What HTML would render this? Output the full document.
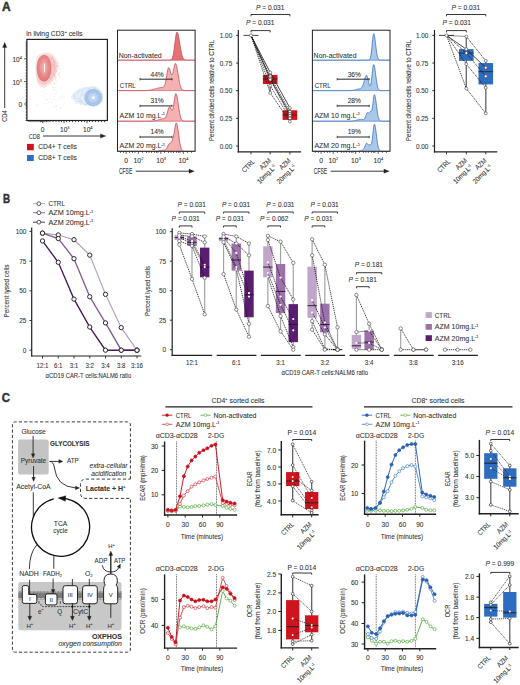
<!DOCTYPE html>
<html><head><meta charset="utf-8"><style>
html,body{margin:0;padding:0;background:#fff;width:520px;height:685px;overflow:hidden}
svg{display:block}
text{font-family:"Liberation Sans", sans-serif;fill:#333;stroke:#333;stroke-width:0.08px}
</style></head><body>
<svg width="520" height="685" viewBox="0 0 520 685">
<defs>
<radialGradient id="rgr" cx="0.5" cy="0.45" r="0.55"><stop offset="0" stop-color="#f4b4b4"/><stop offset="0.55" stop-color="#ea9494"/><stop offset="1" stop-color="#e07878"/></radialGradient>
<radialGradient id="rgb" cx="0.5" cy="0.5" r="0.5"><stop offset="0" stop-color="#d2e3f6"/><stop offset="0.6" stop-color="#b2cdee"/><stop offset="1" stop-color="#9fc0e9"/></radialGradient>
</defs>
<rect width="520" height="685" fill="#fff"/>
<text x="1.9" y="11.2" font-size="12" font-weight="bold" fill="#111" stroke="#111" style="stroke-width:0.45px">A</text>
<text x="26.3" y="36" font-size="6.8" textLength="56" lengthAdjust="spacingAndGlyphs">in living CD3<tspan dy="-2.6" font-size="4.2">+</tspan><tspan dy="2.6"> cells</tspan></text>
<rect x="26.9" y="39.4" width="80.5" height="81.1" fill="none" stroke="#222" stroke-width="1.2" rx="0" />
<line x1="26.9" y1="42" x2="25.6" y2="42" stroke="#222" stroke-width="0.8" />
<line x1="26.9" y1="44" x2="25.6" y2="44" stroke="#222" stroke-width="0.8" />
<line x1="26.9" y1="46" x2="25.6" y2="46" stroke="#222" stroke-width="0.8" />
<line x1="26.9" y1="48" x2="25.6" y2="48" stroke="#222" stroke-width="0.8" />
<line x1="26.9" y1="50" x2="25.6" y2="50" stroke="#222" stroke-width="0.8" />
<line x1="26.9" y1="52" x2="25.6" y2="52" stroke="#222" stroke-width="0.8" />
<line x1="26.9" y1="54" x2="25.6" y2="54" stroke="#222" stroke-width="0.8" />
<line x1="26.9" y1="56" x2="25.6" y2="56" stroke="#222" stroke-width="0.8" />
<line x1="26.9" y1="58.8" x2="24.2" y2="58.8" stroke="#222" stroke-width="0.8" />
<line x1="26.9" y1="61.5" x2="25.6" y2="61.5" stroke="#222" stroke-width="0.8" />
<line x1="26.9" y1="64" x2="25.6" y2="64" stroke="#222" stroke-width="0.8" />
<line x1="26.9" y1="67" x2="25.6" y2="67" stroke="#222" stroke-width="0.8" />
<line x1="26.9" y1="70" x2="25.6" y2="70" stroke="#222" stroke-width="0.8" />
<line x1="26.9" y1="73" x2="25.6" y2="73" stroke="#222" stroke-width="0.8" />
<line x1="26.9" y1="76" x2="25.6" y2="76" stroke="#222" stroke-width="0.8" />
<line x1="26.9" y1="79" x2="25.6" y2="79" stroke="#222" stroke-width="0.8" />
<line x1="26.9" y1="81.6" x2="24.2" y2="81.6" stroke="#222" stroke-width="0.8" />
<line x1="26.9" y1="84" x2="25.6" y2="84" stroke="#222" stroke-width="0.8" />
<line x1="26.9" y1="87" x2="25.6" y2="87" stroke="#222" stroke-width="0.8" />
<line x1="26.9" y1="90" x2="25.6" y2="90" stroke="#222" stroke-width="0.8" />
<line x1="26.9" y1="93" x2="25.6" y2="93" stroke="#222" stroke-width="0.8" />
<line x1="26.9" y1="96" x2="25.6" y2="96" stroke="#222" stroke-width="0.8" />
<line x1="26.9" y1="99" x2="25.6" y2="99" stroke="#222" stroke-width="0.8" />
<line x1="26.9" y1="101" x2="25.6" y2="101" stroke="#222" stroke-width="0.8" />
<line x1="26.9" y1="102.5" x2="25.6" y2="102.5" stroke="#222" stroke-width="0.8" />
<line x1="26.9" y1="104" x2="24.2" y2="104" stroke="#222" stroke-width="0.8" />
<line x1="26.9" y1="105.5" x2="25.6" y2="105.5" stroke="#222" stroke-width="0.8" />
<line x1="26.9" y1="107" x2="25.6" y2="107" stroke="#222" stroke-width="0.8" />
<line x1="26.9" y1="109" x2="25.6" y2="109" stroke="#222" stroke-width="0.8" />
<line x1="26.9" y1="112" x2="25.6" y2="112" stroke="#222" stroke-width="0.8" />
<line x1="26.9" y1="115" x2="25.6" y2="115" stroke="#222" stroke-width="0.8" />
<line x1="26.9" y1="118" x2="25.6" y2="118" stroke="#222" stroke-width="0.8" />
<line x1="26.9" y1="120.5" x2="25.6" y2="120.5" stroke="#222" stroke-width="0.8" />
<line x1="29" y1="120.5" x2="29" y2="122.1" stroke="#222" stroke-width="0.8" />
<line x1="31" y1="120.5" x2="31" y2="122.1" stroke="#222" stroke-width="0.8" />
<line x1="33" y1="120.5" x2="33" y2="122.1" stroke="#222" stroke-width="0.8" />
<line x1="35" y1="120.5" x2="35" y2="122.1" stroke="#222" stroke-width="0.8" />
<line x1="37" y1="120.5" x2="37" y2="122.1" stroke="#222" stroke-width="0.8" />
<line x1="39" y1="120.5" x2="39" y2="122.1" stroke="#222" stroke-width="0.8" />
<line x1="40.5" y1="120.5" x2="40.5" y2="122.1" stroke="#222" stroke-width="0.8" />
<line x1="41.7" y1="120.5" x2="41.7" y2="122.1" stroke="#222" stroke-width="0.8" />
<line x1="42.7" y1="120.5" x2="42.7" y2="123.1" stroke="#222" stroke-width="0.8" />
<line x1="43.8" y1="120.5" x2="43.8" y2="122.1" stroke="#222" stroke-width="0.8" />
<line x1="45" y1="120.5" x2="45" y2="122.1" stroke="#222" stroke-width="0.8" />
<line x1="46.5" y1="120.5" x2="46.5" y2="122.1" stroke="#222" stroke-width="0.8" />
<line x1="48" y1="120.5" x2="48" y2="122.1" stroke="#222" stroke-width="0.8" />
<line x1="50" y1="120.5" x2="50" y2="122.1" stroke="#222" stroke-width="0.8" />
<line x1="53" y1="120.5" x2="53" y2="122.1" stroke="#222" stroke-width="0.8" />
<line x1="56" y1="120.5" x2="56" y2="122.1" stroke="#222" stroke-width="0.8" />
<line x1="59" y1="120.5" x2="59" y2="122.1" stroke="#222" stroke-width="0.8" />
<line x1="61.5" y1="120.5" x2="61.5" y2="122.1" stroke="#222" stroke-width="0.8" />
<line x1="64" y1="120.5" x2="64" y2="123.1" stroke="#222" stroke-width="0.8" />
<line x1="66.5" y1="120.5" x2="66.5" y2="122.1" stroke="#222" stroke-width="0.8" />
<line x1="69.5" y1="120.5" x2="69.5" y2="122.1" stroke="#222" stroke-width="0.8" />
<line x1="72.5" y1="120.5" x2="72.5" y2="122.1" stroke="#222" stroke-width="0.8" />
<line x1="75.5" y1="120.5" x2="75.5" y2="122.1" stroke="#222" stroke-width="0.8" />
<line x1="78.5" y1="120.5" x2="78.5" y2="122.1" stroke="#222" stroke-width="0.8" />
<line x1="81.5" y1="120.5" x2="81.5" y2="122.1" stroke="#222" stroke-width="0.8" />
<line x1="84.5" y1="120.5" x2="84.5" y2="122.1" stroke="#222" stroke-width="0.8" />
<line x1="87" y1="120.5" x2="87" y2="123.1" stroke="#222" stroke-width="0.8" />
<line x1="89.5" y1="120.5" x2="89.5" y2="122.1" stroke="#222" stroke-width="0.8" />
<line x1="92.5" y1="120.5" x2="92.5" y2="122.1" stroke="#222" stroke-width="0.8" />
<line x1="95.5" y1="120.5" x2="95.5" y2="122.1" stroke="#222" stroke-width="0.8" />
<line x1="98.5" y1="120.5" x2="98.5" y2="122.1" stroke="#222" stroke-width="0.8" />
<line x1="101.5" y1="120.5" x2="101.5" y2="122.1" stroke="#222" stroke-width="0.8" />
<line x1="104.5" y1="120.5" x2="104.5" y2="122.1" stroke="#222" stroke-width="0.8" />
<text x="22" y="62.1" font-size="6.6" text-anchor="end">10<tspan dy="-2.8" font-size="4">4</tspan></text>
<text x="22" y="84.7" font-size="6.6" text-anchor="end">10<tspan dy="-2.8" font-size="4">3</tspan></text>
<text x="22.2" y="106.8" font-size="6.6" text-anchor="end">0</text>
<text x="42.7" y="131.6" font-size="6.6" text-anchor="middle">0</text>
<text x="64.8" y="131.8" font-size="6.6" text-anchor="middle">10<tspan dy="-2.8" font-size="4">3</tspan></text>
<text x="87.8" y="131.8" font-size="6.6" text-anchor="middle">10<tspan dy="-2.8" font-size="4">4</tspan></text>
<text x="7.3" y="121.8" font-size="7.9" transform="rotate(-90 7.3 121.8)" textLength="11.5" lengthAdjust="spacingAndGlyphs">CD4</text>
<line x1="4.7" y1="108" x2="4.7" y2="46" stroke="#222" stroke-width="0.9" />
<path d="M2.6 47.5 L4.7 42.3 L6.8 47.5 Z" stroke="#222" stroke-width="0.3" fill="#222" />
<text x="28.8" y="138.6" font-size="8" textLength="11.1" lengthAdjust="spacingAndGlyphs">CD8</text>
<line x1="43" y1="136" x2="101" y2="136" stroke="#222" stroke-width="0.9" />
<path d="M100.5 133.9 L105.8 136.0 L100.5 138.1 Z" stroke="#222" stroke-width="0.3" fill="#222" />
<rect x="42.66" y="97.97" width="0.7" height="0.7" fill="#e2e2e2" stroke="none" stroke-width="0" rx="0" />
<rect x="46.36" y="99.29" width="0.7" height="0.7" fill="#e2e2e2" stroke="none" stroke-width="0" rx="0" />
<rect x="53.52" y="87.44" width="0.7" height="0.7" fill="#e2e2e2" stroke="none" stroke-width="0" rx="0" />
<rect x="36.37" y="104.42" width="0.7" height="0.7" fill="#e2e2e2" stroke="none" stroke-width="0" rx="0" />
<rect x="43.26" y="91.16" width="0.7" height="0.7" fill="#e2e2e2" stroke="none" stroke-width="0" rx="0" />
<rect x="63.88" y="96.35" width="0.7" height="0.7" fill="#e2e2e2" stroke="none" stroke-width="0" rx="0" />
<rect x="59.42" y="96.48" width="0.7" height="0.7" fill="#e2e2e2" stroke="none" stroke-width="0" rx="0" />
<rect x="53.89" y="89.31" width="0.7" height="0.7" fill="#e2e2e2" stroke="none" stroke-width="0" rx="0" />
<rect x="53.78" y="105.1" width="0.7" height="0.7" fill="#e2e2e2" stroke="none" stroke-width="0" rx="0" />
<rect x="50.65" y="102.31" width="0.7" height="0.7" fill="#e2e2e2" stroke="none" stroke-width="0" rx="0" />
<rect x="54.8" y="87.41" width="0.7" height="0.7" fill="#e2e2e2" stroke="none" stroke-width="0" rx="0" />
<rect x="57.23" y="99" width="0.7" height="0.7" fill="#e2e2e2" stroke="none" stroke-width="0" rx="0" />
<rect x="44.44" y="86.68" width="0.7" height="0.7" fill="#e2e2e2" stroke="none" stroke-width="0" rx="0" />
<rect x="60.23" y="96.4" width="0.7" height="0.7" fill="#e2e2e2" stroke="none" stroke-width="0" rx="0" />
<rect x="56.13" y="105.33" width="0.7" height="0.7" fill="#e2e2e2" stroke="none" stroke-width="0" rx="0" />
<rect x="56" y="106.26" width="0.7" height="0.7" fill="#e2e2e2" stroke="none" stroke-width="0" rx="0" />
<rect x="47.06" y="103.62" width="0.7" height="0.7" fill="#e2e2e2" stroke="none" stroke-width="0" rx="0" />
<rect x="48.45" y="106.58" width="0.7" height="0.7" fill="#e2e2e2" stroke="none" stroke-width="0" rx="0" />
<rect x="60.61" y="88.14" width="0.7" height="0.7" fill="#e2e2e2" stroke="none" stroke-width="0" rx="0" />
<rect x="39.81" y="90.77" width="0.7" height="0.7" fill="#e2e2e2" stroke="none" stroke-width="0" rx="0" />
<rect x="63.03" y="95.6" width="0.7" height="0.7" fill="#e2e2e2" stroke="none" stroke-width="0" rx="0" />
<rect x="53.55" y="92.62" width="0.7" height="0.7" fill="#e2e2e2" stroke="none" stroke-width="0" rx="0" />
<rect x="50.2" y="94.49" width="0.7" height="0.7" fill="#e2e2e2" stroke="none" stroke-width="0" rx="0" />
<rect x="45.83" y="98.87" width="0.7" height="0.7" fill="#e2e2e2" stroke="none" stroke-width="0" rx="0" />
<rect x="52.36" y="105.89" width="0.7" height="0.7" fill="#e2e2e2" stroke="none" stroke-width="0" rx="0" />
<rect x="55.1" y="106.44" width="0.7" height="0.7" fill="#e2e2e2" stroke="none" stroke-width="0" rx="0" />
<rect x="59.98" y="107.8" width="0.7" height="0.7" fill="#e2e2e2" stroke="none" stroke-width="0" rx="0" />
<rect x="54.8" y="89.59" width="0.7" height="0.7" fill="#e2e2e2" stroke="none" stroke-width="0" rx="0" />
<rect x="60.1" y="107.22" width="0.7" height="0.7" fill="#e2e2e2" stroke="none" stroke-width="0" rx="0" />
<rect x="61.33" y="98.52" width="0.7" height="0.7" fill="#e2e2e2" stroke="none" stroke-width="0" rx="0" />
<rect x="55.99" y="90.64" width="0.7" height="0.7" fill="#e2e2e2" stroke="none" stroke-width="0" rx="0" />
<rect x="59.29" y="98.62" width="0.7" height="0.7" fill="#e2e2e2" stroke="none" stroke-width="0" rx="0" />
<rect x="43.98" y="87.4" width="0.7" height="0.7" fill="#e2e2e2" stroke="none" stroke-width="0" rx="0" />
<rect x="59.91" y="107.78" width="0.7" height="0.7" fill="#e2e2e2" stroke="none" stroke-width="0" rx="0" />
<rect x="38.48" y="103.61" width="0.7" height="0.7" fill="#e2e2e2" stroke="none" stroke-width="0" rx="0" />
<rect x="47.49" y="89.32" width="0.7" height="0.7" fill="#e2e2e2" stroke="none" stroke-width="0" rx="0" />
<rect x="44.23" y="102.91" width="0.7" height="0.7" fill="#e2e2e2" stroke="none" stroke-width="0" rx="0" />
<rect x="60.44" y="86.97" width="0.7" height="0.7" fill="#e2e2e2" stroke="none" stroke-width="0" rx="0" />
<rect x="53.21" y="86.99" width="0.7" height="0.7" fill="#e2e2e2" stroke="none" stroke-width="0" rx="0" />
<rect x="56.12" y="93.28" width="0.7" height="0.7" fill="#e2e2e2" stroke="none" stroke-width="0" rx="0" />
<rect x="60.67" y="107.57" width="0.7" height="0.7" fill="#e2e2e2" stroke="none" stroke-width="0" rx="0" />
<rect x="50.15" y="107.97" width="0.7" height="0.7" fill="#e2e2e2" stroke="none" stroke-width="0" rx="0" />
<rect x="44.67" y="87.69" width="0.7" height="0.7" fill="#e2e2e2" stroke="none" stroke-width="0" rx="0" />
<rect x="52.79" y="86.69" width="0.7" height="0.7" fill="#e2e2e2" stroke="none" stroke-width="0" rx="0" />
<rect x="41.53" y="94.97" width="0.7" height="0.7" fill="#e2e2e2" stroke="none" stroke-width="0" rx="0" />
<rect x="53.09" y="89.44" width="0.7" height="0.7" fill="#e2e2e2" stroke="none" stroke-width="0" rx="0" />
<rect x="37.19" y="105.09" width="0.7" height="0.7" fill="#e2e2e2" stroke="none" stroke-width="0" rx="0" />
<rect x="44.79" y="107.09" width="0.7" height="0.7" fill="#e2e2e2" stroke="none" stroke-width="0" rx="0" />
<rect x="61.11" y="94.31" width="0.7" height="0.7" fill="#e2e2e2" stroke="none" stroke-width="0" rx="0" />
<rect x="48.89" y="97.44" width="0.7" height="0.7" fill="#e2e2e2" stroke="none" stroke-width="0" rx="0" />
<rect x="54.03" y="99.1" width="0.7" height="0.7" fill="#e2e2e2" stroke="none" stroke-width="0" rx="0" />
<rect x="51.66" y="99.64" width="0.7" height="0.7" fill="#e2e2e2" stroke="none" stroke-width="0" rx="0" />
<rect x="62.34" y="97.15" width="0.7" height="0.7" fill="#e2e2e2" stroke="none" stroke-width="0" rx="0" />
<rect x="48.07" y="101.85" width="0.7" height="0.7" fill="#e2e2e2" stroke="none" stroke-width="0" rx="0" />
<rect x="42.65" y="92.62" width="0.7" height="0.7" fill="#e2e2e2" stroke="none" stroke-width="0" rx="0" />
<rect x="63.38" y="97.46" width="0.7" height="0.7" fill="#e2e2e2" stroke="none" stroke-width="0" rx="0" />
<rect x="51.36" y="86.25" width="0.7" height="0.7" fill="#e2e2e2" stroke="none" stroke-width="0" rx="0" />
<rect x="47.63" y="98.76" width="0.7" height="0.7" fill="#e2e2e2" stroke="none" stroke-width="0" rx="0" />
<rect x="36.56" y="99.55" width="0.7" height="0.7" fill="#e2e2e2" stroke="none" stroke-width="0" rx="0" />
<rect x="53.7" y="87.32" width="0.7" height="0.7" fill="#e2e2e2" stroke="none" stroke-width="0" rx="0" />
<rect x="53.57" y="96.26" width="0.7" height="0.7" fill="#e2e2e2" stroke="none" stroke-width="0" rx="0" />
<rect x="55.02" y="93.76" width="0.7" height="0.7" fill="#e2e2e2" stroke="none" stroke-width="0" rx="0" />
<rect x="55.79" y="102.24" width="0.7" height="0.7" fill="#e2e2e2" stroke="none" stroke-width="0" rx="0" />
<rect x="36.62" y="87.33" width="0.7" height="0.7" fill="#e2e2e2" stroke="none" stroke-width="0" rx="0" />
<rect x="54.93" y="107.19" width="0.7" height="0.7" fill="#e2e2e2" stroke="none" stroke-width="0" rx="0" />
<rect x="43.03" y="96.04" width="0.7" height="0.7" fill="#e2e2e2" stroke="none" stroke-width="0" rx="0" />
<rect x="52.59" y="93.04" width="0.7" height="0.7" fill="#e2e2e2" stroke="none" stroke-width="0" rx="0" />
<rect x="46.19" y="92.88" width="0.7" height="0.7" fill="#e2e2e2" stroke="none" stroke-width="0" rx="0" />
<rect x="46.34" y="99.1" width="0.7" height="0.7" fill="#e2e2e2" stroke="none" stroke-width="0" rx="0" />
<rect x="44.41" y="94.3" width="0.7" height="0.7" fill="#e2e2e2" stroke="none" stroke-width="0" rx="0" />
<path d="M46.5 53 C57 52.5 60 66 55 76 C51.5 84 45 88.5 40.5 86.5 C35 82 35 62 37.5 56.5 C40.5 53.5 43.5 53 46.5 53 Z" stroke="#e7a0a0" stroke-width="0.45" fill="#fcecec" stroke-dasharray="0.6 0.5"/>
<path d="M46.45 54.7 C55.9 54.25 58.6 66.4 54.1 75.4 C50.95 82.6 45.1 86.65 41.05 84.85 C36.1 80.8 36.1 62.8 38.35 57.85 C41.05 55.15 43.75 54.7 46.45 54.7 Z" stroke="#e39090" stroke-width="0.4" fill="#f9dcdc" stroke-dasharray="0.6 0.5"/>
<path d="M46.4 56.4 C54.8 56 57.2 66.8 53.2 74.8 C50.4 81.2 45.2 84.8 41.6 83.2 C37.2 79.6 37.2 63.6 39.2 59.2 C41.6 56.8 44 56.4 46.4 56.4 Z" stroke="#df8686" stroke-width="0.4" fill="#f6cccc" stroke-dasharray="0.7 0.4"/>
<ellipse cx="44.1" cy="68.2" rx="7.0" ry="13.0" fill="url(#rgr)" stroke="#d86464" stroke-width="0.6"/>
<ellipse cx="44.2" cy="67.8" rx="5.0" ry="10.0" fill="none" stroke="#de7474" stroke-width="0.4"/>
<ellipse cx="44.3" cy="67.5" rx="3.2" ry="7.0" fill="none" stroke="#e48a8a" stroke-width="0.35"/>
<line x1="44.6" y1="63.5" x2="44.4" y2="72.5" stroke="#fff" stroke-width="0.9" />
<rect x="55.69" y="77.06" width="0.6" height="0.6" fill="#e79a9a" stroke="none" stroke-width="0" rx="0" />
<rect x="53.1" y="61.68" width="0.6" height="0.6" fill="#e79a9a" stroke="none" stroke-width="0" rx="0" />
<rect x="58.04" y="62.16" width="0.6" height="0.6" fill="#e79a9a" stroke="none" stroke-width="0" rx="0" />
<rect x="51.87" y="68.06" width="0.6" height="0.6" fill="#e79a9a" stroke="none" stroke-width="0" rx="0" />
<rect x="53.22" y="65.01" width="0.6" height="0.6" fill="#e79a9a" stroke="none" stroke-width="0" rx="0" />
<rect x="58.34" y="68.15" width="0.6" height="0.6" fill="#e79a9a" stroke="none" stroke-width="0" rx="0" />
<rect x="53.37" y="74.51" width="0.6" height="0.6" fill="#e79a9a" stroke="none" stroke-width="0" rx="0" />
<rect x="58.85" y="68.53" width="0.6" height="0.6" fill="#e79a9a" stroke="none" stroke-width="0" rx="0" />
<rect x="52.25" y="58.63" width="0.6" height="0.6" fill="#e79a9a" stroke="none" stroke-width="0" rx="0" />
<rect x="55.3" y="60.72" width="0.6" height="0.6" fill="#e79a9a" stroke="none" stroke-width="0" rx="0" />
<rect x="51.84" y="63.36" width="0.6" height="0.6" fill="#e79a9a" stroke="none" stroke-width="0" rx="0" />
<rect x="58.07" y="74.26" width="0.6" height="0.6" fill="#e79a9a" stroke="none" stroke-width="0" rx="0" />
<rect x="58.06" y="65.36" width="0.6" height="0.6" fill="#e79a9a" stroke="none" stroke-width="0" rx="0" />
<rect x="51.3" y="63.76" width="0.6" height="0.6" fill="#e79a9a" stroke="none" stroke-width="0" rx="0" />
<rect x="57.94" y="63.14" width="0.6" height="0.6" fill="#e79a9a" stroke="none" stroke-width="0" rx="0" />
<rect x="53.46" y="67.51" width="0.6" height="0.6" fill="#e79a9a" stroke="none" stroke-width="0" rx="0" />
<rect x="54.2" y="67.29" width="0.6" height="0.6" fill="#e79a9a" stroke="none" stroke-width="0" rx="0" />
<rect x="50.05" y="83.3" width="0.6" height="0.6" fill="#e79a9a" stroke="none" stroke-width="0" rx="0" />
<rect x="54.34" y="83.5" width="0.6" height="0.6" fill="#e79a9a" stroke="none" stroke-width="0" rx="0" />
<rect x="56.63" y="70.57" width="0.6" height="0.6" fill="#e79a9a" stroke="none" stroke-width="0" rx="0" />
<rect x="52.89" y="65.23" width="0.6" height="0.6" fill="#e79a9a" stroke="none" stroke-width="0" rx="0" />
<rect x="52.27" y="57.04" width="0.6" height="0.6" fill="#e79a9a" stroke="none" stroke-width="0" rx="0" />
<rect x="55.89" y="63.61" width="0.6" height="0.6" fill="#e79a9a" stroke="none" stroke-width="0" rx="0" />
<rect x="59.04" y="75.81" width="0.6" height="0.6" fill="#e79a9a" stroke="none" stroke-width="0" rx="0" />
<rect x="59" y="72.31" width="0.6" height="0.6" fill="#e79a9a" stroke="none" stroke-width="0" rx="0" />
<rect x="50.13" y="77.36" width="0.6" height="0.6" fill="#e79a9a" stroke="none" stroke-width="0" rx="0" />
<rect x="51.72" y="64" width="0.6" height="0.6" fill="#e79a9a" stroke="none" stroke-width="0" rx="0" />
<rect x="56.63" y="70.75" width="0.6" height="0.6" fill="#e79a9a" stroke="none" stroke-width="0" rx="0" />
<rect x="54.14" y="83.17" width="0.6" height="0.6" fill="#e79a9a" stroke="none" stroke-width="0" rx="0" />
<rect x="56.12" y="65.24" width="0.6" height="0.6" fill="#e79a9a" stroke="none" stroke-width="0" rx="0" />
<rect x="52.52" y="80.85" width="0.6" height="0.6" fill="#e79a9a" stroke="none" stroke-width="0" rx="0" />
<rect x="54.77" y="78.47" width="0.6" height="0.6" fill="#e79a9a" stroke="none" stroke-width="0" rx="0" />
<rect x="53.52" y="60.92" width="0.6" height="0.6" fill="#e79a9a" stroke="none" stroke-width="0" rx="0" />
<rect x="55.35" y="79.5" width="0.6" height="0.6" fill="#e79a9a" stroke="none" stroke-width="0" rx="0" />
<rect x="51.71" y="78.75" width="0.6" height="0.6" fill="#e79a9a" stroke="none" stroke-width="0" rx="0" />
<rect x="56.29" y="80.88" width="0.6" height="0.6" fill="#e79a9a" stroke="none" stroke-width="0" rx="0" />
<rect x="50.5" y="63.14" width="0.6" height="0.6" fill="#e79a9a" stroke="none" stroke-width="0" rx="0" />
<rect x="52.69" y="70.82" width="0.6" height="0.6" fill="#e79a9a" stroke="none" stroke-width="0" rx="0" />
<rect x="54.23" y="69.19" width="0.6" height="0.6" fill="#e79a9a" stroke="none" stroke-width="0" rx="0" />
<rect x="50.55" y="58.81" width="0.6" height="0.6" fill="#e79a9a" stroke="none" stroke-width="0" rx="0" />
<rect x="51.25" y="57.05" width="0.6" height="0.6" fill="#e79a9a" stroke="none" stroke-width="0" rx="0" />
<rect x="50.86" y="70.06" width="0.6" height="0.6" fill="#e79a9a" stroke="none" stroke-width="0" rx="0" />
<rect x="53.16" y="64.44" width="0.6" height="0.6" fill="#e79a9a" stroke="none" stroke-width="0" rx="0" />
<rect x="53.51" y="74.41" width="0.6" height="0.6" fill="#e79a9a" stroke="none" stroke-width="0" rx="0" />
<rect x="55.87" y="65.83" width="0.6" height="0.6" fill="#e79a9a" stroke="none" stroke-width="0" rx="0" />
<rect x="51.91" y="64.86" width="0.6" height="0.6" fill="#e79a9a" stroke="none" stroke-width="0" rx="0" />
<rect x="51.24" y="71.67" width="0.6" height="0.6" fill="#e79a9a" stroke="none" stroke-width="0" rx="0" />
<rect x="57.16" y="66.41" width="0.6" height="0.6" fill="#e79a9a" stroke="none" stroke-width="0" rx="0" />
<rect x="50.8" y="60.36" width="0.6" height="0.6" fill="#e79a9a" stroke="none" stroke-width="0" rx="0" />
<rect x="53.73" y="73.13" width="0.6" height="0.6" fill="#e79a9a" stroke="none" stroke-width="0" rx="0" />
<rect x="57.83" y="66.41" width="0.6" height="0.6" fill="#e79a9a" stroke="none" stroke-width="0" rx="0" />
<rect x="58.01" y="73.69" width="0.6" height="0.6" fill="#e79a9a" stroke="none" stroke-width="0" rx="0" />
<rect x="54.32" y="66.17" width="0.6" height="0.6" fill="#e79a9a" stroke="none" stroke-width="0" rx="0" />
<rect x="54.96" y="76.09" width="0.6" height="0.6" fill="#e79a9a" stroke="none" stroke-width="0" rx="0" />
<rect x="54.21" y="75.82" width="0.6" height="0.6" fill="#e79a9a" stroke="none" stroke-width="0" rx="0" />
<rect x="54.61" y="62.35" width="0.6" height="0.6" fill="#e79a9a" stroke="none" stroke-width="0" rx="0" />
<path d="M102.5 97.5 C102.5 104.5 96.5 106.5 88.5 105.5 C80.5 104.5 72 101.5 71.5 96.5 C73 91 84.5 86.5 92.5 86.5 C99.5 86.5 102.5 92 102.5 97.5 Z" stroke="#a9c5ea" stroke-width="0.45" fill="#eef4fb" stroke-dasharray="0.6 0.5"/>
<path d="M101.55 97.45 C101.55 103.75 96.15 105.55 88.95 104.65 C81.75 103.75 74.1 101.05 73.65 96.55 C75 91.6 85.35 87.55 92.55 87.55 C98.85 87.55 101.55 92.5 101.55 97.45 Z" stroke="#a2c0e8" stroke-width="0.4" fill="#e4eefa" stroke-dasharray="0.6 0.5"/>
<ellipse cx="93.2" cy="97.6" rx="8.6" ry="8.3" fill="url(#rgb)" stroke="#8fb3e2" stroke-width="0.5"/>
<ellipse cx="93.2" cy="97.6" rx="6.0" ry="5.8" fill="none" stroke="#8eb2e0" stroke-width="0.35"/>
<circle cx="93.2" cy="97.6" r="1.2" fill="#fff" stroke="none" stroke-width="0" />
<rect x="74.22" y="94.92" width="0.6" height="0.6" fill="#9dbde6" stroke="none" stroke-width="0" rx="0" />
<rect x="85.2" y="104.47" width="0.6" height="0.6" fill="#9dbde6" stroke="none" stroke-width="0" rx="0" />
<rect x="80.13" y="95.75" width="0.6" height="0.6" fill="#9dbde6" stroke="none" stroke-width="0" rx="0" />
<rect x="75.82" y="103.08" width="0.6" height="0.6" fill="#9dbde6" stroke="none" stroke-width="0" rx="0" />
<rect x="75.2" y="98.34" width="0.6" height="0.6" fill="#9dbde6" stroke="none" stroke-width="0" rx="0" />
<rect x="94.17" y="88.24" width="0.6" height="0.6" fill="#9dbde6" stroke="none" stroke-width="0" rx="0" />
<rect x="73.9" y="92.81" width="0.6" height="0.6" fill="#9dbde6" stroke="none" stroke-width="0" rx="0" />
<rect x="79.51" y="89.78" width="0.6" height="0.6" fill="#9dbde6" stroke="none" stroke-width="0" rx="0" />
<rect x="79.75" y="98.94" width="0.6" height="0.6" fill="#9dbde6" stroke="none" stroke-width="0" rx="0" />
<rect x="83.39" y="94.33" width="0.6" height="0.6" fill="#9dbde6" stroke="none" stroke-width="0" rx="0" />
<rect x="82.86" y="94.78" width="0.6" height="0.6" fill="#9dbde6" stroke="none" stroke-width="0" rx="0" />
<rect x="74.58" y="96.51" width="0.6" height="0.6" fill="#9dbde6" stroke="none" stroke-width="0" rx="0" />
<rect x="102.16" y="94.67" width="0.6" height="0.6" fill="#9dbde6" stroke="none" stroke-width="0" rx="0" />
<rect x="74.97" y="101.71" width="0.6" height="0.6" fill="#9dbde6" stroke="none" stroke-width="0" rx="0" />
<rect x="77.77" y="91.61" width="0.6" height="0.6" fill="#9dbde6" stroke="none" stroke-width="0" rx="0" />
<rect x="78.17" y="98.3" width="0.6" height="0.6" fill="#9dbde6" stroke="none" stroke-width="0" rx="0" />
<rect x="81.76" y="90.88" width="0.6" height="0.6" fill="#9dbde6" stroke="none" stroke-width="0" rx="0" />
<rect x="81.17" y="100.81" width="0.6" height="0.6" fill="#9dbde6" stroke="none" stroke-width="0" rx="0" />
<rect x="84.81" y="103.93" width="0.6" height="0.6" fill="#9dbde6" stroke="none" stroke-width="0" rx="0" />
<rect x="77.34" y="93.57" width="0.6" height="0.6" fill="#9dbde6" stroke="none" stroke-width="0" rx="0" />
<rect x="81.98" y="102.26" width="0.6" height="0.6" fill="#9dbde6" stroke="none" stroke-width="0" rx="0" />
<rect x="86.51" y="103.53" width="0.6" height="0.6" fill="#9dbde6" stroke="none" stroke-width="0" rx="0" />
<rect x="94.74" y="106.17" width="0.6" height="0.6" fill="#9dbde6" stroke="none" stroke-width="0" rx="0" />
<rect x="86.49" y="90.82" width="0.6" height="0.6" fill="#9dbde6" stroke="none" stroke-width="0" rx="0" />
<rect x="79.28" y="101.07" width="0.6" height="0.6" fill="#9dbde6" stroke="none" stroke-width="0" rx="0" />
<rect x="92.94" y="106.13" width="0.6" height="0.6" fill="#9dbde6" stroke="none" stroke-width="0" rx="0" />
<rect x="77.88" y="91.43" width="0.6" height="0.6" fill="#9dbde6" stroke="none" stroke-width="0" rx="0" />
<rect x="77.8" y="100.8" width="0.6" height="0.6" fill="#9dbde6" stroke="none" stroke-width="0" rx="0" />
<rect x="79.91" y="104.17" width="0.6" height="0.6" fill="#9dbde6" stroke="none" stroke-width="0" rx="0" />
<rect x="81.72" y="94.89" width="0.6" height="0.6" fill="#9dbde6" stroke="none" stroke-width="0" rx="0" />
<rect x="94.6" y="87.8" width="0.6" height="0.6" fill="#9dbde6" stroke="none" stroke-width="0" rx="0" />
<rect x="81.04" y="93.49" width="0.6" height="0.6" fill="#9dbde6" stroke="none" stroke-width="0" rx="0" />
<rect x="78.51" y="98.29" width="0.6" height="0.6" fill="#9dbde6" stroke="none" stroke-width="0" rx="0" />
<rect x="101.62" y="94.21" width="0.6" height="0.6" fill="#9dbde6" stroke="none" stroke-width="0" rx="0" />
<rect x="88.88" y="88.5" width="0.6" height="0.6" fill="#9dbde6" stroke="none" stroke-width="0" rx="0" />
<rect x="80.52" y="99.97" width="0.6" height="0.6" fill="#9dbde6" stroke="none" stroke-width="0" rx="0" />
<rect x="101.18" y="93.86" width="0.6" height="0.6" fill="#9dbde6" stroke="none" stroke-width="0" rx="0" />
<rect x="81.16" y="100.19" width="0.6" height="0.6" fill="#9dbde6" stroke="none" stroke-width="0" rx="0" />
<rect x="80.23" y="101.84" width="0.6" height="0.6" fill="#9dbde6" stroke="none" stroke-width="0" rx="0" />
<rect x="101.8" y="100.13" width="0.6" height="0.6" fill="#9dbde6" stroke="none" stroke-width="0" rx="0" />
<rect x="88.62" y="88.38" width="0.6" height="0.6" fill="#9dbde6" stroke="none" stroke-width="0" rx="0" />
<rect x="89.56" y="89.82" width="0.6" height="0.6" fill="#9dbde6" stroke="none" stroke-width="0" rx="0" />
<rect x="27" y="143.9" width="6.8" height="6.4" fill="#d0141e" stroke="none" stroke-width="0" rx="0" />
<text x="38.2" y="149.4" font-size="6.9" textLength="38.6" lengthAdjust="spacingAndGlyphs">CD4+ T cells</text>
<rect x="27" y="155" width="6.8" height="6" fill="#2e6cbf" stroke="none" stroke-width="0" rx="0" />
<text x="38.2" y="159.9" font-size="6.9" textLength="38.6" lengthAdjust="spacingAndGlyphs">CD8+ T cells</text>
<path d="M118 60.2 L118.25 60.2 L118.5 60.2 L118.75 60.2 L119 60.2 L119.25 60.2 L119.5 60.2 L119.75 60.2 L120 60.2 L120.25 60.2 L120.5 60.2 L120.75 60.2 L121 60.2 L121.25 60.2 L121.5 60.2 L121.75 60.2 L122 60.2 L122.25 60.2 L122.5 60.2 L122.75 60.2 L123 60.2 L123.25 60.2 L123.5 60.2 L123.75 60.2 L124 60.2 L124.25 60.2 L124.5 60.2 L124.75 60.2 L125 60.2 L125.25 60.2 L125.5 60.2 L125.75 60.2 L126 60.2 L126.25 60.2 L126.5 60.2 L126.75 60.2 L127 60.2 L127.25 60.2 L127.5 60.2 L127.75 60.2 L128 60.2 L128.25 60.2 L128.5 60.2 L128.75 60.2 L129 60.2 L129.25 60.2 L129.5 60.2 L129.75 60.2 L130 60.2 L130.25 60.2 L130.5 60.2 L130.75 60.2 L131 60.2 L131.25 60.2 L131.5 60.2 L131.75 60.2 L132 60.2 L132.25 60.2 L132.5 60.2 L132.75 60.2 L133 60.2 L133.25 60.2 L133.5 60.2 L133.75 60.2 L134 60.2 L134.25 60.2 L134.5 60.2 L134.75 60.2 L135 60.2 L135.25 60.2 L135.5 60.2 L135.75 60.2 L136 60.2 L136.25 60.2 L136.5 60.2 L136.75 60.2 L137 60.2 L137.25 60.2 L137.5 60.2 L137.75 60.2 L138 60.2 L138.25 60.2 L138.5 60.2 L138.75 60.2 L139 60.2 L139.25 60.2 L139.5 60.2 L139.75 60.2 L140 60.2 L140.25 60.2 L140.5 60.2 L140.75 60.2 L141 60.2 L141.25 60.2 L141.5 60.2 L141.75 60.2 L142 60.2 L142.25 60.2 L142.5 60.2 L142.75 60.2 L143 60.2 L143.25 60.2 L143.5 60.2 L143.75 60.2 L144 60.2 L144.25 60.2 L144.5 60.2 L144.75 60.2 L145 60.2 L145.25 60.2 L145.5 60.2 L145.75 60.2 L146 60.2 L146.25 60.2 L146.5 60.2 L146.75 60.2 L147 60.2 L147.25 60.2 L147.5 60.2 L147.75 60.2 L148 60.2 L148.25 60.2 L148.5 60.2 L148.75 60.2 L149 60.2 L149.25 60.2 L149.5 60.2 L149.75 60.2 L150 60.2 L150.25 60.2 L150.5 60.2 L150.75 60.2 L151 60.2 L151.25 60.2 L151.5 60.2 L151.75 60.2 L152 60.2 L152.25 60.2 L152.5 60.2 L152.75 60.2 L153 60.2 L153.25 60.2 L153.5 60.2 L153.75 60.2 L154 60.2 L154.25 60.2 L154.5 60.2 L154.75 60.2 L155 60.2 L155.25 60.2 L155.5 60.2 L155.75 60.2 L156 60.2 L156.25 60.2 L156.5 60.2 L156.75 60.2 L157 60.2 L157.25 60.2 L157.5 60.2 L157.75 60.2 L158 60.2 L158.25 60.2 L158.5 60.2 L158.75 60.2 L159 60.2 L159.25 60.2 L159.5 60.2 L159.75 60.2 L160 60.2 L160.25 60.2 L160.5 60.2 L160.75 60.2 L161 60.2 L161.25 60.2 L161.5 60.2 L161.75 60.2 L162 60.2 L162.25 60.2 L162.5 60.2 L162.75 60.2 L163 60.2 L163.25 60.2 L163.5 60.2 L163.75 60.2 L164 60.2 L164.25 60.2 L164.5 60.2 L164.75 60.2 L165 60.2 L165.25 60.2 L165.5 60.2 L165.75 60.2 L166 60.2 L166.25 60.2 L166.5 60.2 L166.75 60.2 L167 60.2 L167.25 60.2 L167.5 60.2 L167.75 60.2 L168 60.2 L168.25 60.2 L168.5 60.19 L168.75 60.19 L169 60.18 L169.25 60.17 L169.5 60.15 L169.75 60.13 L170 60.09 L170.25 60.04 L170.5 59.97 L170.75 59.87 L171 59.73 L171.25 59.54 L171.5 59.29 L171.75 58.97 L172 58.56 L172.25 58.03 L172.5 57.38 L172.75 56.59 L173 55.64 L173.25 54.52 L173.5 53.22 L173.75 51.75 L174 50.11 L174.25 48.32 L174.5 46.41 L174.75 44.43 L175 42.41 L175.25 40.41 L175.5 38.5 L175.75 36.75 L176 35.2 L176.25 33.93 L176.5 32.98 L176.75 32.4 L177 32.2 L177.25 32.32 L177.5 32.68 L177.75 33.26 L178 34.06 L178.25 35.05 L178.5 36.2 L178.75 37.5 L179 38.92 L179.25 40.41 L179.5 41.96 L179.75 43.53 L180 45.1 L180.25 46.63 L180.5 48.11 L180.75 49.53 L181 50.86 L181.25 52.09 L181.5 53.22 L181.75 54.24 L182 55.16 L182.25 55.97 L182.5 56.68 L182.75 57.3 L183 57.83 L183.25 58.28 L183.5 58.66 L183.75 58.97 L184 59.23 L184.25 59.44 L184.5 59.61 L184.75 59.74 L185 59.85 L185.25 59.94 L185.5 60 L185.75 60.05 L186 60.09 L186.25 60.12 L186.5 60.14 L186.75 60.16 L187 60.17 L187.25 60.18 L187.5 60.19 L187.75 60.19 L188 60.19 L188.25 60.2 L188.5 60.2 L188.75 60.2 L189 60.2 L189.25 60.2 L189.5 60.2 L189.75 60.2 L190 60.2 L190.25 60.2 L190.5 60.2 L190.75 60.2 L191 60.2 L191.25 60.2 L191.5 60.2 L191.75 60.2 L192 60.2 L192.25 60.2 L192.5 60.2 L192.75 60.2 L193 60.2 L193.25 60.2 L193.5 60.2 L193.75 60.2 L194 60.2 L194.25 60.2 L194.5 60.2 L194.6 60.2 L118 60.2 Z" stroke="none" stroke-width="0" fill="#e57373" />
<path d="M118 60.2 L118.25 60.2 L118.5 60.2 L118.75 60.2 L119 60.2 L119.25 60.2 L119.5 60.2 L119.75 60.2 L120 60.2 L120.25 60.2 L120.5 60.2 L120.75 60.2 L121 60.2 L121.25 60.2 L121.5 60.2 L121.75 60.2 L122 60.2 L122.25 60.2 L122.5 60.2 L122.75 60.2 L123 60.2 L123.25 60.2 L123.5 60.2 L123.75 60.2 L124 60.2 L124.25 60.2 L124.5 60.2 L124.75 60.2 L125 60.2 L125.25 60.2 L125.5 60.2 L125.75 60.2 L126 60.2 L126.25 60.2 L126.5 60.2 L126.75 60.2 L127 60.2 L127.25 60.2 L127.5 60.2 L127.75 60.2 L128 60.2 L128.25 60.2 L128.5 60.2 L128.75 60.2 L129 60.2 L129.25 60.2 L129.5 60.2 L129.75 60.2 L130 60.2 L130.25 60.2 L130.5 60.2 L130.75 60.2 L131 60.2 L131.25 60.2 L131.5 60.2 L131.75 60.2 L132 60.2 L132.25 60.2 L132.5 60.2 L132.75 60.2 L133 60.2 L133.25 60.2 L133.5 60.2 L133.75 60.2 L134 60.2 L134.25 60.2 L134.5 60.2 L134.75 60.2 L135 60.2 L135.25 60.2 L135.5 60.2 L135.75 60.2 L136 60.2 L136.25 60.2 L136.5 60.2 L136.75 60.2 L137 60.2 L137.25 60.2 L137.5 60.2 L137.75 60.2 L138 60.2 L138.25 60.2 L138.5 60.2 L138.75 60.2 L139 60.2 L139.25 60.2 L139.5 60.2 L139.75 60.2 L140 60.2 L140.25 60.2 L140.5 60.2 L140.75 60.2 L141 60.2 L141.25 60.2 L141.5 60.2 L141.75 60.2 L142 60.2 L142.25 60.2 L142.5 60.2 L142.75 60.2 L143 60.2 L143.25 60.2 L143.5 60.2 L143.75 60.2 L144 60.2 L144.25 60.2 L144.5 60.2 L144.75 60.2 L145 60.2 L145.25 60.2 L145.5 60.2 L145.75 60.2 L146 60.2 L146.25 60.2 L146.5 60.2 L146.75 60.2 L147 60.2 L147.25 60.2 L147.5 60.2 L147.75 60.2 L148 60.2 L148.25 60.2 L148.5 60.2 L148.75 60.2 L149 60.2 L149.25 60.2 L149.5 60.2 L149.75 60.2 L150 60.2 L150.25 60.2 L150.5 60.2 L150.75 60.2 L151 60.2 L151.25 60.2 L151.5 60.2 L151.75 60.2 L152 60.2 L152.25 60.2 L152.5 60.2 L152.75 60.2 L153 60.2 L153.25 60.2 L153.5 60.2 L153.75 60.2 L154 60.2 L154.25 60.2 L154.5 60.2 L154.75 60.2 L155 60.2 L155.25 60.2 L155.5 60.2 L155.75 60.2 L156 60.2 L156.25 60.2 L156.5 60.2 L156.75 60.2 L157 60.2 L157.25 60.2 L157.5 60.2 L157.75 60.2 L158 60.2 L158.25 60.2 L158.5 60.2 L158.75 60.2 L159 60.2 L159.25 60.2 L159.5 60.2 L159.75 60.2 L160 60.2 L160.25 60.2 L160.5 60.2 L160.75 60.2 L161 60.2 L161.25 60.2 L161.5 60.2 L161.75 60.2 L162 60.2 L162.25 60.2 L162.5 60.2 L162.75 60.2 L163 60.2 L163.25 60.2 L163.5 60.2 L163.75 60.2 L164 60.2 L164.25 60.2 L164.5 60.2 L164.75 60.2 L165 60.2 L165.25 60.2 L165.5 60.2 L165.75 60.2 L166 60.2 L166.25 60.2 L166.5 60.2 L166.75 60.2 L167 60.2 L167.25 60.2 L167.5 60.2 L167.75 60.2 L168 60.2 L168.25 60.2 L168.5 60.19 L168.75 60.19 L169 60.18 L169.25 60.17 L169.5 60.15 L169.75 60.13 L170 60.09 L170.25 60.04 L170.5 59.97 L170.75 59.87 L171 59.73 L171.25 59.54 L171.5 59.29 L171.75 58.97 L172 58.56 L172.25 58.03 L172.5 57.38 L172.75 56.59 L173 55.64 L173.25 54.52 L173.5 53.22 L173.75 51.75 L174 50.11 L174.25 48.32 L174.5 46.41 L174.75 44.43 L175 42.41 L175.25 40.41 L175.5 38.5 L175.75 36.75 L176 35.2 L176.25 33.93 L176.5 32.98 L176.75 32.4 L177 32.2 L177.25 32.32 L177.5 32.68 L177.75 33.26 L178 34.06 L178.25 35.05 L178.5 36.2 L178.75 37.5 L179 38.92 L179.25 40.41 L179.5 41.96 L179.75 43.53 L180 45.1 L180.25 46.63 L180.5 48.11 L180.75 49.53 L181 50.86 L181.25 52.09 L181.5 53.22 L181.75 54.24 L182 55.16 L182.25 55.97 L182.5 56.68 L182.75 57.3 L183 57.83 L183.25 58.28 L183.5 58.66 L183.75 58.97 L184 59.23 L184.25 59.44 L184.5 59.61 L184.75 59.74 L185 59.85 L185.25 59.94 L185.5 60 L185.75 60.05 L186 60.09 L186.25 60.12 L186.5 60.14 L186.75 60.16 L187 60.17 L187.25 60.18 L187.5 60.19 L187.75 60.19 L188 60.19 L188.25 60.2 L188.5 60.2 L188.75 60.2 L189 60.2 L189.25 60.2 L189.5 60.2 L189.75 60.2 L190 60.2 L190.25 60.2 L190.5 60.2 L190.75 60.2 L191 60.2 L191.25 60.2 L191.5 60.2 L191.75 60.2 L192 60.2 L192.25 60.2 L192.5 60.2 L192.75 60.2 L193 60.2 L193.25 60.2 L193.5 60.2 L193.75 60.2 L194 60.2 L194.25 60.2 L194.5 60.2" stroke="#c84a58" stroke-width="0.85" fill="none" />
<line x1="117.5" y1="60.2" x2="195.1" y2="60.2" stroke="#c84a58" stroke-width="0.6" />
<path d="M118 90.6 L118.25 90.6 L118.5 90.6 L118.75 90.6 L119 90.6 L119.25 90.6 L119.5 90.6 L119.75 90.6 L120 90.6 L120.25 90.6 L120.5 90.6 L120.75 90.6 L121 90.6 L121.25 90.6 L121.5 90.6 L121.75 90.6 L122 90.6 L122.25 90.6 L122.5 90.6 L122.75 90.6 L123 90.6 L123.25 90.6 L123.5 90.6 L123.75 90.6 L124 90.6 L124.25 90.6 L124.5 90.6 L124.75 90.6 L125 90.6 L125.25 90.6 L125.5 90.6 L125.75 90.6 L126 90.6 L126.25 90.6 L126.5 90.6 L126.75 90.6 L127 90.6 L127.25 90.6 L127.5 90.6 L127.75 90.6 L128 90.6 L128.25 90.6 L128.5 90.6 L128.75 90.6 L129 90.6 L129.25 90.6 L129.5 90.6 L129.75 90.6 L130 90.6 L130.25 90.6 L130.5 90.6 L130.75 90.6 L131 90.6 L131.25 90.6 L131.5 90.6 L131.75 90.6 L132 90.6 L132.25 90.6 L132.5 90.6 L132.75 90.6 L133 90.6 L133.25 90.6 L133.5 90.6 L133.75 90.6 L134 90.6 L134.25 90.6 L134.5 90.6 L134.75 90.6 L135 90.6 L135.25 90.6 L135.5 90.6 L135.75 90.6 L136 90.6 L136.25 90.6 L136.5 90.6 L136.75 90.6 L137 90.6 L137.25 90.6 L137.5 90.6 L137.75 90.6 L138 90.6 L138.25 90.6 L138.5 90.6 L138.75 90.6 L139 90.6 L139.25 90.6 L139.5 90.6 L139.75 90.6 L140 90.6 L140.25 90.59 L140.5 90.59 L140.75 90.59 L141 90.59 L141.25 90.59 L141.5 90.59 L141.75 90.59 L142 90.58 L142.25 90.58 L142.5 90.58 L142.75 90.58 L143 90.57 L143.25 90.57 L143.5 90.57 L143.75 90.56 L144 90.56 L144.25 90.55 L144.5 90.55 L144.75 90.54 L145 90.53 L145.25 90.52 L145.5 90.51 L145.75 90.5 L146 90.49 L146.25 90.48 L146.5 90.47 L146.75 90.45 L147 90.44 L147.25 90.42 L147.5 90.4 L147.75 90.38 L148 90.36 L148.25 90.34 L148.5 90.31 L148.75 90.29 L149 90.26 L149.25 90.23 L149.5 90.19 L149.75 90.16 L150 90.12 L150.25 90.08 L150.5 90.04 L150.75 90 L151 89.95 L151.25 89.9 L151.5 89.85 L151.75 89.8 L152 89.74 L152.25 89.69 L152.5 89.63 L152.75 89.56 L153 89.5 L153.25 89.43 L153.5 89.37 L153.75 89.3 L154 89.23 L154.25 89.15 L154.5 89.08 L154.75 89.01 L155 88.93 L155.25 88.86 L155.5 88.78 L155.75 88.7 L156 88.63 L156.25 88.55 L156.5 88.48 L156.75 88.41 L157 88.34 L157.25 88.27 L157.5 88.2 L157.75 88.13 L158 88.07 L158.25 88.01 L158.5 87.95 L158.75 87.9 L159 87.85 L159.25 87.8 L159.5 87.76 L159.75 87.72 L160 87.69 L160.25 87.66 L160.5 87.64 L160.75 87.62 L161 87.6 L161.25 87.58 L161.5 87.57 L161.75 87.55 L162 87.53 L162.25 87.51 L162.5 87.47 L162.75 87.41 L163 87.33 L163.25 87.21 L163.5 87.05 L163.75 86.82 L164 86.52 L164.25 86.13 L164.5 85.64 L164.75 85.02 L165 84.28 L165.25 83.39 L165.5 82.36 L165.75 81.19 L166 79.89 L166.25 78.49 L166.5 77.01 L166.75 75.49 L167 73.98 L167.25 72.53 L167.5 71.19 L167.75 70.02 L168 69.06 L168.25 68.35 L168.5 67.9 L168.75 67.74 L169 67.85 L169.25 68.22 L169.5 68.8 L169.75 69.54 L170 70.39 L170.25 71.3 L170.5 72.19 L170.75 73.02 L171 73.74 L171.25 74.31 L171.5 74.69 L171.75 74.88 L172 74.85 L172.25 74.59 L172.5 74.12 L172.75 73.44 L173 72.57 L173.25 71.52 L173.5 70.35 L173.75 69.1 L174 67.83 L174.25 66.61 L174.5 65.5 L174.75 64.58 L175 63.91 L175.25 63.55 L175.5 63.53 L175.75 63.79 L176 64.26 L176.25 64.93 L176.5 65.79 L176.75 66.83 L177 68.03 L177.25 69.36 L177.5 70.79 L177.75 72.3 L178 73.84 L178.25 75.39 L178.5 76.93 L178.75 78.42 L179 79.85 L179.25 81.2 L179.5 82.45 L179.75 83.6 L180 84.65 L180.25 85.58 L180.5 86.41 L180.75 87.13 L181 87.76 L181.25 88.29 L181.5 88.74 L181.75 89.12 L182 89.43 L182.25 89.68 L182.5 89.89 L182.75 90.05 L183 90.18 L183.25 90.28 L183.5 90.36 L183.75 90.42 L184 90.47 L184.25 90.51 L184.5 90.53 L184.75 90.55 L185 90.57 L185.25 90.58 L185.5 90.58 L185.75 90.59 L186 90.59 L186.25 90.59 L186.5 90.6 L186.75 90.6 L187 90.6 L187.25 90.6 L187.5 90.6 L187.75 90.6 L188 90.6 L188.25 90.6 L188.5 90.6 L188.75 90.6 L189 90.6 L189.25 90.6 L189.5 90.6 L189.75 90.6 L190 90.6 L190.25 90.6 L190.5 90.6 L190.75 90.6 L191 90.6 L191.25 90.6 L191.5 90.6 L191.75 90.6 L192 90.6 L192.25 90.6 L192.5 90.6 L192.75 90.6 L193 90.6 L193.25 90.6 L193.5 90.6 L193.75 90.6 L194 90.6 L194.25 90.6 L194.5 90.6 L194.6 90.6 L118 90.6 Z" stroke="none" stroke-width="0" fill="#f4b1b1" />
<path d="M118 90.6 L118.25 90.6 L118.5 90.6 L118.75 90.6 L119 90.6 L119.25 90.6 L119.5 90.6 L119.75 90.6 L120 90.6 L120.25 90.6 L120.5 90.6 L120.75 90.6 L121 90.6 L121.25 90.6 L121.5 90.6 L121.75 90.6 L122 90.6 L122.25 90.6 L122.5 90.6 L122.75 90.6 L123 90.6 L123.25 90.6 L123.5 90.6 L123.75 90.6 L124 90.6 L124.25 90.6 L124.5 90.6 L124.75 90.6 L125 90.6 L125.25 90.6 L125.5 90.6 L125.75 90.6 L126 90.6 L126.25 90.6 L126.5 90.6 L126.75 90.6 L127 90.6 L127.25 90.6 L127.5 90.6 L127.75 90.6 L128 90.6 L128.25 90.6 L128.5 90.6 L128.75 90.6 L129 90.6 L129.25 90.6 L129.5 90.6 L129.75 90.6 L130 90.6 L130.25 90.6 L130.5 90.6 L130.75 90.6 L131 90.6 L131.25 90.6 L131.5 90.6 L131.75 90.6 L132 90.6 L132.25 90.6 L132.5 90.6 L132.75 90.6 L133 90.6 L133.25 90.6 L133.5 90.6 L133.75 90.6 L134 90.6 L134.25 90.6 L134.5 90.6 L134.75 90.6 L135 90.6 L135.25 90.6 L135.5 90.6 L135.75 90.6 L136 90.6 L136.25 90.6 L136.5 90.6 L136.75 90.6 L137 90.6 L137.25 90.6 L137.5 90.6 L137.75 90.6 L138 90.6 L138.25 90.6 L138.5 90.6 L138.75 90.6 L139 90.6 L139.25 90.6 L139.5 90.6 L139.75 90.6 L140 90.6 L140.25 90.59 L140.5 90.59 L140.75 90.59 L141 90.59 L141.25 90.59 L141.5 90.59 L141.75 90.59 L142 90.58 L142.25 90.58 L142.5 90.58 L142.75 90.58 L143 90.57 L143.25 90.57 L143.5 90.57 L143.75 90.56 L144 90.56 L144.25 90.55 L144.5 90.55 L144.75 90.54 L145 90.53 L145.25 90.52 L145.5 90.51 L145.75 90.5 L146 90.49 L146.25 90.48 L146.5 90.47 L146.75 90.45 L147 90.44 L147.25 90.42 L147.5 90.4 L147.75 90.38 L148 90.36 L148.25 90.34 L148.5 90.31 L148.75 90.29 L149 90.26 L149.25 90.23 L149.5 90.19 L149.75 90.16 L150 90.12 L150.25 90.08 L150.5 90.04 L150.75 90 L151 89.95 L151.25 89.9 L151.5 89.85 L151.75 89.8 L152 89.74 L152.25 89.69 L152.5 89.63 L152.75 89.56 L153 89.5 L153.25 89.43 L153.5 89.37 L153.75 89.3 L154 89.23 L154.25 89.15 L154.5 89.08 L154.75 89.01 L155 88.93 L155.25 88.86 L155.5 88.78 L155.75 88.7 L156 88.63 L156.25 88.55 L156.5 88.48 L156.75 88.41 L157 88.34 L157.25 88.27 L157.5 88.2 L157.75 88.13 L158 88.07 L158.25 88.01 L158.5 87.95 L158.75 87.9 L159 87.85 L159.25 87.8 L159.5 87.76 L159.75 87.72 L160 87.69 L160.25 87.66 L160.5 87.64 L160.75 87.62 L161 87.6 L161.25 87.58 L161.5 87.57 L161.75 87.55 L162 87.53 L162.25 87.51 L162.5 87.47 L162.75 87.41 L163 87.33 L163.25 87.21 L163.5 87.05 L163.75 86.82 L164 86.52 L164.25 86.13 L164.5 85.64 L164.75 85.02 L165 84.28 L165.25 83.39 L165.5 82.36 L165.75 81.19 L166 79.89 L166.25 78.49 L166.5 77.01 L166.75 75.49 L167 73.98 L167.25 72.53 L167.5 71.19 L167.75 70.02 L168 69.06 L168.25 68.35 L168.5 67.9 L168.75 67.74 L169 67.85 L169.25 68.22 L169.5 68.8 L169.75 69.54 L170 70.39 L170.25 71.3 L170.5 72.19 L170.75 73.02 L171 73.74 L171.25 74.31 L171.5 74.69 L171.75 74.88 L172 74.85 L172.25 74.59 L172.5 74.12 L172.75 73.44 L173 72.57 L173.25 71.52 L173.5 70.35 L173.75 69.1 L174 67.83 L174.25 66.61 L174.5 65.5 L174.75 64.58 L175 63.91 L175.25 63.55 L175.5 63.53 L175.75 63.79 L176 64.26 L176.25 64.93 L176.5 65.79 L176.75 66.83 L177 68.03 L177.25 69.36 L177.5 70.79 L177.75 72.3 L178 73.84 L178.25 75.39 L178.5 76.93 L178.75 78.42 L179 79.85 L179.25 81.2 L179.5 82.45 L179.75 83.6 L180 84.65 L180.25 85.58 L180.5 86.41 L180.75 87.13 L181 87.76 L181.25 88.29 L181.5 88.74 L181.75 89.12 L182 89.43 L182.25 89.68 L182.5 89.89 L182.75 90.05 L183 90.18 L183.25 90.28 L183.5 90.36 L183.75 90.42 L184 90.47 L184.25 90.51 L184.5 90.53 L184.75 90.55 L185 90.57 L185.25 90.58 L185.5 90.58 L185.75 90.59 L186 90.59 L186.25 90.59 L186.5 90.6 L186.75 90.6 L187 90.6 L187.25 90.6 L187.5 90.6 L187.75 90.6 L188 90.6 L188.25 90.6 L188.5 90.6 L188.75 90.6 L189 90.6 L189.25 90.6 L189.5 90.6 L189.75 90.6 L190 90.6 L190.25 90.6 L190.5 90.6 L190.75 90.6 L191 90.6 L191.25 90.6 L191.5 90.6 L191.75 90.6 L192 90.6 L192.25 90.6 L192.5 90.6 L192.75 90.6 L193 90.6 L193.25 90.6 L193.5 90.6 L193.75 90.6 L194 90.6 L194.25 90.6 L194.5 90.6" stroke="#c84a58" stroke-width="0.85" fill="none" />
<line x1="117.5" y1="90.6" x2="195.1" y2="90.6" stroke="#c84a58" stroke-width="0.6" />
<path d="M118 121.2 L118.25 121.2 L118.5 121.2 L118.75 121.2 L119 121.2 L119.25 121.2 L119.5 121.2 L119.75 121.2 L120 121.2 L120.25 121.2 L120.5 121.2 L120.75 121.2 L121 121.2 L121.25 121.2 L121.5 121.2 L121.75 121.2 L122 121.2 L122.25 121.2 L122.5 121.2 L122.75 121.2 L123 121.2 L123.25 121.2 L123.5 121.2 L123.75 121.2 L124 121.2 L124.25 121.2 L124.5 121.2 L124.75 121.2 L125 121.2 L125.25 121.2 L125.5 121.2 L125.75 121.2 L126 121.2 L126.25 121.2 L126.5 121.2 L126.75 121.2 L127 121.2 L127.25 121.2 L127.5 121.2 L127.75 121.2 L128 121.2 L128.25 121.2 L128.5 121.2 L128.75 121.2 L129 121.2 L129.25 121.2 L129.5 121.2 L129.75 121.2 L130 121.2 L130.25 121.2 L130.5 121.2 L130.75 121.2 L131 121.2 L131.25 121.2 L131.5 121.2 L131.75 121.2 L132 121.2 L132.25 121.2 L132.5 121.2 L132.75 121.2 L133 121.2 L133.25 121.2 L133.5 121.2 L133.75 121.2 L134 121.2 L134.25 121.2 L134.5 121.2 L134.75 121.2 L135 121.2 L135.25 121.2 L135.5 121.2 L135.75 121.2 L136 121.2 L136.25 121.2 L136.5 121.2 L136.75 121.2 L137 121.2 L137.25 121.2 L137.5 121.2 L137.75 121.2 L138 121.2 L138.25 121.2 L138.5 121.2 L138.75 121.2 L139 121.2 L139.25 121.2 L139.5 121.2 L139.75 121.2 L140 121.2 L140.25 121.2 L140.5 121.2 L140.75 121.2 L141 121.2 L141.25 121.2 L141.5 121.2 L141.75 121.2 L142 121.2 L142.25 121.2 L142.5 121.2 L142.75 121.2 L143 121.2 L143.25 121.2 L143.5 121.2 L143.75 121.2 L144 121.2 L144.25 121.2 L144.5 121.2 L144.75 121.2 L145 121.2 L145.25 121.2 L145.5 121.2 L145.75 121.2 L146 121.2 L146.25 121.2 L146.5 121.19 L146.75 121.19 L147 121.19 L147.25 121.19 L147.5 121.19 L147.75 121.19 L148 121.19 L148.25 121.18 L148.5 121.18 L148.75 121.18 L149 121.17 L149.25 121.17 L149.5 121.16 L149.75 121.16 L150 121.15 L150.25 121.14 L150.5 121.13 L150.75 121.13 L151 121.11 L151.25 121.1 L151.5 121.09 L151.75 121.08 L152 121.06 L152.25 121.04 L152.5 121.02 L152.75 121 L153 120.98 L153.25 120.95 L153.5 120.92 L153.75 120.89 L154 120.86 L154.25 120.83 L154.5 120.79 L154.75 120.75 L155 120.71 L155.25 120.66 L155.5 120.61 L155.75 120.56 L156 120.5 L156.25 120.45 L156.5 120.39 L156.75 120.33 L157 120.26 L157.25 120.19 L157.5 120.13 L157.75 120.06 L158 119.98 L158.25 119.91 L158.5 119.83 L158.75 119.76 L159 119.68 L159.25 119.61 L159.5 119.53 L159.75 119.46 L160 119.38 L160.25 119.31 L160.5 119.24 L160.75 119.18 L161 119.11 L161.25 119.05 L161.5 118.99 L161.75 118.94 L162 118.88 L162.25 118.84 L162.5 118.79 L162.75 118.75 L163 118.7 L163.25 118.66 L163.5 118.61 L163.75 118.55 L164 118.48 L164.25 118.39 L164.5 118.27 L164.75 118.12 L165 117.93 L165.25 117.68 L165.5 117.38 L165.75 117 L166 116.54 L166.25 116 L166.5 115.38 L166.75 114.67 L167 113.89 L167.25 113.04 L167.5 112.14 L167.75 111.23 L168 110.32 L168.25 109.45 L168.5 108.66 L168.75 107.97 L169 107.42 L169.25 107.02 L169.5 106.81 L169.75 106.77 L170 106.91 L170.25 107.21 L170.5 107.64 L170.75 108.18 L171 108.76 L171.25 109.33 L171.5 109.85 L171.75 110.25 L172 110.47 L172.25 110.48 L172.5 110.23 L172.75 109.69 L173 108.86 L173.25 107.74 L173.5 106.36 L173.75 104.76 L174 103.01 L174.25 101.19 L174.5 99.38 L174.75 97.69 L175 96.19 L175.25 94.98 L175.5 94.13 L175.75 93.69 L176 93.69 L176.25 94 L176.5 94.59 L176.75 95.44 L177 96.52 L177.25 97.81 L177.5 99.27 L177.75 100.86 L178 102.53 L178.25 104.25 L178.5 105.98 L178.75 107.68 L179 109.32 L179.25 110.87 L179.5 112.32 L179.75 113.64 L180 114.84 L180.25 115.91 L180.5 116.84 L180.75 117.65 L181 118.34 L181.25 118.92 L181.5 119.4 L181.75 119.8 L182 120.12 L182.25 120.37 L182.5 120.58 L182.75 120.73 L183 120.85 L183.25 120.95 L183.5 121.02 L183.75 121.07 L184 121.11 L184.25 121.14 L184.5 121.15 L184.75 121.17 L185 121.18 L185.25 121.19 L185.5 121.19 L185.75 121.19 L186 121.2 L186.25 121.2 L186.5 121.2 L186.75 121.2 L187 121.2 L187.25 121.2 L187.5 121.2 L187.75 121.2 L188 121.2 L188.25 121.2 L188.5 121.2 L188.75 121.2 L189 121.2 L189.25 121.2 L189.5 121.2 L189.75 121.2 L190 121.2 L190.25 121.2 L190.5 121.2 L190.75 121.2 L191 121.2 L191.25 121.2 L191.5 121.2 L191.75 121.2 L192 121.2 L192.25 121.2 L192.5 121.2 L192.75 121.2 L193 121.2 L193.25 121.2 L193.5 121.2 L193.75 121.2 L194 121.2 L194.25 121.2 L194.5 121.2 L194.6 121.2 L118 121.2 Z" stroke="none" stroke-width="0" fill="#f4b1b1" />
<path d="M118 121.2 L118.25 121.2 L118.5 121.2 L118.75 121.2 L119 121.2 L119.25 121.2 L119.5 121.2 L119.75 121.2 L120 121.2 L120.25 121.2 L120.5 121.2 L120.75 121.2 L121 121.2 L121.25 121.2 L121.5 121.2 L121.75 121.2 L122 121.2 L122.25 121.2 L122.5 121.2 L122.75 121.2 L123 121.2 L123.25 121.2 L123.5 121.2 L123.75 121.2 L124 121.2 L124.25 121.2 L124.5 121.2 L124.75 121.2 L125 121.2 L125.25 121.2 L125.5 121.2 L125.75 121.2 L126 121.2 L126.25 121.2 L126.5 121.2 L126.75 121.2 L127 121.2 L127.25 121.2 L127.5 121.2 L127.75 121.2 L128 121.2 L128.25 121.2 L128.5 121.2 L128.75 121.2 L129 121.2 L129.25 121.2 L129.5 121.2 L129.75 121.2 L130 121.2 L130.25 121.2 L130.5 121.2 L130.75 121.2 L131 121.2 L131.25 121.2 L131.5 121.2 L131.75 121.2 L132 121.2 L132.25 121.2 L132.5 121.2 L132.75 121.2 L133 121.2 L133.25 121.2 L133.5 121.2 L133.75 121.2 L134 121.2 L134.25 121.2 L134.5 121.2 L134.75 121.2 L135 121.2 L135.25 121.2 L135.5 121.2 L135.75 121.2 L136 121.2 L136.25 121.2 L136.5 121.2 L136.75 121.2 L137 121.2 L137.25 121.2 L137.5 121.2 L137.75 121.2 L138 121.2 L138.25 121.2 L138.5 121.2 L138.75 121.2 L139 121.2 L139.25 121.2 L139.5 121.2 L139.75 121.2 L140 121.2 L140.25 121.2 L140.5 121.2 L140.75 121.2 L141 121.2 L141.25 121.2 L141.5 121.2 L141.75 121.2 L142 121.2 L142.25 121.2 L142.5 121.2 L142.75 121.2 L143 121.2 L143.25 121.2 L143.5 121.2 L143.75 121.2 L144 121.2 L144.25 121.2 L144.5 121.2 L144.75 121.2 L145 121.2 L145.25 121.2 L145.5 121.2 L145.75 121.2 L146 121.2 L146.25 121.2 L146.5 121.19 L146.75 121.19 L147 121.19 L147.25 121.19 L147.5 121.19 L147.75 121.19 L148 121.19 L148.25 121.18 L148.5 121.18 L148.75 121.18 L149 121.17 L149.25 121.17 L149.5 121.16 L149.75 121.16 L150 121.15 L150.25 121.14 L150.5 121.13 L150.75 121.13 L151 121.11 L151.25 121.1 L151.5 121.09 L151.75 121.08 L152 121.06 L152.25 121.04 L152.5 121.02 L152.75 121 L153 120.98 L153.25 120.95 L153.5 120.92 L153.75 120.89 L154 120.86 L154.25 120.83 L154.5 120.79 L154.75 120.75 L155 120.71 L155.25 120.66 L155.5 120.61 L155.75 120.56 L156 120.5 L156.25 120.45 L156.5 120.39 L156.75 120.33 L157 120.26 L157.25 120.19 L157.5 120.13 L157.75 120.06 L158 119.98 L158.25 119.91 L158.5 119.83 L158.75 119.76 L159 119.68 L159.25 119.61 L159.5 119.53 L159.75 119.46 L160 119.38 L160.25 119.31 L160.5 119.24 L160.75 119.18 L161 119.11 L161.25 119.05 L161.5 118.99 L161.75 118.94 L162 118.88 L162.25 118.84 L162.5 118.79 L162.75 118.75 L163 118.7 L163.25 118.66 L163.5 118.61 L163.75 118.55 L164 118.48 L164.25 118.39 L164.5 118.27 L164.75 118.12 L165 117.93 L165.25 117.68 L165.5 117.38 L165.75 117 L166 116.54 L166.25 116 L166.5 115.38 L166.75 114.67 L167 113.89 L167.25 113.04 L167.5 112.14 L167.75 111.23 L168 110.32 L168.25 109.45 L168.5 108.66 L168.75 107.97 L169 107.42 L169.25 107.02 L169.5 106.81 L169.75 106.77 L170 106.91 L170.25 107.21 L170.5 107.64 L170.75 108.18 L171 108.76 L171.25 109.33 L171.5 109.85 L171.75 110.25 L172 110.47 L172.25 110.48 L172.5 110.23 L172.75 109.69 L173 108.86 L173.25 107.74 L173.5 106.36 L173.75 104.76 L174 103.01 L174.25 101.19 L174.5 99.38 L174.75 97.69 L175 96.19 L175.25 94.98 L175.5 94.13 L175.75 93.69 L176 93.69 L176.25 94 L176.5 94.59 L176.75 95.44 L177 96.52 L177.25 97.81 L177.5 99.27 L177.75 100.86 L178 102.53 L178.25 104.25 L178.5 105.98 L178.75 107.68 L179 109.32 L179.25 110.87 L179.5 112.32 L179.75 113.64 L180 114.84 L180.25 115.91 L180.5 116.84 L180.75 117.65 L181 118.34 L181.25 118.92 L181.5 119.4 L181.75 119.8 L182 120.12 L182.25 120.37 L182.5 120.58 L182.75 120.73 L183 120.85 L183.25 120.95 L183.5 121.02 L183.75 121.07 L184 121.11 L184.25 121.14 L184.5 121.15 L184.75 121.17 L185 121.18 L185.25 121.19 L185.5 121.19 L185.75 121.19 L186 121.2 L186.25 121.2 L186.5 121.2 L186.75 121.2 L187 121.2 L187.25 121.2 L187.5 121.2 L187.75 121.2 L188 121.2 L188.25 121.2 L188.5 121.2 L188.75 121.2 L189 121.2 L189.25 121.2 L189.5 121.2 L189.75 121.2 L190 121.2 L190.25 121.2 L190.5 121.2 L190.75 121.2 L191 121.2 L191.25 121.2 L191.5 121.2 L191.75 121.2 L192 121.2 L192.25 121.2 L192.5 121.2 L192.75 121.2 L193 121.2 L193.25 121.2 L193.5 121.2 L193.75 121.2 L194 121.2 L194.25 121.2 L194.5 121.2" stroke="#c84a58" stroke-width="0.85" fill="none" />
<line x1="117.5" y1="121.2" x2="195.1" y2="121.2" stroke="#c84a58" stroke-width="0.6" />
<path d="M118 151.3 L118.25 151.3 L118.5 151.3 L118.75 151.3 L119 151.3 L119.25 151.3 L119.5 151.3 L119.75 151.3 L120 151.3 L120.25 151.3 L120.5 151.3 L120.75 151.3 L121 151.3 L121.25 151.3 L121.5 151.3 L121.75 151.3 L122 151.3 L122.25 151.3 L122.5 151.3 L122.75 151.3 L123 151.3 L123.25 151.3 L123.5 151.3 L123.75 151.3 L124 151.3 L124.25 151.3 L124.5 151.3 L124.75 151.3 L125 151.3 L125.25 151.3 L125.5 151.3 L125.75 151.3 L126 151.3 L126.25 151.3 L126.5 151.3 L126.75 151.3 L127 151.3 L127.25 151.3 L127.5 151.3 L127.75 151.3 L128 151.3 L128.25 151.3 L128.5 151.3 L128.75 151.3 L129 151.3 L129.25 151.3 L129.5 151.3 L129.75 151.3 L130 151.3 L130.25 151.3 L130.5 151.3 L130.75 151.3 L131 151.3 L131.25 151.3 L131.5 151.3 L131.75 151.3 L132 151.3 L132.25 151.3 L132.5 151.3 L132.75 151.3 L133 151.3 L133.25 151.3 L133.5 151.3 L133.75 151.3 L134 151.3 L134.25 151.3 L134.5 151.3 L134.75 151.3 L135 151.3 L135.25 151.3 L135.5 151.3 L135.75 151.3 L136 151.3 L136.25 151.3 L136.5 151.3 L136.75 151.3 L137 151.3 L137.25 151.3 L137.5 151.3 L137.75 151.3 L138 151.3 L138.25 151.3 L138.5 151.3 L138.75 151.3 L139 151.3 L139.25 151.3 L139.5 151.3 L139.75 151.3 L140 151.3 L140.25 151.3 L140.5 151.3 L140.75 151.3 L141 151.3 L141.25 151.3 L141.5 151.3 L141.75 151.3 L142 151.3 L142.25 151.3 L142.5 151.3 L142.75 151.3 L143 151.3 L143.25 151.3 L143.5 151.3 L143.75 151.3 L144 151.3 L144.25 151.3 L144.5 151.3 L144.75 151.3 L145 151.3 L145.25 151.3 L145.5 151.3 L145.75 151.3 L146 151.3 L146.25 151.3 L146.5 151.3 L146.75 151.3 L147 151.3 L147.25 151.3 L147.5 151.3 L147.75 151.3 L148 151.3 L148.25 151.3 L148.5 151.3 L148.75 151.3 L149 151.3 L149.25 151.3 L149.5 151.3 L149.75 151.3 L150 151.3 L150.25 151.3 L150.5 151.3 L150.75 151.3 L151 151.3 L151.25 151.3 L151.5 151.29 L151.75 151.29 L152 151.29 L152.25 151.29 L152.5 151.29 L152.75 151.28 L153 151.28 L153.25 151.28 L153.5 151.27 L153.75 151.27 L154 151.26 L154.25 151.25 L154.5 151.25 L154.75 151.24 L155 151.23 L155.25 151.22 L155.5 151.2 L155.75 151.19 L156 151.17 L156.25 151.16 L156.5 151.14 L156.75 151.12 L157 151.09 L157.25 151.07 L157.5 151.04 L157.75 151.01 L158 150.98 L158.25 150.95 L158.5 150.91 L158.75 150.87 L159 150.83 L159.25 150.79 L159.5 150.75 L159.75 150.71 L160 150.66 L160.25 150.62 L160.5 150.57 L160.75 150.53 L161 150.48 L161.25 150.44 L161.5 150.39 L161.75 150.35 L162 150.31 L162.25 150.28 L162.5 150.24 L162.75 150.21 L163 150.18 L163.25 150.15 L163.5 150.13 L163.75 150.11 L164 150.09 L164.25 150.07 L164.5 150.04 L164.75 150 L165 149.95 L165.25 149.87 L165.5 149.77 L165.75 149.62 L166 149.42 L166.25 149.15 L166.5 148.82 L166.75 148.41 L167 147.94 L167.25 147.41 L167.5 146.83 L167.75 146.23 L168 145.64 L168.25 145.08 L168.5 144.57 L168.75 144.15 L169 143.81 L169.25 143.56 L169.5 143.38 L169.75 143.26 L170 143.17 L170.25 143.07 L170.5 142.94 L170.75 142.76 L171 142.51 L171.25 142.19 L171.5 141.78 L171.75 141.29 L172 140.74 L172.25 140.13 L172.5 139.45 L172.75 138.71 L173 137.89 L173.25 136.99 L173.5 135.97 L173.75 134.83 L174 133.56 L174.25 132.17 L174.5 130.68 L174.75 129.13 L175 127.58 L175.25 126.11 L175.5 124.82 L175.75 123.8 L176 123.13 L176.25 122.89 L176.5 123.12 L176.75 123.73 L177 124.6 L177.25 125.71 L177.5 127.05 L177.75 128.57 L178 130.25 L178.25 132.03 L178.5 133.87 L178.75 135.73 L179 137.56 L179.25 139.32 L179.5 140.99 L179.75 142.53 L180 143.94 L180.25 145.2 L180.5 146.31 L180.75 147.27 L181 148.09 L181.25 148.77 L181.5 149.33 L181.75 149.79 L182 150.16 L182.25 150.45 L182.5 150.67 L182.75 150.84 L183 150.97 L183.25 151.07 L183.5 151.14 L183.75 151.19 L184 151.22 L184.25 151.25 L184.5 151.27 L184.75 151.28 L185 151.29 L185.25 151.29 L185.5 151.29 L185.75 151.3 L186 151.3 L186.25 151.3 L186.5 151.3 L186.75 151.3 L187 151.3 L187.25 151.3 L187.5 151.3 L187.75 151.3 L188 151.3 L188.25 151.3 L188.5 151.3 L188.75 151.3 L189 151.3 L189.25 151.3 L189.5 151.3 L189.75 151.3 L190 151.3 L190.25 151.3 L190.5 151.3 L190.75 151.3 L191 151.3 L191.25 151.3 L191.5 151.3 L191.75 151.3 L192 151.3 L192.25 151.3 L192.5 151.3 L192.75 151.3 L193 151.3 L193.25 151.3 L193.5 151.3 L193.75 151.3 L194 151.3 L194.25 151.3 L194.5 151.3 L194.6 151.3 L118 151.3 Z" stroke="none" stroke-width="0" fill="#f4b1b1" />
<path d="M118 151.3 L118.25 151.3 L118.5 151.3 L118.75 151.3 L119 151.3 L119.25 151.3 L119.5 151.3 L119.75 151.3 L120 151.3 L120.25 151.3 L120.5 151.3 L120.75 151.3 L121 151.3 L121.25 151.3 L121.5 151.3 L121.75 151.3 L122 151.3 L122.25 151.3 L122.5 151.3 L122.75 151.3 L123 151.3 L123.25 151.3 L123.5 151.3 L123.75 151.3 L124 151.3 L124.25 151.3 L124.5 151.3 L124.75 151.3 L125 151.3 L125.25 151.3 L125.5 151.3 L125.75 151.3 L126 151.3 L126.25 151.3 L126.5 151.3 L126.75 151.3 L127 151.3 L127.25 151.3 L127.5 151.3 L127.75 151.3 L128 151.3 L128.25 151.3 L128.5 151.3 L128.75 151.3 L129 151.3 L129.25 151.3 L129.5 151.3 L129.75 151.3 L130 151.3 L130.25 151.3 L130.5 151.3 L130.75 151.3 L131 151.3 L131.25 151.3 L131.5 151.3 L131.75 151.3 L132 151.3 L132.25 151.3 L132.5 151.3 L132.75 151.3 L133 151.3 L133.25 151.3 L133.5 151.3 L133.75 151.3 L134 151.3 L134.25 151.3 L134.5 151.3 L134.75 151.3 L135 151.3 L135.25 151.3 L135.5 151.3 L135.75 151.3 L136 151.3 L136.25 151.3 L136.5 151.3 L136.75 151.3 L137 151.3 L137.25 151.3 L137.5 151.3 L137.75 151.3 L138 151.3 L138.25 151.3 L138.5 151.3 L138.75 151.3 L139 151.3 L139.25 151.3 L139.5 151.3 L139.75 151.3 L140 151.3 L140.25 151.3 L140.5 151.3 L140.75 151.3 L141 151.3 L141.25 151.3 L141.5 151.3 L141.75 151.3 L142 151.3 L142.25 151.3 L142.5 151.3 L142.75 151.3 L143 151.3 L143.25 151.3 L143.5 151.3 L143.75 151.3 L144 151.3 L144.25 151.3 L144.5 151.3 L144.75 151.3 L145 151.3 L145.25 151.3 L145.5 151.3 L145.75 151.3 L146 151.3 L146.25 151.3 L146.5 151.3 L146.75 151.3 L147 151.3 L147.25 151.3 L147.5 151.3 L147.75 151.3 L148 151.3 L148.25 151.3 L148.5 151.3 L148.75 151.3 L149 151.3 L149.25 151.3 L149.5 151.3 L149.75 151.3 L150 151.3 L150.25 151.3 L150.5 151.3 L150.75 151.3 L151 151.3 L151.25 151.3 L151.5 151.29 L151.75 151.29 L152 151.29 L152.25 151.29 L152.5 151.29 L152.75 151.28 L153 151.28 L153.25 151.28 L153.5 151.27 L153.75 151.27 L154 151.26 L154.25 151.25 L154.5 151.25 L154.75 151.24 L155 151.23 L155.25 151.22 L155.5 151.2 L155.75 151.19 L156 151.17 L156.25 151.16 L156.5 151.14 L156.75 151.12 L157 151.09 L157.25 151.07 L157.5 151.04 L157.75 151.01 L158 150.98 L158.25 150.95 L158.5 150.91 L158.75 150.87 L159 150.83 L159.25 150.79 L159.5 150.75 L159.75 150.71 L160 150.66 L160.25 150.62 L160.5 150.57 L160.75 150.53 L161 150.48 L161.25 150.44 L161.5 150.39 L161.75 150.35 L162 150.31 L162.25 150.28 L162.5 150.24 L162.75 150.21 L163 150.18 L163.25 150.15 L163.5 150.13 L163.75 150.11 L164 150.09 L164.25 150.07 L164.5 150.04 L164.75 150 L165 149.95 L165.25 149.87 L165.5 149.77 L165.75 149.62 L166 149.42 L166.25 149.15 L166.5 148.82 L166.75 148.41 L167 147.94 L167.25 147.41 L167.5 146.83 L167.75 146.23 L168 145.64 L168.25 145.08 L168.5 144.57 L168.75 144.15 L169 143.81 L169.25 143.56 L169.5 143.38 L169.75 143.26 L170 143.17 L170.25 143.07 L170.5 142.94 L170.75 142.76 L171 142.51 L171.25 142.19 L171.5 141.78 L171.75 141.29 L172 140.74 L172.25 140.13 L172.5 139.45 L172.75 138.71 L173 137.89 L173.25 136.99 L173.5 135.97 L173.75 134.83 L174 133.56 L174.25 132.17 L174.5 130.68 L174.75 129.13 L175 127.58 L175.25 126.11 L175.5 124.82 L175.75 123.8 L176 123.13 L176.25 122.89 L176.5 123.12 L176.75 123.73 L177 124.6 L177.25 125.71 L177.5 127.05 L177.75 128.57 L178 130.25 L178.25 132.03 L178.5 133.87 L178.75 135.73 L179 137.56 L179.25 139.32 L179.5 140.99 L179.75 142.53 L180 143.94 L180.25 145.2 L180.5 146.31 L180.75 147.27 L181 148.09 L181.25 148.77 L181.5 149.33 L181.75 149.79 L182 150.16 L182.25 150.45 L182.5 150.67 L182.75 150.84 L183 150.97 L183.25 151.07 L183.5 151.14 L183.75 151.19 L184 151.22 L184.25 151.25 L184.5 151.27 L184.75 151.28 L185 151.29 L185.25 151.29 L185.5 151.29 L185.75 151.3 L186 151.3 L186.25 151.3 L186.5 151.3 L186.75 151.3 L187 151.3 L187.25 151.3 L187.5 151.3 L187.75 151.3 L188 151.3 L188.25 151.3 L188.5 151.3 L188.75 151.3 L189 151.3 L189.25 151.3 L189.5 151.3 L189.75 151.3 L190 151.3 L190.25 151.3 L190.5 151.3 L190.75 151.3 L191 151.3 L191.25 151.3 L191.5 151.3 L191.75 151.3 L192 151.3 L192.25 151.3 L192.5 151.3 L192.75 151.3 L193 151.3 L193.25 151.3 L193.5 151.3 L193.75 151.3 L194 151.3 L194.25 151.3 L194.5 151.3" stroke="#c84a58" stroke-width="0.85" fill="none" />
<rect x="117.5" y="30.2" width="77.6" height="121.1" fill="none" stroke="#222" stroke-width="1" rx="0" />
<text x="118.7" y="57.7" font-size="7" textLength="43" lengthAdjust="spacingAndGlyphs">Non-activated</text>
<text x="119.8" y="88.4" font-size="7" textLength="15.9" lengthAdjust="spacingAndGlyphs">CTRL</text>
<text x="119.5" y="118" font-size="7" textLength="45.5" lengthAdjust="spacingAndGlyphs">AZM 10 mg.L<tspan dy="-2.6" font-size="4">-1</tspan></text>
<text x="119.5" y="148.3" font-size="7" textLength="45.5" lengthAdjust="spacingAndGlyphs">AZM 20 mg.L<tspan dy="-2.6" font-size="4">-1</tspan></text>
<text x="157.1" y="76.8" font-size="7" text-anchor="middle" textLength="13.3" lengthAdjust="spacingAndGlyphs">44%</text>
<line x1="140" y1="79.2" x2="172" y2="79.2" stroke="#2a2a2a" stroke-width="1" />
<line x1="140" y1="78" x2="140" y2="80.4" stroke="#2a2a2a" stroke-width="0.8" />
<line x1="172" y1="78" x2="172" y2="80.4" stroke="#2a2a2a" stroke-width="0.8" />
<text x="157.1" y="103.2" font-size="7" text-anchor="middle" textLength="13.3" lengthAdjust="spacingAndGlyphs">31%</text>
<line x1="140" y1="105.9" x2="172" y2="105.9" stroke="#2a2a2a" stroke-width="1" />
<line x1="140" y1="104.7" x2="140" y2="107.1" stroke="#2a2a2a" stroke-width="0.8" />
<line x1="172" y1="104.7" x2="172" y2="107.1" stroke="#2a2a2a" stroke-width="0.8" />
<text x="157.1" y="134.3" font-size="7" text-anchor="middle" textLength="13.3" lengthAdjust="spacingAndGlyphs">14%</text>
<line x1="140" y1="137" x2="172" y2="137" stroke="#2a2a2a" stroke-width="1" />
<line x1="140" y1="135.8" x2="140" y2="138.2" stroke="#2a2a2a" stroke-width="0.8" />
<line x1="172" y1="135.8" x2="172" y2="138.2" stroke="#2a2a2a" stroke-width="0.8" />
<line x1="120.5" y1="151.3" x2="120.5" y2="152.9" stroke="#222" stroke-width="0.7" />
<line x1="123.5" y1="151.3" x2="123.5" y2="152.9" stroke="#222" stroke-width="0.7" />
<line x1="126.2" y1="151.3" x2="126.2" y2="153.9" stroke="#222" stroke-width="0.7" />
<line x1="129.5" y1="151.3" x2="129.5" y2="152.9" stroke="#222" stroke-width="0.7" />
<line x1="132.5" y1="151.3" x2="132.5" y2="152.9" stroke="#222" stroke-width="0.7" />
<line x1="135" y1="151.3" x2="135" y2="152.9" stroke="#222" stroke-width="0.7" />
<line x1="138.3" y1="151.3" x2="138.3" y2="153.9" stroke="#222" stroke-width="0.7" />
<line x1="142.5" y1="151.3" x2="142.5" y2="152.9" stroke="#222" stroke-width="0.7" />
<line x1="146.5" y1="151.3" x2="146.5" y2="152.9" stroke="#222" stroke-width="0.7" />
<line x1="149" y1="151.3" x2="149" y2="152.9" stroke="#222" stroke-width="0.7" />
<line x1="151.5" y1="151.3" x2="151.5" y2="152.9" stroke="#222" stroke-width="0.7" />
<line x1="154.5" y1="151.3" x2="154.5" y2="152.9" stroke="#222" stroke-width="0.7" />
<line x1="156.5" y1="151.3" x2="156.5" y2="152.9" stroke="#222" stroke-width="0.7" />
<line x1="158" y1="151.3" x2="158" y2="152.9" stroke="#222" stroke-width="0.7" />
<line x1="160.8" y1="151.3" x2="160.8" y2="153.9" stroke="#222" stroke-width="0.7" />
<line x1="164.5" y1="151.3" x2="164.5" y2="152.9" stroke="#222" stroke-width="0.7" />
<line x1="168.5" y1="151.3" x2="168.5" y2="152.9" stroke="#222" stroke-width="0.7" />
<line x1="171" y1="151.3" x2="171" y2="152.9" stroke="#222" stroke-width="0.7" />
<line x1="173.5" y1="151.3" x2="173.5" y2="152.9" stroke="#222" stroke-width="0.7" />
<line x1="176.5" y1="151.3" x2="176.5" y2="152.9" stroke="#222" stroke-width="0.7" />
<line x1="178.5" y1="151.3" x2="178.5" y2="152.9" stroke="#222" stroke-width="0.7" />
<line x1="180" y1="151.3" x2="180" y2="152.9" stroke="#222" stroke-width="0.7" />
<line x1="183.3" y1="151.3" x2="183.3" y2="153.9" stroke="#222" stroke-width="0.7" />
<line x1="187.5" y1="151.3" x2="187.5" y2="152.9" stroke="#222" stroke-width="0.7" />
<line x1="191.5" y1="151.3" x2="191.5" y2="152.9" stroke="#222" stroke-width="0.7" />
<text x="126.2" y="163" font-size="6.8" text-anchor="middle">0</text>
<text x="138.5" y="163" font-size="6.8" text-anchor="middle">10<tspan dy="-2.6" font-size="4">2</tspan></text>
<text x="161.1" y="163" font-size="6.8" text-anchor="middle">10<tspan dy="-2.6" font-size="4">3</tspan></text>
<text x="183.5" y="163" font-size="6.8" text-anchor="middle">10<tspan dy="-2.6" font-size="4">4</tspan></text>
<text x="118.9" y="173.9" font-size="8.3" textLength="13.4" lengthAdjust="spacingAndGlyphs">CFSE</text>
<line x1="135.8" y1="171.2" x2="189.5" y2="171.2" stroke="#222" stroke-width="0.9" />
<path d="M189 169.1 L194.3 171.2 L189 173.3 Z" stroke="#222" stroke-width="0.3" fill="#222" />
<path d="M312.9 60.2 L313.15 60.2 L313.4 60.2 L313.65 60.2 L313.9 60.2 L314.15 60.2 L314.4 60.2 L314.65 60.2 L314.9 60.2 L315.15 60.2 L315.4 60.2 L315.65 60.2 L315.9 60.2 L316.15 60.2 L316.4 60.2 L316.65 60.2 L316.9 60.2 L317.15 60.2 L317.4 60.2 L317.65 60.2 L317.9 60.2 L318.15 60.2 L318.4 60.2 L318.65 60.2 L318.9 60.2 L319.15 60.2 L319.4 60.2 L319.65 60.2 L319.9 60.2 L320.15 60.2 L320.4 60.2 L320.65 60.2 L320.9 60.2 L321.15 60.2 L321.4 60.2 L321.65 60.2 L321.9 60.2 L322.15 60.2 L322.4 60.2 L322.65 60.2 L322.9 60.2 L323.15 60.2 L323.4 60.2 L323.65 60.2 L323.9 60.2 L324.15 60.2 L324.4 60.2 L324.65 60.2 L324.9 60.2 L325.15 60.2 L325.4 60.2 L325.65 60.2 L325.9 60.2 L326.15 60.2 L326.4 60.2 L326.65 60.2 L326.9 60.2 L327.15 60.2 L327.4 60.2 L327.65 60.2 L327.9 60.2 L328.15 60.2 L328.4 60.2 L328.65 60.2 L328.9 60.2 L329.15 60.2 L329.4 60.2 L329.65 60.2 L329.9 60.2 L330.15 60.2 L330.4 60.2 L330.65 60.2 L330.9 60.2 L331.15 60.2 L331.4 60.2 L331.65 60.2 L331.9 60.2 L332.15 60.2 L332.4 60.2 L332.65 60.2 L332.9 60.2 L333.15 60.2 L333.4 60.2 L333.65 60.2 L333.9 60.2 L334.15 60.2 L334.4 60.2 L334.65 60.2 L334.9 60.2 L335.15 60.2 L335.4 60.2 L335.65 60.2 L335.9 60.2 L336.15 60.2 L336.4 60.2 L336.65 60.2 L336.9 60.2 L337.15 60.2 L337.4 60.2 L337.65 60.2 L337.9 60.2 L338.15 60.2 L338.4 60.2 L338.65 60.2 L338.9 60.2 L339.15 60.2 L339.4 60.2 L339.65 60.2 L339.9 60.2 L340.15 60.2 L340.4 60.2 L340.65 60.2 L340.9 60.2 L341.15 60.2 L341.4 60.2 L341.65 60.2 L341.9 60.2 L342.15 60.2 L342.4 60.2 L342.65 60.2 L342.9 60.2 L343.15 60.2 L343.4 60.2 L343.65 60.2 L343.9 60.2 L344.15 60.2 L344.4 60.2 L344.65 60.2 L344.9 60.2 L345.15 60.2 L345.4 60.2 L345.65 60.2 L345.9 60.2 L346.15 60.2 L346.4 60.2 L346.65 60.2 L346.9 60.2 L347.15 60.2 L347.4 60.2 L347.65 60.2 L347.9 60.2 L348.15 60.2 L348.4 60.2 L348.65 60.2 L348.9 60.2 L349.15 60.2 L349.4 60.2 L349.65 60.2 L349.9 60.2 L350.15 60.2 L350.4 60.2 L350.65 60.2 L350.9 60.2 L351.15 60.2 L351.4 60.2 L351.65 60.2 L351.9 60.2 L352.15 60.2 L352.4 60.2 L352.65 60.2 L352.9 60.2 L353.15 60.2 L353.4 60.2 L353.65 60.2 L353.9 60.2 L354.15 60.2 L354.4 60.2 L354.65 60.2 L354.9 60.2 L355.15 60.2 L355.4 60.2 L355.65 60.2 L355.9 60.2 L356.15 60.2 L356.4 60.2 L356.65 60.2 L356.9 60.2 L357.15 60.2 L357.4 60.2 L357.65 60.2 L357.9 60.2 L358.15 60.2 L358.4 60.2 L358.65 60.2 L358.9 60.2 L359.15 60.2 L359.4 60.2 L359.65 60.2 L359.9 60.2 L360.15 60.2 L360.4 60.2 L360.65 60.2 L360.9 60.2 L361.15 60.2 L361.4 60.2 L361.65 60.2 L361.9 60.2 L362.15 60.2 L362.4 60.2 L362.65 60.2 L362.9 60.2 L363.15 60.2 L363.4 60.2 L363.65 60.2 L363.9 60.2 L364.15 60.2 L364.4 60.2 L364.65 60.2 L364.9 60.2 L365.15 60.2 L365.4 60.2 L365.65 60.2 L365.9 60.2 L366.15 60.2 L366.4 60.2 L366.65 60.2 L366.9 60.2 L367.15 60.2 L367.4 60.2 L367.65 60.19 L367.9 60.18 L368.15 60.17 L368.4 60.15 L368.65 60.11 L368.9 60.04 L369.15 59.93 L369.4 59.76 L369.65 59.51 L369.9 59.13 L370.15 58.59 L370.4 57.84 L370.65 56.85 L370.9 55.56 L371.15 53.95 L371.4 52.02 L371.65 49.78 L371.9 47.3 L372.15 44.66 L372.4 42 L372.65 39.46 L372.9 37.21 L373.15 35.42 L373.4 34.22 L373.65 33.71 L373.9 33.85 L374.15 34.43 L374.4 35.44 L374.65 36.81 L374.9 38.49 L375.15 40.39 L375.4 42.44 L375.65 44.55 L375.9 46.64 L376.15 48.66 L376.4 50.55 L376.65 52.26 L376.9 53.78 L377.15 55.1 L377.4 56.22 L377.65 57.15 L377.9 57.9 L378.15 58.49 L378.4 58.96 L378.65 59.31 L378.9 59.57 L379.15 59.77 L379.4 59.91 L379.65 60 L379.9 60.07 L380.15 60.12 L380.4 60.15 L380.65 60.17 L380.9 60.18 L381.15 60.19 L381.4 60.19 L381.65 60.2 L381.9 60.2 L382.15 60.2 L382.4 60.2 L382.65 60.2 L382.9 60.2 L383.15 60.2 L383.4 60.2 L383.65 60.2 L383.9 60.2 L384.15 60.2 L384.4 60.2 L384.65 60.2 L384.9 60.2 L385.15 60.2 L385.4 60.2 L385.65 60.2 L385.9 60.2 L386.15 60.2 L386.4 60.2 L386.65 60.2 L386.9 60.2 L387.15 60.2 L387.4 60.2 L387.65 60.2 L387.9 60.2 L388.15 60.2 L388.4 60.2 L388.65 60.2 L388.9 60.2 L389.15 60.2 L389.4 60.2 L389.5 60.2 L312.9 60.2 Z" stroke="none" stroke-width="0" fill="#a9c8ea" />
<path d="M312.9 60.2 L313.15 60.2 L313.4 60.2 L313.65 60.2 L313.9 60.2 L314.15 60.2 L314.4 60.2 L314.65 60.2 L314.9 60.2 L315.15 60.2 L315.4 60.2 L315.65 60.2 L315.9 60.2 L316.15 60.2 L316.4 60.2 L316.65 60.2 L316.9 60.2 L317.15 60.2 L317.4 60.2 L317.65 60.2 L317.9 60.2 L318.15 60.2 L318.4 60.2 L318.65 60.2 L318.9 60.2 L319.15 60.2 L319.4 60.2 L319.65 60.2 L319.9 60.2 L320.15 60.2 L320.4 60.2 L320.65 60.2 L320.9 60.2 L321.15 60.2 L321.4 60.2 L321.65 60.2 L321.9 60.2 L322.15 60.2 L322.4 60.2 L322.65 60.2 L322.9 60.2 L323.15 60.2 L323.4 60.2 L323.65 60.2 L323.9 60.2 L324.15 60.2 L324.4 60.2 L324.65 60.2 L324.9 60.2 L325.15 60.2 L325.4 60.2 L325.65 60.2 L325.9 60.2 L326.15 60.2 L326.4 60.2 L326.65 60.2 L326.9 60.2 L327.15 60.2 L327.4 60.2 L327.65 60.2 L327.9 60.2 L328.15 60.2 L328.4 60.2 L328.65 60.2 L328.9 60.2 L329.15 60.2 L329.4 60.2 L329.65 60.2 L329.9 60.2 L330.15 60.2 L330.4 60.2 L330.65 60.2 L330.9 60.2 L331.15 60.2 L331.4 60.2 L331.65 60.2 L331.9 60.2 L332.15 60.2 L332.4 60.2 L332.65 60.2 L332.9 60.2 L333.15 60.2 L333.4 60.2 L333.65 60.2 L333.9 60.2 L334.15 60.2 L334.4 60.2 L334.65 60.2 L334.9 60.2 L335.15 60.2 L335.4 60.2 L335.65 60.2 L335.9 60.2 L336.15 60.2 L336.4 60.2 L336.65 60.2 L336.9 60.2 L337.15 60.2 L337.4 60.2 L337.65 60.2 L337.9 60.2 L338.15 60.2 L338.4 60.2 L338.65 60.2 L338.9 60.2 L339.15 60.2 L339.4 60.2 L339.65 60.2 L339.9 60.2 L340.15 60.2 L340.4 60.2 L340.65 60.2 L340.9 60.2 L341.15 60.2 L341.4 60.2 L341.65 60.2 L341.9 60.2 L342.15 60.2 L342.4 60.2 L342.65 60.2 L342.9 60.2 L343.15 60.2 L343.4 60.2 L343.65 60.2 L343.9 60.2 L344.15 60.2 L344.4 60.2 L344.65 60.2 L344.9 60.2 L345.15 60.2 L345.4 60.2 L345.65 60.2 L345.9 60.2 L346.15 60.2 L346.4 60.2 L346.65 60.2 L346.9 60.2 L347.15 60.2 L347.4 60.2 L347.65 60.2 L347.9 60.2 L348.15 60.2 L348.4 60.2 L348.65 60.2 L348.9 60.2 L349.15 60.2 L349.4 60.2 L349.65 60.2 L349.9 60.2 L350.15 60.2 L350.4 60.2 L350.65 60.2 L350.9 60.2 L351.15 60.2 L351.4 60.2 L351.65 60.2 L351.9 60.2 L352.15 60.2 L352.4 60.2 L352.65 60.2 L352.9 60.2 L353.15 60.2 L353.4 60.2 L353.65 60.2 L353.9 60.2 L354.15 60.2 L354.4 60.2 L354.65 60.2 L354.9 60.2 L355.15 60.2 L355.4 60.2 L355.65 60.2 L355.9 60.2 L356.15 60.2 L356.4 60.2 L356.65 60.2 L356.9 60.2 L357.15 60.2 L357.4 60.2 L357.65 60.2 L357.9 60.2 L358.15 60.2 L358.4 60.2 L358.65 60.2 L358.9 60.2 L359.15 60.2 L359.4 60.2 L359.65 60.2 L359.9 60.2 L360.15 60.2 L360.4 60.2 L360.65 60.2 L360.9 60.2 L361.15 60.2 L361.4 60.2 L361.65 60.2 L361.9 60.2 L362.15 60.2 L362.4 60.2 L362.65 60.2 L362.9 60.2 L363.15 60.2 L363.4 60.2 L363.65 60.2 L363.9 60.2 L364.15 60.2 L364.4 60.2 L364.65 60.2 L364.9 60.2 L365.15 60.2 L365.4 60.2 L365.65 60.2 L365.9 60.2 L366.15 60.2 L366.4 60.2 L366.65 60.2 L366.9 60.2 L367.15 60.2 L367.4 60.2 L367.65 60.19 L367.9 60.18 L368.15 60.17 L368.4 60.15 L368.65 60.11 L368.9 60.04 L369.15 59.93 L369.4 59.76 L369.65 59.51 L369.9 59.13 L370.15 58.59 L370.4 57.84 L370.65 56.85 L370.9 55.56 L371.15 53.95 L371.4 52.02 L371.65 49.78 L371.9 47.3 L372.15 44.66 L372.4 42 L372.65 39.46 L372.9 37.21 L373.15 35.42 L373.4 34.22 L373.65 33.71 L373.9 33.85 L374.15 34.43 L374.4 35.44 L374.65 36.81 L374.9 38.49 L375.15 40.39 L375.4 42.44 L375.65 44.55 L375.9 46.64 L376.15 48.66 L376.4 50.55 L376.65 52.26 L376.9 53.78 L377.15 55.1 L377.4 56.22 L377.65 57.15 L377.9 57.9 L378.15 58.49 L378.4 58.96 L378.65 59.31 L378.9 59.57 L379.15 59.77 L379.4 59.91 L379.65 60 L379.9 60.07 L380.15 60.12 L380.4 60.15 L380.65 60.17 L380.9 60.18 L381.15 60.19 L381.4 60.19 L381.65 60.2 L381.9 60.2 L382.15 60.2 L382.4 60.2 L382.65 60.2 L382.9 60.2 L383.15 60.2 L383.4 60.2 L383.65 60.2 L383.9 60.2 L384.15 60.2 L384.4 60.2 L384.65 60.2 L384.9 60.2 L385.15 60.2 L385.4 60.2 L385.65 60.2 L385.9 60.2 L386.15 60.2 L386.4 60.2 L386.65 60.2 L386.9 60.2 L387.15 60.2 L387.4 60.2 L387.65 60.2 L387.9 60.2 L388.15 60.2 L388.4 60.2 L388.65 60.2 L388.9 60.2 L389.15 60.2 L389.4 60.2" stroke="#4279c0" stroke-width="0.85" fill="none" />
<line x1="312.4" y1="60.2" x2="390" y2="60.2" stroke="#4279c0" stroke-width="0.6" />
<path d="M312.9 90.6 L313.15 90.6 L313.4 90.6 L313.65 90.6 L313.9 90.6 L314.15 90.6 L314.4 90.6 L314.65 90.6 L314.9 90.6 L315.15 90.6 L315.4 90.6 L315.65 90.6 L315.9 90.6 L316.15 90.6 L316.4 90.6 L316.65 90.6 L316.9 90.6 L317.15 90.6 L317.4 90.6 L317.65 90.6 L317.9 90.6 L318.15 90.6 L318.4 90.6 L318.65 90.6 L318.9 90.6 L319.15 90.6 L319.4 90.6 L319.65 90.6 L319.9 90.6 L320.15 90.6 L320.4 90.6 L320.65 90.6 L320.9 90.6 L321.15 90.6 L321.4 90.6 L321.65 90.6 L321.9 90.6 L322.15 90.6 L322.4 90.6 L322.65 90.6 L322.9 90.6 L323.15 90.6 L323.4 90.6 L323.65 90.6 L323.9 90.6 L324.15 90.6 L324.4 90.6 L324.65 90.6 L324.9 90.6 L325.15 90.6 L325.4 90.6 L325.65 90.6 L325.9 90.6 L326.15 90.6 L326.4 90.6 L326.65 90.6 L326.9 90.6 L327.15 90.6 L327.4 90.6 L327.65 90.6 L327.9 90.6 L328.15 90.6 L328.4 90.6 L328.65 90.6 L328.9 90.6 L329.15 90.6 L329.4 90.6 L329.65 90.6 L329.9 90.6 L330.15 90.6 L330.4 90.6 L330.65 90.6 L330.9 90.6 L331.15 90.6 L331.4 90.6 L331.65 90.6 L331.9 90.6 L332.15 90.6 L332.4 90.6 L332.65 90.6 L332.9 90.6 L333.15 90.6 L333.4 90.6 L333.65 90.6 L333.9 90.6 L334.15 90.6 L334.4 90.6 L334.65 90.6 L334.9 90.6 L335.15 90.6 L335.4 90.6 L335.65 90.6 L335.9 90.6 L336.15 90.6 L336.4 90.6 L336.65 90.6 L336.9 90.6 L337.15 90.6 L337.4 90.6 L337.65 90.6 L337.9 90.6 L338.15 90.6 L338.4 90.6 L338.65 90.6 L338.9 90.6 L339.15 90.6 L339.4 90.6 L339.65 90.6 L339.9 90.6 L340.15 90.6 L340.4 90.6 L340.65 90.6 L340.9 90.6 L341.15 90.6 L341.4 90.6 L341.65 90.6 L341.9 90.6 L342.15 90.6 L342.4 90.6 L342.65 90.6 L342.9 90.6 L343.15 90.6 L343.4 90.6 L343.65 90.6 L343.9 90.6 L344.15 90.6 L344.4 90.6 L344.65 90.6 L344.9 90.6 L345.15 90.6 L345.4 90.6 L345.65 90.6 L345.9 90.6 L346.15 90.6 L346.4 90.6 L346.65 90.6 L346.9 90.59 L347.15 90.59 L347.4 90.59 L347.65 90.59 L347.9 90.59 L348.15 90.58 L348.4 90.58 L348.65 90.58 L348.9 90.57 L349.15 90.57 L349.4 90.56 L349.65 90.55 L349.9 90.54 L350.15 90.53 L350.4 90.52 L350.65 90.51 L350.9 90.49 L351.15 90.48 L351.4 90.46 L351.65 90.44 L351.9 90.41 L352.15 90.39 L352.4 90.36 L352.65 90.32 L352.9 90.29 L353.15 90.25 L353.4 90.21 L353.65 90.17 L353.9 90.12 L354.15 90.07 L354.4 90.02 L354.65 89.96 L354.9 89.9 L355.15 89.84 L355.4 89.78 L355.65 89.71 L355.9 89.64 L356.15 89.58 L356.4 89.51 L356.65 89.44 L356.9 89.37 L357.15 89.31 L357.4 89.24 L357.65 89.18 L357.9 89.12 L358.15 89.06 L358.4 89 L358.65 88.95 L358.9 88.9 L359.15 88.85 L359.4 88.79 L359.65 88.74 L359.9 88.67 L360.15 88.59 L360.4 88.5 L360.65 88.37 L360.9 88.22 L361.15 88.03 L361.4 87.79 L361.65 87.5 L361.9 87.15 L362.15 86.74 L362.4 86.27 L362.65 85.74 L362.9 85.14 L363.15 84.49 L363.4 83.78 L363.65 83.01 L363.9 82.2 L364.15 81.34 L364.4 80.46 L364.65 79.57 L364.9 78.68 L365.15 77.84 L365.4 77.06 L365.65 76.38 L365.9 75.84 L366.15 75.48 L366.4 75.32 L366.65 75.39 L366.9 75.69 L367.15 76.21 L367.4 76.94 L367.65 77.86 L367.9 78.91 L368.15 80.05 L368.4 81.23 L368.65 82.38 L368.9 83.47 L369.15 84.42 L369.4 85.2 L369.65 85.76 L369.9 86.06 L370.15 86.06 L370.4 85.73 L370.65 85.05 L370.9 84 L371.15 82.59 L371.4 80.84 L371.65 78.8 L371.9 76.55 L372.15 74.17 L372.4 71.8 L372.65 69.56 L372.9 67.6 L373.15 66.06 L373.4 65.03 L373.65 64.6 L373.9 64.72 L374.15 65.24 L374.4 66.14 L374.65 67.37 L374.9 68.88 L375.15 70.61 L375.4 72.48 L375.65 74.43 L375.9 76.4 L376.15 78.32 L376.4 80.15 L376.65 81.84 L376.9 83.37 L377.15 84.73 L377.4 85.9 L377.65 86.9 L377.9 87.73 L378.15 88.41 L378.4 88.96 L378.65 89.38 L378.9 89.71 L379.15 89.97 L379.4 90.15 L379.65 90.29 L379.9 90.39 L380.15 90.46 L380.4 90.5 L380.65 90.54 L380.9 90.56 L381.15 90.57 L381.4 90.58 L381.65 90.59 L381.9 90.59 L382.15 90.6 L382.4 90.6 L382.65 90.6 L382.9 90.6 L383.15 90.6 L383.4 90.6 L383.65 90.6 L383.9 90.6 L384.15 90.6 L384.4 90.6 L384.65 90.6 L384.9 90.6 L385.15 90.6 L385.4 90.6 L385.65 90.6 L385.9 90.6 L386.15 90.6 L386.4 90.6 L386.65 90.6 L386.9 90.6 L387.15 90.6 L387.4 90.6 L387.65 90.6 L387.9 90.6 L388.15 90.6 L388.4 90.6 L388.65 90.6 L388.9 90.6 L389.15 90.6 L389.4 90.6 L389.5 90.6 L312.9 90.6 Z" stroke="none" stroke-width="0" fill="#a9c8ea" />
<path d="M312.9 90.6 L313.15 90.6 L313.4 90.6 L313.65 90.6 L313.9 90.6 L314.15 90.6 L314.4 90.6 L314.65 90.6 L314.9 90.6 L315.15 90.6 L315.4 90.6 L315.65 90.6 L315.9 90.6 L316.15 90.6 L316.4 90.6 L316.65 90.6 L316.9 90.6 L317.15 90.6 L317.4 90.6 L317.65 90.6 L317.9 90.6 L318.15 90.6 L318.4 90.6 L318.65 90.6 L318.9 90.6 L319.15 90.6 L319.4 90.6 L319.65 90.6 L319.9 90.6 L320.15 90.6 L320.4 90.6 L320.65 90.6 L320.9 90.6 L321.15 90.6 L321.4 90.6 L321.65 90.6 L321.9 90.6 L322.15 90.6 L322.4 90.6 L322.65 90.6 L322.9 90.6 L323.15 90.6 L323.4 90.6 L323.65 90.6 L323.9 90.6 L324.15 90.6 L324.4 90.6 L324.65 90.6 L324.9 90.6 L325.15 90.6 L325.4 90.6 L325.65 90.6 L325.9 90.6 L326.15 90.6 L326.4 90.6 L326.65 90.6 L326.9 90.6 L327.15 90.6 L327.4 90.6 L327.65 90.6 L327.9 90.6 L328.15 90.6 L328.4 90.6 L328.65 90.6 L328.9 90.6 L329.15 90.6 L329.4 90.6 L329.65 90.6 L329.9 90.6 L330.15 90.6 L330.4 90.6 L330.65 90.6 L330.9 90.6 L331.15 90.6 L331.4 90.6 L331.65 90.6 L331.9 90.6 L332.15 90.6 L332.4 90.6 L332.65 90.6 L332.9 90.6 L333.15 90.6 L333.4 90.6 L333.65 90.6 L333.9 90.6 L334.15 90.6 L334.4 90.6 L334.65 90.6 L334.9 90.6 L335.15 90.6 L335.4 90.6 L335.65 90.6 L335.9 90.6 L336.15 90.6 L336.4 90.6 L336.65 90.6 L336.9 90.6 L337.15 90.6 L337.4 90.6 L337.65 90.6 L337.9 90.6 L338.15 90.6 L338.4 90.6 L338.65 90.6 L338.9 90.6 L339.15 90.6 L339.4 90.6 L339.65 90.6 L339.9 90.6 L340.15 90.6 L340.4 90.6 L340.65 90.6 L340.9 90.6 L341.15 90.6 L341.4 90.6 L341.65 90.6 L341.9 90.6 L342.15 90.6 L342.4 90.6 L342.65 90.6 L342.9 90.6 L343.15 90.6 L343.4 90.6 L343.65 90.6 L343.9 90.6 L344.15 90.6 L344.4 90.6 L344.65 90.6 L344.9 90.6 L345.15 90.6 L345.4 90.6 L345.65 90.6 L345.9 90.6 L346.15 90.6 L346.4 90.6 L346.65 90.6 L346.9 90.59 L347.15 90.59 L347.4 90.59 L347.65 90.59 L347.9 90.59 L348.15 90.58 L348.4 90.58 L348.65 90.58 L348.9 90.57 L349.15 90.57 L349.4 90.56 L349.65 90.55 L349.9 90.54 L350.15 90.53 L350.4 90.52 L350.65 90.51 L350.9 90.49 L351.15 90.48 L351.4 90.46 L351.65 90.44 L351.9 90.41 L352.15 90.39 L352.4 90.36 L352.65 90.32 L352.9 90.29 L353.15 90.25 L353.4 90.21 L353.65 90.17 L353.9 90.12 L354.15 90.07 L354.4 90.02 L354.65 89.96 L354.9 89.9 L355.15 89.84 L355.4 89.78 L355.65 89.71 L355.9 89.64 L356.15 89.58 L356.4 89.51 L356.65 89.44 L356.9 89.37 L357.15 89.31 L357.4 89.24 L357.65 89.18 L357.9 89.12 L358.15 89.06 L358.4 89 L358.65 88.95 L358.9 88.9 L359.15 88.85 L359.4 88.79 L359.65 88.74 L359.9 88.67 L360.15 88.59 L360.4 88.5 L360.65 88.37 L360.9 88.22 L361.15 88.03 L361.4 87.79 L361.65 87.5 L361.9 87.15 L362.15 86.74 L362.4 86.27 L362.65 85.74 L362.9 85.14 L363.15 84.49 L363.4 83.78 L363.65 83.01 L363.9 82.2 L364.15 81.34 L364.4 80.46 L364.65 79.57 L364.9 78.68 L365.15 77.84 L365.4 77.06 L365.65 76.38 L365.9 75.84 L366.15 75.48 L366.4 75.32 L366.65 75.39 L366.9 75.69 L367.15 76.21 L367.4 76.94 L367.65 77.86 L367.9 78.91 L368.15 80.05 L368.4 81.23 L368.65 82.38 L368.9 83.47 L369.15 84.42 L369.4 85.2 L369.65 85.76 L369.9 86.06 L370.15 86.06 L370.4 85.73 L370.65 85.05 L370.9 84 L371.15 82.59 L371.4 80.84 L371.65 78.8 L371.9 76.55 L372.15 74.17 L372.4 71.8 L372.65 69.56 L372.9 67.6 L373.15 66.06 L373.4 65.03 L373.65 64.6 L373.9 64.72 L374.15 65.24 L374.4 66.14 L374.65 67.37 L374.9 68.88 L375.15 70.61 L375.4 72.48 L375.65 74.43 L375.9 76.4 L376.15 78.32 L376.4 80.15 L376.65 81.84 L376.9 83.37 L377.15 84.73 L377.4 85.9 L377.65 86.9 L377.9 87.73 L378.15 88.41 L378.4 88.96 L378.65 89.38 L378.9 89.71 L379.15 89.97 L379.4 90.15 L379.65 90.29 L379.9 90.39 L380.15 90.46 L380.4 90.5 L380.65 90.54 L380.9 90.56 L381.15 90.57 L381.4 90.58 L381.65 90.59 L381.9 90.59 L382.15 90.6 L382.4 90.6 L382.65 90.6 L382.9 90.6 L383.15 90.6 L383.4 90.6 L383.65 90.6 L383.9 90.6 L384.15 90.6 L384.4 90.6 L384.65 90.6 L384.9 90.6 L385.15 90.6 L385.4 90.6 L385.65 90.6 L385.9 90.6 L386.15 90.6 L386.4 90.6 L386.65 90.6 L386.9 90.6 L387.15 90.6 L387.4 90.6 L387.65 90.6 L387.9 90.6 L388.15 90.6 L388.4 90.6 L388.65 90.6 L388.9 90.6 L389.15 90.6 L389.4 90.6" stroke="#4279c0" stroke-width="0.85" fill="none" />
<line x1="312.4" y1="90.6" x2="390" y2="90.6" stroke="#4279c0" stroke-width="0.6" />
<path d="M312.9 121.2 L313.15 121.2 L313.4 121.2 L313.65 121.2 L313.9 121.2 L314.15 121.2 L314.4 121.2 L314.65 121.2 L314.9 121.2 L315.15 121.2 L315.4 121.2 L315.65 121.2 L315.9 121.2 L316.15 121.2 L316.4 121.2 L316.65 121.2 L316.9 121.2 L317.15 121.2 L317.4 121.2 L317.65 121.2 L317.9 121.2 L318.15 121.2 L318.4 121.2 L318.65 121.2 L318.9 121.2 L319.15 121.2 L319.4 121.2 L319.65 121.2 L319.9 121.2 L320.15 121.2 L320.4 121.2 L320.65 121.2 L320.9 121.2 L321.15 121.2 L321.4 121.2 L321.65 121.2 L321.9 121.2 L322.15 121.2 L322.4 121.2 L322.65 121.2 L322.9 121.2 L323.15 121.2 L323.4 121.2 L323.65 121.2 L323.9 121.2 L324.15 121.2 L324.4 121.2 L324.65 121.2 L324.9 121.2 L325.15 121.2 L325.4 121.2 L325.65 121.2 L325.9 121.2 L326.15 121.2 L326.4 121.2 L326.65 121.2 L326.9 121.2 L327.15 121.2 L327.4 121.2 L327.65 121.2 L327.9 121.2 L328.15 121.2 L328.4 121.2 L328.65 121.2 L328.9 121.2 L329.15 121.2 L329.4 121.2 L329.65 121.2 L329.9 121.2 L330.15 121.2 L330.4 121.2 L330.65 121.2 L330.9 121.2 L331.15 121.2 L331.4 121.2 L331.65 121.2 L331.9 121.2 L332.15 121.2 L332.4 121.2 L332.65 121.2 L332.9 121.2 L333.15 121.2 L333.4 121.2 L333.65 121.2 L333.9 121.2 L334.15 121.2 L334.4 121.2 L334.65 121.2 L334.9 121.2 L335.15 121.2 L335.4 121.2 L335.65 121.2 L335.9 121.2 L336.15 121.2 L336.4 121.2 L336.65 121.2 L336.9 121.2 L337.15 121.2 L337.4 121.2 L337.65 121.2 L337.9 121.2 L338.15 121.2 L338.4 121.2 L338.65 121.2 L338.9 121.2 L339.15 121.2 L339.4 121.2 L339.65 121.2 L339.9 121.2 L340.15 121.2 L340.4 121.2 L340.65 121.2 L340.9 121.2 L341.15 121.2 L341.4 121.2 L341.65 121.2 L341.9 121.2 L342.15 121.2 L342.4 121.2 L342.65 121.2 L342.9 121.2 L343.15 121.2 L343.4 121.2 L343.65 121.2 L343.9 121.2 L344.15 121.2 L344.4 121.2 L344.65 121.2 L344.9 121.2 L345.15 121.2 L345.4 121.2 L345.65 121.2 L345.9 121.2 L346.15 121.2 L346.4 121.2 L346.65 121.2 L346.9 121.2 L347.15 121.2 L347.4 121.19 L347.65 121.19 L347.9 121.19 L348.15 121.19 L348.4 121.19 L348.65 121.18 L348.9 121.18 L349.15 121.18 L349.4 121.17 L349.65 121.17 L349.9 121.16 L350.15 121.15 L350.4 121.14 L350.65 121.13 L350.9 121.12 L351.15 121.11 L351.4 121.09 L351.65 121.08 L351.9 121.06 L352.15 121.04 L352.4 121.01 L352.65 120.99 L352.9 120.96 L353.15 120.92 L353.4 120.89 L353.65 120.85 L353.9 120.81 L354.15 120.77 L354.4 120.72 L354.65 120.67 L354.9 120.62 L355.15 120.56 L355.4 120.5 L355.65 120.44 L355.9 120.38 L356.15 120.31 L356.4 120.24 L356.65 120.18 L356.9 120.11 L357.15 120.04 L357.4 119.97 L357.65 119.91 L357.9 119.84 L358.15 119.78 L358.4 119.72 L358.65 119.66 L358.9 119.61 L359.15 119.56 L359.4 119.52 L359.65 119.49 L359.9 119.46 L360.15 119.43 L360.4 119.41 L360.65 119.4 L360.9 119.4 L361.15 119.4 L361.4 119.41 L361.65 119.43 L361.9 119.45 L362.15 119.47 L362.4 119.5 L362.65 119.53 L362.9 119.54 L363.15 119.55 L363.4 119.53 L363.65 119.48 L363.9 119.38 L364.15 119.21 L364.4 118.96 L364.65 118.61 L364.9 118.16 L365.15 117.61 L365.4 116.96 L365.65 116.24 L365.9 115.48 L366.15 114.74 L366.4 114.06 L366.65 113.48 L366.9 113.06 L367.15 112.8 L367.4 112.7 L367.65 112.74 L367.9 112.85 L368.15 112.99 L368.4 113.08 L368.65 113.09 L368.9 112.97 L369.15 112.73 L369.4 112.4 L369.65 112.04 L369.9 111.7 L370.15 111.44 L370.4 111.29 L370.65 111.24 L370.9 111.26 L371.15 111.26 L371.4 111.15 L371.65 110.81 L371.9 110.16 L372.15 109.11 L372.4 107.67 L372.65 105.85 L372.9 103.77 L373.15 101.55 L373.4 99.37 L373.65 97.43 L373.9 95.9 L374.15 94.93 L374.4 94.62 L374.65 94.86 L374.9 95.49 L375.15 96.49 L375.4 97.81 L375.65 99.4 L375.9 101.19 L376.15 103.13 L376.4 105.13 L376.65 107.13 L376.9 109.07 L377.15 110.9 L377.4 112.6 L377.65 114.12 L377.9 115.47 L378.15 116.63 L378.4 117.61 L378.65 118.43 L378.9 119.09 L379.15 119.62 L379.4 120.04 L379.65 120.35 L379.9 120.6 L380.15 120.77 L380.4 120.91 L380.65 121 L380.9 121.07 L381.15 121.11 L381.4 121.14 L381.65 121.16 L381.9 121.18 L382.15 121.19 L382.4 121.19 L382.65 121.19 L382.9 121.2 L383.15 121.2 L383.4 121.2 L383.65 121.2 L383.9 121.2 L384.15 121.2 L384.4 121.2 L384.65 121.2 L384.9 121.2 L385.15 121.2 L385.4 121.2 L385.65 121.2 L385.9 121.2 L386.15 121.2 L386.4 121.2 L386.65 121.2 L386.9 121.2 L387.15 121.2 L387.4 121.2 L387.65 121.2 L387.9 121.2 L388.15 121.2 L388.4 121.2 L388.65 121.2 L388.9 121.2 L389.15 121.2 L389.4 121.2 L389.5 121.2 L312.9 121.2 Z" stroke="none" stroke-width="0" fill="#a9c8ea" />
<path d="M312.9 121.2 L313.15 121.2 L313.4 121.2 L313.65 121.2 L313.9 121.2 L314.15 121.2 L314.4 121.2 L314.65 121.2 L314.9 121.2 L315.15 121.2 L315.4 121.2 L315.65 121.2 L315.9 121.2 L316.15 121.2 L316.4 121.2 L316.65 121.2 L316.9 121.2 L317.15 121.2 L317.4 121.2 L317.65 121.2 L317.9 121.2 L318.15 121.2 L318.4 121.2 L318.65 121.2 L318.9 121.2 L319.15 121.2 L319.4 121.2 L319.65 121.2 L319.9 121.2 L320.15 121.2 L320.4 121.2 L320.65 121.2 L320.9 121.2 L321.15 121.2 L321.4 121.2 L321.65 121.2 L321.9 121.2 L322.15 121.2 L322.4 121.2 L322.65 121.2 L322.9 121.2 L323.15 121.2 L323.4 121.2 L323.65 121.2 L323.9 121.2 L324.15 121.2 L324.4 121.2 L324.65 121.2 L324.9 121.2 L325.15 121.2 L325.4 121.2 L325.65 121.2 L325.9 121.2 L326.15 121.2 L326.4 121.2 L326.65 121.2 L326.9 121.2 L327.15 121.2 L327.4 121.2 L327.65 121.2 L327.9 121.2 L328.15 121.2 L328.4 121.2 L328.65 121.2 L328.9 121.2 L329.15 121.2 L329.4 121.2 L329.65 121.2 L329.9 121.2 L330.15 121.2 L330.4 121.2 L330.65 121.2 L330.9 121.2 L331.15 121.2 L331.4 121.2 L331.65 121.2 L331.9 121.2 L332.15 121.2 L332.4 121.2 L332.65 121.2 L332.9 121.2 L333.15 121.2 L333.4 121.2 L333.65 121.2 L333.9 121.2 L334.15 121.2 L334.4 121.2 L334.65 121.2 L334.9 121.2 L335.15 121.2 L335.4 121.2 L335.65 121.2 L335.9 121.2 L336.15 121.2 L336.4 121.2 L336.65 121.2 L336.9 121.2 L337.15 121.2 L337.4 121.2 L337.65 121.2 L337.9 121.2 L338.15 121.2 L338.4 121.2 L338.65 121.2 L338.9 121.2 L339.15 121.2 L339.4 121.2 L339.65 121.2 L339.9 121.2 L340.15 121.2 L340.4 121.2 L340.65 121.2 L340.9 121.2 L341.15 121.2 L341.4 121.2 L341.65 121.2 L341.9 121.2 L342.15 121.2 L342.4 121.2 L342.65 121.2 L342.9 121.2 L343.15 121.2 L343.4 121.2 L343.65 121.2 L343.9 121.2 L344.15 121.2 L344.4 121.2 L344.65 121.2 L344.9 121.2 L345.15 121.2 L345.4 121.2 L345.65 121.2 L345.9 121.2 L346.15 121.2 L346.4 121.2 L346.65 121.2 L346.9 121.2 L347.15 121.2 L347.4 121.19 L347.65 121.19 L347.9 121.19 L348.15 121.19 L348.4 121.19 L348.65 121.18 L348.9 121.18 L349.15 121.18 L349.4 121.17 L349.65 121.17 L349.9 121.16 L350.15 121.15 L350.4 121.14 L350.65 121.13 L350.9 121.12 L351.15 121.11 L351.4 121.09 L351.65 121.08 L351.9 121.06 L352.15 121.04 L352.4 121.01 L352.65 120.99 L352.9 120.96 L353.15 120.92 L353.4 120.89 L353.65 120.85 L353.9 120.81 L354.15 120.77 L354.4 120.72 L354.65 120.67 L354.9 120.62 L355.15 120.56 L355.4 120.5 L355.65 120.44 L355.9 120.38 L356.15 120.31 L356.4 120.24 L356.65 120.18 L356.9 120.11 L357.15 120.04 L357.4 119.97 L357.65 119.91 L357.9 119.84 L358.15 119.78 L358.4 119.72 L358.65 119.66 L358.9 119.61 L359.15 119.56 L359.4 119.52 L359.65 119.49 L359.9 119.46 L360.15 119.43 L360.4 119.41 L360.65 119.4 L360.9 119.4 L361.15 119.4 L361.4 119.41 L361.65 119.43 L361.9 119.45 L362.15 119.47 L362.4 119.5 L362.65 119.53 L362.9 119.54 L363.15 119.55 L363.4 119.53 L363.65 119.48 L363.9 119.38 L364.15 119.21 L364.4 118.96 L364.65 118.61 L364.9 118.16 L365.15 117.61 L365.4 116.96 L365.65 116.24 L365.9 115.48 L366.15 114.74 L366.4 114.06 L366.65 113.48 L366.9 113.06 L367.15 112.8 L367.4 112.7 L367.65 112.74 L367.9 112.85 L368.15 112.99 L368.4 113.08 L368.65 113.09 L368.9 112.97 L369.15 112.73 L369.4 112.4 L369.65 112.04 L369.9 111.7 L370.15 111.44 L370.4 111.29 L370.65 111.24 L370.9 111.26 L371.15 111.26 L371.4 111.15 L371.65 110.81 L371.9 110.16 L372.15 109.11 L372.4 107.67 L372.65 105.85 L372.9 103.77 L373.15 101.55 L373.4 99.37 L373.65 97.43 L373.9 95.9 L374.15 94.93 L374.4 94.62 L374.65 94.86 L374.9 95.49 L375.15 96.49 L375.4 97.81 L375.65 99.4 L375.9 101.19 L376.15 103.13 L376.4 105.13 L376.65 107.13 L376.9 109.07 L377.15 110.9 L377.4 112.6 L377.65 114.12 L377.9 115.47 L378.15 116.63 L378.4 117.61 L378.65 118.43 L378.9 119.09 L379.15 119.62 L379.4 120.04 L379.65 120.35 L379.9 120.6 L380.15 120.77 L380.4 120.91 L380.65 121 L380.9 121.07 L381.15 121.11 L381.4 121.14 L381.65 121.16 L381.9 121.18 L382.15 121.19 L382.4 121.19 L382.65 121.19 L382.9 121.2 L383.15 121.2 L383.4 121.2 L383.65 121.2 L383.9 121.2 L384.15 121.2 L384.4 121.2 L384.65 121.2 L384.9 121.2 L385.15 121.2 L385.4 121.2 L385.65 121.2 L385.9 121.2 L386.15 121.2 L386.4 121.2 L386.65 121.2 L386.9 121.2 L387.15 121.2 L387.4 121.2 L387.65 121.2 L387.9 121.2 L388.15 121.2 L388.4 121.2 L388.65 121.2 L388.9 121.2 L389.15 121.2 L389.4 121.2" stroke="#4279c0" stroke-width="0.85" fill="none" />
<line x1="312.4" y1="121.2" x2="390" y2="121.2" stroke="#4279c0" stroke-width="0.6" />
<path d="M312.9 151.3 L313.15 151.3 L313.4 151.3 L313.65 151.3 L313.9 151.3 L314.15 151.3 L314.4 151.3 L314.65 151.3 L314.9 151.3 L315.15 151.3 L315.4 151.3 L315.65 151.3 L315.9 151.3 L316.15 151.3 L316.4 151.3 L316.65 151.3 L316.9 151.3 L317.15 151.3 L317.4 151.3 L317.65 151.3 L317.9 151.3 L318.15 151.3 L318.4 151.3 L318.65 151.3 L318.9 151.3 L319.15 151.3 L319.4 151.3 L319.65 151.3 L319.9 151.3 L320.15 151.3 L320.4 151.3 L320.65 151.3 L320.9 151.3 L321.15 151.3 L321.4 151.3 L321.65 151.3 L321.9 151.3 L322.15 151.3 L322.4 151.3 L322.65 151.3 L322.9 151.3 L323.15 151.3 L323.4 151.3 L323.65 151.3 L323.9 151.3 L324.15 151.3 L324.4 151.3 L324.65 151.3 L324.9 151.3 L325.15 151.3 L325.4 151.3 L325.65 151.3 L325.9 151.3 L326.15 151.3 L326.4 151.3 L326.65 151.3 L326.9 151.3 L327.15 151.3 L327.4 151.3 L327.65 151.3 L327.9 151.3 L328.15 151.3 L328.4 151.3 L328.65 151.3 L328.9 151.3 L329.15 151.3 L329.4 151.3 L329.65 151.3 L329.9 151.3 L330.15 151.3 L330.4 151.3 L330.65 151.3 L330.9 151.3 L331.15 151.3 L331.4 151.3 L331.65 151.3 L331.9 151.3 L332.15 151.3 L332.4 151.3 L332.65 151.3 L332.9 151.3 L333.15 151.3 L333.4 151.3 L333.65 151.3 L333.9 151.3 L334.15 151.3 L334.4 151.3 L334.65 151.3 L334.9 151.3 L335.15 151.3 L335.4 151.3 L335.65 151.3 L335.9 151.3 L336.15 151.3 L336.4 151.3 L336.65 151.3 L336.9 151.3 L337.15 151.3 L337.4 151.3 L337.65 151.3 L337.9 151.3 L338.15 151.3 L338.4 151.3 L338.65 151.3 L338.9 151.3 L339.15 151.3 L339.4 151.3 L339.65 151.3 L339.9 151.3 L340.15 151.3 L340.4 151.3 L340.65 151.3 L340.9 151.3 L341.15 151.3 L341.4 151.3 L341.65 151.3 L341.9 151.3 L342.15 151.3 L342.4 151.3 L342.65 151.3 L342.9 151.3 L343.15 151.3 L343.4 151.3 L343.65 151.3 L343.9 151.3 L344.15 151.3 L344.4 151.3 L344.65 151.3 L344.9 151.3 L345.15 151.3 L345.4 151.3 L345.65 151.3 L345.9 151.3 L346.15 151.3 L346.4 151.3 L346.65 151.3 L346.9 151.3 L347.15 151.3 L347.4 151.3 L347.65 151.3 L347.9 151.3 L348.15 151.3 L348.4 151.3 L348.65 151.3 L348.9 151.3 L349.15 151.3 L349.4 151.3 L349.65 151.3 L349.9 151.3 L350.15 151.3 L350.4 151.3 L350.65 151.3 L350.9 151.3 L351.15 151.3 L351.4 151.3 L351.65 151.3 L351.9 151.3 L352.15 151.3 L352.4 151.3 L352.65 151.3 L352.9 151.3 L353.15 151.3 L353.4 151.3 L353.65 151.3 L353.9 151.3 L354.15 151.3 L354.4 151.3 L354.65 151.3 L354.9 151.3 L355.15 151.3 L355.4 151.3 L355.65 151.3 L355.9 151.3 L356.15 151.3 L356.4 151.3 L356.65 151.3 L356.9 151.3 L357.15 151.3 L357.4 151.3 L357.65 151.29 L357.9 151.29 L358.15 151.28 L358.4 151.28 L358.65 151.27 L358.9 151.25 L359.15 151.24 L359.4 151.21 L359.65 151.18 L359.9 151.14 L360.15 151.09 L360.4 151.03 L360.65 150.95 L360.9 150.87 L361.15 150.76 L361.4 150.65 L361.65 150.52 L361.9 150.37 L362.15 150.22 L362.4 150.05 L362.65 149.87 L362.9 149.68 L363.15 149.46 L363.4 149.22 L363.65 148.94 L363.9 148.61 L364.15 148.21 L364.4 147.74 L364.65 147.19 L364.9 146.57 L365.15 145.91 L365.4 145.22 L365.65 144.57 L365.9 144 L366.15 143.55 L366.4 143.27 L366.65 143.17 L366.9 143.24 L367.15 143.46 L367.4 143.78 L367.65 144.13 L367.9 144.46 L368.15 144.72 L368.4 144.89 L368.65 144.96 L368.9 144.95 L369.15 144.88 L369.4 144.79 L369.65 144.72 L369.9 144.7 L370.15 144.71 L370.4 144.74 L370.65 144.75 L370.9 144.68 L371.15 144.46 L371.4 144 L371.65 143.23 L371.9 142.1 L372.15 140.58 L372.4 138.7 L372.65 136.51 L372.9 134.11 L373.15 131.65 L373.4 129.29 L373.65 127.21 L373.9 125.59 L374.15 124.56 L374.4 124.23 L374.65 124.47 L374.9 125.11 L375.15 126.12 L375.4 127.47 L375.65 129.09 L375.9 130.92 L376.15 132.89 L376.4 134.92 L376.65 136.96 L376.9 138.94 L377.15 140.81 L377.4 142.53 L377.65 144.09 L377.9 145.46 L378.15 146.64 L378.4 147.65 L378.65 148.48 L378.9 149.15 L379.15 149.69 L379.4 150.11 L379.65 150.44 L379.9 150.68 L380.15 150.87 L380.4 151 L380.65 151.1 L380.9 151.16 L381.15 151.21 L381.4 151.24 L381.65 151.26 L381.9 151.28 L382.15 151.29 L382.4 151.29 L382.65 151.29 L382.9 151.3 L383.15 151.3 L383.4 151.3 L383.65 151.3 L383.9 151.3 L384.15 151.3 L384.4 151.3 L384.65 151.3 L384.9 151.3 L385.15 151.3 L385.4 151.3 L385.65 151.3 L385.9 151.3 L386.15 151.3 L386.4 151.3 L386.65 151.3 L386.9 151.3 L387.15 151.3 L387.4 151.3 L387.65 151.3 L387.9 151.3 L388.15 151.3 L388.4 151.3 L388.65 151.3 L388.9 151.3 L389.15 151.3 L389.4 151.3 L389.5 151.3 L312.9 151.3 Z" stroke="none" stroke-width="0" fill="#a9c8ea" />
<path d="M312.9 151.3 L313.15 151.3 L313.4 151.3 L313.65 151.3 L313.9 151.3 L314.15 151.3 L314.4 151.3 L314.65 151.3 L314.9 151.3 L315.15 151.3 L315.4 151.3 L315.65 151.3 L315.9 151.3 L316.15 151.3 L316.4 151.3 L316.65 151.3 L316.9 151.3 L317.15 151.3 L317.4 151.3 L317.65 151.3 L317.9 151.3 L318.15 151.3 L318.4 151.3 L318.65 151.3 L318.9 151.3 L319.15 151.3 L319.4 151.3 L319.65 151.3 L319.9 151.3 L320.15 151.3 L320.4 151.3 L320.65 151.3 L320.9 151.3 L321.15 151.3 L321.4 151.3 L321.65 151.3 L321.9 151.3 L322.15 151.3 L322.4 151.3 L322.65 151.3 L322.9 151.3 L323.15 151.3 L323.4 151.3 L323.65 151.3 L323.9 151.3 L324.15 151.3 L324.4 151.3 L324.65 151.3 L324.9 151.3 L325.15 151.3 L325.4 151.3 L325.65 151.3 L325.9 151.3 L326.15 151.3 L326.4 151.3 L326.65 151.3 L326.9 151.3 L327.15 151.3 L327.4 151.3 L327.65 151.3 L327.9 151.3 L328.15 151.3 L328.4 151.3 L328.65 151.3 L328.9 151.3 L329.15 151.3 L329.4 151.3 L329.65 151.3 L329.9 151.3 L330.15 151.3 L330.4 151.3 L330.65 151.3 L330.9 151.3 L331.15 151.3 L331.4 151.3 L331.65 151.3 L331.9 151.3 L332.15 151.3 L332.4 151.3 L332.65 151.3 L332.9 151.3 L333.15 151.3 L333.4 151.3 L333.65 151.3 L333.9 151.3 L334.15 151.3 L334.4 151.3 L334.65 151.3 L334.9 151.3 L335.15 151.3 L335.4 151.3 L335.65 151.3 L335.9 151.3 L336.15 151.3 L336.4 151.3 L336.65 151.3 L336.9 151.3 L337.15 151.3 L337.4 151.3 L337.65 151.3 L337.9 151.3 L338.15 151.3 L338.4 151.3 L338.65 151.3 L338.9 151.3 L339.15 151.3 L339.4 151.3 L339.65 151.3 L339.9 151.3 L340.15 151.3 L340.4 151.3 L340.65 151.3 L340.9 151.3 L341.15 151.3 L341.4 151.3 L341.65 151.3 L341.9 151.3 L342.15 151.3 L342.4 151.3 L342.65 151.3 L342.9 151.3 L343.15 151.3 L343.4 151.3 L343.65 151.3 L343.9 151.3 L344.15 151.3 L344.4 151.3 L344.65 151.3 L344.9 151.3 L345.15 151.3 L345.4 151.3 L345.65 151.3 L345.9 151.3 L346.15 151.3 L346.4 151.3 L346.65 151.3 L346.9 151.3 L347.15 151.3 L347.4 151.3 L347.65 151.3 L347.9 151.3 L348.15 151.3 L348.4 151.3 L348.65 151.3 L348.9 151.3 L349.15 151.3 L349.4 151.3 L349.65 151.3 L349.9 151.3 L350.15 151.3 L350.4 151.3 L350.65 151.3 L350.9 151.3 L351.15 151.3 L351.4 151.3 L351.65 151.3 L351.9 151.3 L352.15 151.3 L352.4 151.3 L352.65 151.3 L352.9 151.3 L353.15 151.3 L353.4 151.3 L353.65 151.3 L353.9 151.3 L354.15 151.3 L354.4 151.3 L354.65 151.3 L354.9 151.3 L355.15 151.3 L355.4 151.3 L355.65 151.3 L355.9 151.3 L356.15 151.3 L356.4 151.3 L356.65 151.3 L356.9 151.3 L357.15 151.3 L357.4 151.3 L357.65 151.29 L357.9 151.29 L358.15 151.28 L358.4 151.28 L358.65 151.27 L358.9 151.25 L359.15 151.24 L359.4 151.21 L359.65 151.18 L359.9 151.14 L360.15 151.09 L360.4 151.03 L360.65 150.95 L360.9 150.87 L361.15 150.76 L361.4 150.65 L361.65 150.52 L361.9 150.37 L362.15 150.22 L362.4 150.05 L362.65 149.87 L362.9 149.68 L363.15 149.46 L363.4 149.22 L363.65 148.94 L363.9 148.61 L364.15 148.21 L364.4 147.74 L364.65 147.19 L364.9 146.57 L365.15 145.91 L365.4 145.22 L365.65 144.57 L365.9 144 L366.15 143.55 L366.4 143.27 L366.65 143.17 L366.9 143.24 L367.15 143.46 L367.4 143.78 L367.65 144.13 L367.9 144.46 L368.15 144.72 L368.4 144.89 L368.65 144.96 L368.9 144.95 L369.15 144.88 L369.4 144.79 L369.65 144.72 L369.9 144.7 L370.15 144.71 L370.4 144.74 L370.65 144.75 L370.9 144.68 L371.15 144.46 L371.4 144 L371.65 143.23 L371.9 142.1 L372.15 140.58 L372.4 138.7 L372.65 136.51 L372.9 134.11 L373.15 131.65 L373.4 129.29 L373.65 127.21 L373.9 125.59 L374.15 124.56 L374.4 124.23 L374.65 124.47 L374.9 125.11 L375.15 126.12 L375.4 127.47 L375.65 129.09 L375.9 130.92 L376.15 132.89 L376.4 134.92 L376.65 136.96 L376.9 138.94 L377.15 140.81 L377.4 142.53 L377.65 144.09 L377.9 145.46 L378.15 146.64 L378.4 147.65 L378.65 148.48 L378.9 149.15 L379.15 149.69 L379.4 150.11 L379.65 150.44 L379.9 150.68 L380.15 150.87 L380.4 151 L380.65 151.1 L380.9 151.16 L381.15 151.21 L381.4 151.24 L381.65 151.26 L381.9 151.28 L382.15 151.29 L382.4 151.29 L382.65 151.29 L382.9 151.3 L383.15 151.3 L383.4 151.3 L383.65 151.3 L383.9 151.3 L384.15 151.3 L384.4 151.3 L384.65 151.3 L384.9 151.3 L385.15 151.3 L385.4 151.3 L385.65 151.3 L385.9 151.3 L386.15 151.3 L386.4 151.3 L386.65 151.3 L386.9 151.3 L387.15 151.3 L387.4 151.3 L387.65 151.3 L387.9 151.3 L388.15 151.3 L388.4 151.3 L388.65 151.3 L388.9 151.3 L389.15 151.3 L389.4 151.3" stroke="#4279c0" stroke-width="0.85" fill="none" />
<rect x="312.4" y="30.2" width="77.6" height="121.1" fill="none" stroke="#222" stroke-width="1" rx="0" />
<text x="313.6" y="57.7" font-size="7" textLength="43" lengthAdjust="spacingAndGlyphs">Non-activated</text>
<text x="314.7" y="88.4" font-size="7" textLength="15.9" lengthAdjust="spacingAndGlyphs">CTRL</text>
<text x="314.4" y="118" font-size="7" textLength="45.5" lengthAdjust="spacingAndGlyphs">AZM 10 mg.L<tspan dy="-2.6" font-size="4">-1</tspan></text>
<text x="314.4" y="148.3" font-size="7" textLength="45.5" lengthAdjust="spacingAndGlyphs">AZM 20 mg.L<tspan dy="-2.6" font-size="4">-1</tspan></text>
<text x="354.3" y="76.8" font-size="7" text-anchor="middle" textLength="13.3" lengthAdjust="spacingAndGlyphs">36%</text>
<line x1="337.2" y1="79.2" x2="369.2" y2="79.2" stroke="#2a2a2a" stroke-width="1" />
<line x1="337.2" y1="78" x2="337.2" y2="80.4" stroke="#2a2a2a" stroke-width="0.8" />
<line x1="369.2" y1="78" x2="369.2" y2="80.4" stroke="#2a2a2a" stroke-width="0.8" />
<text x="354.3" y="103.2" font-size="7" text-anchor="middle" textLength="13.3" lengthAdjust="spacingAndGlyphs">28%</text>
<line x1="337.2" y1="105.9" x2="369.2" y2="105.9" stroke="#2a2a2a" stroke-width="1" />
<line x1="337.2" y1="104.7" x2="337.2" y2="107.1" stroke="#2a2a2a" stroke-width="0.8" />
<line x1="369.2" y1="104.7" x2="369.2" y2="107.1" stroke="#2a2a2a" stroke-width="0.8" />
<text x="354.3" y="134.3" font-size="7" text-anchor="middle" textLength="13.3" lengthAdjust="spacingAndGlyphs">19%</text>
<line x1="337.2" y1="137" x2="369.2" y2="137" stroke="#2a2a2a" stroke-width="1" />
<line x1="337.2" y1="135.8" x2="337.2" y2="138.2" stroke="#2a2a2a" stroke-width="0.8" />
<line x1="369.2" y1="135.8" x2="369.2" y2="138.2" stroke="#2a2a2a" stroke-width="0.8" />
<line x1="315.4" y1="151.3" x2="315.4" y2="152.9" stroke="#222" stroke-width="0.7" />
<line x1="318.4" y1="151.3" x2="318.4" y2="152.9" stroke="#222" stroke-width="0.7" />
<line x1="321.1" y1="151.3" x2="321.1" y2="153.9" stroke="#222" stroke-width="0.7" />
<line x1="324.4" y1="151.3" x2="324.4" y2="152.9" stroke="#222" stroke-width="0.7" />
<line x1="327.4" y1="151.3" x2="327.4" y2="152.9" stroke="#222" stroke-width="0.7" />
<line x1="329.9" y1="151.3" x2="329.9" y2="152.9" stroke="#222" stroke-width="0.7" />
<line x1="333.2" y1="151.3" x2="333.2" y2="153.9" stroke="#222" stroke-width="0.7" />
<line x1="337.4" y1="151.3" x2="337.4" y2="152.9" stroke="#222" stroke-width="0.7" />
<line x1="341.4" y1="151.3" x2="341.4" y2="152.9" stroke="#222" stroke-width="0.7" />
<line x1="343.9" y1="151.3" x2="343.9" y2="152.9" stroke="#222" stroke-width="0.7" />
<line x1="346.4" y1="151.3" x2="346.4" y2="152.9" stroke="#222" stroke-width="0.7" />
<line x1="349.4" y1="151.3" x2="349.4" y2="152.9" stroke="#222" stroke-width="0.7" />
<line x1="351.4" y1="151.3" x2="351.4" y2="152.9" stroke="#222" stroke-width="0.7" />
<line x1="352.9" y1="151.3" x2="352.9" y2="152.9" stroke="#222" stroke-width="0.7" />
<line x1="355.7" y1="151.3" x2="355.7" y2="153.9" stroke="#222" stroke-width="0.7" />
<line x1="359.4" y1="151.3" x2="359.4" y2="152.9" stroke="#222" stroke-width="0.7" />
<line x1="363.4" y1="151.3" x2="363.4" y2="152.9" stroke="#222" stroke-width="0.7" />
<line x1="365.9" y1="151.3" x2="365.9" y2="152.9" stroke="#222" stroke-width="0.7" />
<line x1="368.4" y1="151.3" x2="368.4" y2="152.9" stroke="#222" stroke-width="0.7" />
<line x1="371.4" y1="151.3" x2="371.4" y2="152.9" stroke="#222" stroke-width="0.7" />
<line x1="373.4" y1="151.3" x2="373.4" y2="152.9" stroke="#222" stroke-width="0.7" />
<line x1="374.9" y1="151.3" x2="374.9" y2="152.9" stroke="#222" stroke-width="0.7" />
<line x1="378.2" y1="151.3" x2="378.2" y2="153.9" stroke="#222" stroke-width="0.7" />
<line x1="382.4" y1="151.3" x2="382.4" y2="152.9" stroke="#222" stroke-width="0.7" />
<line x1="386.4" y1="151.3" x2="386.4" y2="152.9" stroke="#222" stroke-width="0.7" />
<text x="321.1" y="163" font-size="6.8" text-anchor="middle">0</text>
<text x="333.4" y="163" font-size="6.8" text-anchor="middle">10<tspan dy="-2.6" font-size="4">2</tspan></text>
<text x="356" y="163" font-size="6.8" text-anchor="middle">10<tspan dy="-2.6" font-size="4">3</tspan></text>
<text x="378.4" y="163" font-size="6.8" text-anchor="middle">10<tspan dy="-2.6" font-size="4">4</tspan></text>
<text x="313.8" y="173.9" font-size="8.3" textLength="13.4" lengthAdjust="spacingAndGlyphs">CFSE</text>
<line x1="330.7" y1="171.2" x2="384.4" y2="171.2" stroke="#222" stroke-width="0.9" />
<path d="M383.9 169.1 L389.2 171.2 L383.9 173.3 Z" stroke="#222" stroke-width="0.3" fill="#222" />
<line x1="238.3" y1="30" x2="238.3" y2="152.4" stroke="#222" stroke-width="1.2" />
<line x1="237.7" y1="151.9" x2="301.1" y2="151.9" stroke="#222" stroke-width="1.2" />
<line x1="236.1" y1="35.4" x2="238.3" y2="35.4" stroke="#222" stroke-width="0.9" />
<text x="232.2" y="37.9" font-size="7.2" text-anchor="end" textLength="12.4" lengthAdjust="spacingAndGlyphs">1.00</text>
<line x1="236.1" y1="63.05" x2="238.3" y2="63.05" stroke="#222" stroke-width="0.9" />
<text x="232.2" y="65.55" font-size="7.2" text-anchor="end" textLength="12.4" lengthAdjust="spacingAndGlyphs">0.75</text>
<line x1="236.1" y1="90.7" x2="238.3" y2="90.7" stroke="#222" stroke-width="0.9" />
<text x="232.2" y="93.2" font-size="7.2" text-anchor="end" textLength="12.4" lengthAdjust="spacingAndGlyphs">0.50</text>
<line x1="236.1" y1="118.35" x2="238.3" y2="118.35" stroke="#222" stroke-width="0.9" />
<text x="232.2" y="120.85" font-size="7.2" text-anchor="end" textLength="12.4" lengthAdjust="spacingAndGlyphs">0.25</text>
<line x1="236.1" y1="146" x2="238.3" y2="146" stroke="#222" stroke-width="0.9" />
<text x="232.2" y="148.5" font-size="7.2" text-anchor="end" textLength="12.4" lengthAdjust="spacingAndGlyphs">0.00</text>
<line x1="251" y1="151.9" x2="251" y2="154.3" stroke="#222" stroke-width="0.9" />
<line x1="270.2" y1="151.9" x2="270.2" y2="154.3" stroke="#222" stroke-width="0.9" />
<line x1="289.9" y1="151.9" x2="289.9" y2="154.3" stroke="#222" stroke-width="0.9" />
<text x="214.3" y="90.5" font-size="7" text-anchor="middle" transform="rotate(-90 214.3 90.5)" textLength="101" lengthAdjust="spacingAndGlyphs">Percent divided cells relative to CTRL</text>
<line x1="270.2" y1="92.91" x2="270.2" y2="72.45" stroke="#666" stroke-width="1.3" />
<line x1="289.9" y1="121.56" x2="289.9" y2="107.95" stroke="#666" stroke-width="1.3" />
<rect x="262.9" y="74.88" width="14.6" height="9.07" fill="#d0141e" stroke="none" stroke-width="0" rx="0" />
<line x1="262.9" y1="78.98" x2="277.5" y2="78.98" stroke="#222" stroke-width="0.8" />
<rect x="282.6" y="110.28" width="14.6" height="9.62" fill="#d0141e" stroke="none" stroke-width="0" rx="0" />
<line x1="282.6" y1="115.03" x2="297.2" y2="115.03" stroke="#222" stroke-width="0.8" />
<line x1="243.5" y1="35.4" x2="258.5" y2="35.4" stroke="#333" stroke-width="0.9" />
<line x1="251" y1="35.4" x2="270.2" y2="72.45" stroke="#2a2a2a" stroke-width="0.85" />
<line x1="270.2" y1="72.45" x2="289.9" y2="107.95" stroke="#2a2a2a" stroke-width="0.85" />
<line x1="251" y1="35.4" x2="270.2" y2="76.32" stroke="#111" stroke-width="0.85" stroke-dasharray="1.1 0.9"/>
<line x1="270.2" y1="76.32" x2="289.9" y2="111.82" stroke="#111" stroke-width="0.85" stroke-dasharray="1.1 0.9"/>
<line x1="251" y1="35.4" x2="270.2" y2="78.53" stroke="#2a2a2a" stroke-width="0.85" />
<line x1="270.2" y1="78.53" x2="289.9" y2="113.93" stroke="#2a2a2a" stroke-width="0.85" />
<line x1="251" y1="35.4" x2="270.2" y2="79.64" stroke="#111" stroke-width="0.85" stroke-dasharray="1.1 0.9"/>
<line x1="270.2" y1="79.64" x2="289.9" y2="115.81" stroke="#111" stroke-width="0.85" stroke-dasharray="1.1 0.9"/>
<line x1="251" y1="35.4" x2="270.2" y2="85.61" stroke="#111" stroke-width="0.85" stroke-dasharray="1.1 0.9"/>
<line x1="270.2" y1="85.61" x2="289.9" y2="118.35" stroke="#111" stroke-width="0.85" stroke-dasharray="1.1 0.9"/>
<line x1="251" y1="35.4" x2="270.2" y2="92.91" stroke="#111" stroke-width="0.85" stroke-dasharray="1.1 0.9"/>
<line x1="270.2" y1="92.91" x2="289.9" y2="121.56" stroke="#111" stroke-width="0.85" stroke-dasharray="1.1 0.9"/>
<circle cx="251" cy="35.4" r="1.5" fill="#fff" stroke="#444" stroke-width="0.6" />
<circle cx="270.2" cy="72.45" r="1.45" fill="#fff" stroke="#444" stroke-width="0.6" />
<circle cx="270.2" cy="76.32" r="1.45" fill="#fff" stroke="#444" stroke-width="0.6" />
<circle cx="270.2" cy="78.53" r="1.45" fill="#fff" stroke="#444" stroke-width="0.6" />
<circle cx="270.2" cy="79.64" r="1.45" fill="#fff" stroke="#444" stroke-width="0.6" />
<circle cx="270.2" cy="85.61" r="1.45" fill="#fff" stroke="#444" stroke-width="0.6" />
<circle cx="270.2" cy="92.91" r="1.45" fill="#fff" stroke="#444" stroke-width="0.6" />
<circle cx="289.9" cy="107.95" r="1.45" fill="#fff" stroke="#444" stroke-width="0.6" />
<circle cx="289.9" cy="111.82" r="1.45" fill="#fff" stroke="#444" stroke-width="0.6" />
<circle cx="289.9" cy="113.93" r="1.45" fill="#fff" stroke="#444" stroke-width="0.6" />
<circle cx="289.9" cy="115.81" r="1.45" fill="#fff" stroke="#444" stroke-width="0.6" />
<circle cx="289.9" cy="118.35" r="1.45" fill="#fff" stroke="#444" stroke-width="0.6" />
<circle cx="289.9" cy="121.56" r="1.45" fill="#fff" stroke="#444" stroke-width="0.6" />
<path d="M251 32.4 L251 30.6 L270.2 30.6 L270.2 32.4" stroke="#222" stroke-width="0.9" fill="none" />
<text x="246" y="24.6" font-size="6.9" textLength="28.5" lengthAdjust="spacingAndGlyphs"><tspan font-style="italic">P</tspan> = 0.031</text>
<path d="M251 16.3 L251 14.5 L289.9 14.5 L289.9 16.3" stroke="#222" stroke-width="0.9" fill="none" />
<text x="256" y="9.5" font-size="6.9" textLength="28.5" lengthAdjust="spacingAndGlyphs"><tspan font-style="italic">P</tspan> = 0.031</text>
<text x="255.4" y="162.1" font-size="7" text-anchor="end" transform="rotate(-45 255.4 162.1)" textLength="15.5" lengthAdjust="spacingAndGlyphs">CTRL</text>
<text x="271.6" y="161" font-size="7" text-anchor="end" transform="rotate(-45 271.6 161)" textLength="13.2" lengthAdjust="spacingAndGlyphs">AZM</text>
<text x="276.9" y="167.2" font-size="7" text-anchor="end" transform="rotate(-45 276.9 167.2)" textLength="24" lengthAdjust="spacingAndGlyphs">10mg.L<tspan dy="-2.4" font-size="4">-1</tspan></text>
<text x="291.3" y="161" font-size="7" text-anchor="end" transform="rotate(-45 291.3 161)" textLength="13.2" lengthAdjust="spacingAndGlyphs">AZM</text>
<text x="296.6" y="167.2" font-size="7" text-anchor="end" transform="rotate(-45 296.6 167.2)" textLength="24" lengthAdjust="spacingAndGlyphs">20mg.L<tspan dy="-2.4" font-size="4">-1</tspan></text>
<line x1="434.5" y1="30" x2="434.5" y2="152.4" stroke="#222" stroke-width="1.2" />
<line x1="433.9" y1="151.9" x2="497.3" y2="151.9" stroke="#222" stroke-width="1.2" />
<line x1="432.3" y1="35.4" x2="434.5" y2="35.4" stroke="#222" stroke-width="0.9" />
<text x="428.4" y="37.9" font-size="7.2" text-anchor="end" textLength="12.4" lengthAdjust="spacingAndGlyphs">1.00</text>
<line x1="432.3" y1="63.05" x2="434.5" y2="63.05" stroke="#222" stroke-width="0.9" />
<text x="428.4" y="65.55" font-size="7.2" text-anchor="end" textLength="12.4" lengthAdjust="spacingAndGlyphs">0.75</text>
<line x1="432.3" y1="90.7" x2="434.5" y2="90.7" stroke="#222" stroke-width="0.9" />
<text x="428.4" y="93.2" font-size="7.2" text-anchor="end" textLength="12.4" lengthAdjust="spacingAndGlyphs">0.50</text>
<line x1="432.3" y1="118.35" x2="434.5" y2="118.35" stroke="#222" stroke-width="0.9" />
<text x="428.4" y="120.85" font-size="7.2" text-anchor="end" textLength="12.4" lengthAdjust="spacingAndGlyphs">0.25</text>
<line x1="432.3" y1="146" x2="434.5" y2="146" stroke="#222" stroke-width="0.9" />
<text x="428.4" y="148.5" font-size="7.2" text-anchor="end" textLength="12.4" lengthAdjust="spacingAndGlyphs">0.00</text>
<line x1="446.5" y1="151.9" x2="446.5" y2="154.3" stroke="#222" stroke-width="0.9" />
<line x1="466.3" y1="151.9" x2="466.3" y2="154.3" stroke="#222" stroke-width="0.9" />
<line x1="485.8" y1="151.9" x2="485.8" y2="154.3" stroke="#222" stroke-width="0.9" />
<text x="410.5" y="90.5" font-size="7" text-anchor="middle" transform="rotate(-90 410.5 90.5)" textLength="101" lengthAdjust="spacingAndGlyphs">Percent divided cells relative to CTRL</text>
<line x1="466.3" y1="88.49" x2="466.3" y2="36.51" stroke="#666" stroke-width="1.3" />
<line x1="485.8" y1="113.37" x2="485.8" y2="60.84" stroke="#666" stroke-width="1.3" />
<rect x="459" y="49.11" width="14.6" height="11.72" fill="#2e6cbf" stroke="none" stroke-width="0" rx="0" />
<line x1="459" y1="53.1" x2="473.6" y2="53.1" stroke="#222" stroke-width="0.8" />
<rect x="478.5" y="63.05" width="14.6" height="21.35" fill="#2e6cbf" stroke="none" stroke-width="0" rx="0" />
<line x1="478.5" y1="71.68" x2="493.1" y2="71.68" stroke="#222" stroke-width="0.8" />
<line x1="439" y1="35.4" x2="454" y2="35.4" stroke="#333" stroke-width="0.9" />
<line x1="446.5" y1="35.4" x2="466.3" y2="36.51" stroke="#111" stroke-width="0.85" stroke-dasharray="1.1 0.9"/>
<line x1="466.3" y1="36.51" x2="485.8" y2="60.84" stroke="#111" stroke-width="0.85" stroke-dasharray="1.1 0.9"/>
<line x1="446.5" y1="35.4" x2="466.3" y2="49.23" stroke="#2a2a2a" stroke-width="0.85" />
<line x1="466.3" y1="49.23" x2="485.8" y2="67.7" stroke="#2a2a2a" stroke-width="0.85" />
<line x1="446.5" y1="35.4" x2="466.3" y2="53.1" stroke="#111" stroke-width="0.85" stroke-dasharray="1.1 0.9"/>
<line x1="466.3" y1="53.1" x2="485.8" y2="76.32" stroke="#111" stroke-width="0.85" stroke-dasharray="1.1 0.9"/>
<line x1="446.5" y1="35.4" x2="466.3" y2="64.16" stroke="#111" stroke-width="0.85" stroke-dasharray="1.1 0.9"/>
<line x1="466.3" y1="64.16" x2="485.8" y2="87.82" stroke="#111" stroke-width="0.85" stroke-dasharray="1.1 0.9"/>
<line x1="446.5" y1="35.4" x2="466.3" y2="88.49" stroke="#111" stroke-width="0.85" stroke-dasharray="1.1 0.9"/>
<line x1="466.3" y1="88.49" x2="485.8" y2="113.37" stroke="#111" stroke-width="0.85" stroke-dasharray="1.1 0.9"/>
<circle cx="446.5" cy="35.4" r="1.5" fill="#fff" stroke="#444" stroke-width="0.6" />
<circle cx="466.3" cy="36.51" r="1.45" fill="#fff" stroke="#444" stroke-width="0.6" />
<circle cx="466.3" cy="49.23" r="1.45" fill="#fff" stroke="#444" stroke-width="0.6" />
<circle cx="466.3" cy="53.1" r="1.45" fill="#fff" stroke="#444" stroke-width="0.6" />
<circle cx="466.3" cy="64.16" r="1.45" fill="#fff" stroke="#444" stroke-width="0.6" />
<circle cx="466.3" cy="88.49" r="1.45" fill="#fff" stroke="#444" stroke-width="0.6" />
<circle cx="485.8" cy="60.84" r="1.45" fill="#fff" stroke="#444" stroke-width="0.6" />
<circle cx="485.8" cy="67.7" r="1.45" fill="#fff" stroke="#444" stroke-width="0.6" />
<circle cx="485.8" cy="76.32" r="1.45" fill="#fff" stroke="#444" stroke-width="0.6" />
<circle cx="485.8" cy="87.82" r="1.45" fill="#fff" stroke="#444" stroke-width="0.6" />
<circle cx="485.8" cy="113.37" r="1.45" fill="#fff" stroke="#444" stroke-width="0.6" />
<path d="M446.5 32.4 L446.5 30.6 L466.3 30.6 L466.3 32.4" stroke="#222" stroke-width="0.9" fill="none" />
<text x="442.5" y="24.6" font-size="6.9" textLength="28.5" lengthAdjust="spacingAndGlyphs"><tspan font-style="italic">P</tspan> = 0.031</text>
<path d="M446.5 16.3 L446.5 14.5 L485.8 14.5 L485.8 16.3" stroke="#222" stroke-width="0.9" fill="none" />
<text x="451.6" y="9.5" font-size="6.9" textLength="28.5" lengthAdjust="spacingAndGlyphs"><tspan font-style="italic">P</tspan> = 0.031</text>
<text x="450.9" y="162.1" font-size="7" text-anchor="end" transform="rotate(-45 450.9 162.1)" textLength="15.5" lengthAdjust="spacingAndGlyphs">CTRL</text>
<text x="467.7" y="161" font-size="7" text-anchor="end" transform="rotate(-45 467.7 161)" textLength="13.2" lengthAdjust="spacingAndGlyphs">AZM</text>
<text x="473" y="167.2" font-size="7" text-anchor="end" transform="rotate(-45 473 167.2)" textLength="24" lengthAdjust="spacingAndGlyphs">10mg.L<tspan dy="-2.4" font-size="4">-1</tspan></text>
<text x="487.2" y="161" font-size="7" text-anchor="end" transform="rotate(-45 487.2 161)" textLength="13.2" lengthAdjust="spacingAndGlyphs">AZM</text>
<text x="492.5" y="167.2" font-size="7" text-anchor="end" transform="rotate(-45 492.5 167.2)" textLength="24" lengthAdjust="spacingAndGlyphs">20mg.L<tspan dy="-2.4" font-size="4">-1</tspan></text>
<text font-size="12" font-weight="bold" fill="#111" stroke="#111" transform="translate(2.9 202.9) scale(0.82 1)" style="stroke-width:0.45px">B</text>
<line x1="32.9" y1="203.7" x2="45" y2="203.7" stroke="#b49dbd" stroke-width="0.9" />
<circle cx="38.9" cy="203.7" r="1.9" fill="#fff" stroke="#333" stroke-width="0.8" />
<text x="48.5" y="206.2" font-size="7" textLength="16.4" lengthAdjust="spacingAndGlyphs">CTRL</text>
<line x1="32.9" y1="212.7" x2="45" y2="212.7" stroke="#865a96" stroke-width="0.9" />
<circle cx="38.9" cy="212.7" r="1.9" fill="#fff" stroke="#333" stroke-width="0.8" />
<text x="48.5" y="215.2" font-size="7" textLength="44.8" lengthAdjust="spacingAndGlyphs">AZM 10mg.L<tspan dy="-2.4" font-size="3.8">-1</tspan></text>
<line x1="32.9" y1="222.2" x2="45" y2="222.2" stroke="#4a1a5c" stroke-width="0.9" />
<circle cx="38.9" cy="222.2" r="1.9" fill="#fff" stroke="#333" stroke-width="0.8" />
<text x="48.5" y="224.7" font-size="7" textLength="44.8" lengthAdjust="spacingAndGlyphs">AZM 20mg.L<tspan dy="-2.4" font-size="3.8">-1</tspan></text>
<line x1="31.7" y1="227.4" x2="31.7" y2="356.6" stroke="#222" stroke-width="1.2" />
<line x1="31.1" y1="356" x2="141.3" y2="356" stroke="#222" stroke-width="1.2" />
<line x1="29.4" y1="350.2" x2="31.7" y2="350.2" stroke="#222" stroke-width="0.9" />
<text font-size="7.1" text-anchor="end" transform="translate(26.4 352.75) scale(0.91 1)">0</text>
<line x1="29.4" y1="320.5" x2="31.7" y2="320.5" stroke="#222" stroke-width="0.9" />
<text font-size="7.1" text-anchor="end" transform="translate(26.4 323.05) scale(0.91 1)">25</text>
<line x1="29.4" y1="290.8" x2="31.7" y2="290.8" stroke="#222" stroke-width="0.9" />
<text font-size="7.1" text-anchor="end" transform="translate(26.4 293.35) scale(0.91 1)">50</text>
<line x1="29.4" y1="261.1" x2="31.7" y2="261.1" stroke="#222" stroke-width="0.9" />
<text font-size="7.1" text-anchor="end" transform="translate(26.4 263.65) scale(0.91 1)">75</text>
<line x1="29.4" y1="231.4" x2="31.7" y2="231.4" stroke="#222" stroke-width="0.9" />
<text font-size="7.1" text-anchor="end" transform="translate(26.4 233.95) scale(0.91 1)">100</text>
<line x1="42.5" y1="356" x2="42.5" y2="358.4" stroke="#222" stroke-width="0.9" />
<text font-size="7" text-anchor="middle" transform="translate(42.5 368.2) scale(0.88 1)">12:1</text>
<line x1="58.25" y1="356" x2="58.25" y2="358.4" stroke="#222" stroke-width="0.9" />
<text font-size="7" text-anchor="middle" transform="translate(58.25 368.2) scale(0.88 1)">6:1</text>
<line x1="74" y1="356" x2="74" y2="358.4" stroke="#222" stroke-width="0.9" />
<text font-size="7" text-anchor="middle" transform="translate(74 368.2) scale(0.88 1)">3:1</text>
<line x1="89.75" y1="356" x2="89.75" y2="358.4" stroke="#222" stroke-width="0.9" />
<text font-size="7" text-anchor="middle" transform="translate(89.75 368.2) scale(0.88 1)">3:2</text>
<line x1="105.5" y1="356" x2="105.5" y2="358.4" stroke="#222" stroke-width="0.9" />
<text font-size="7" text-anchor="middle" transform="translate(105.5 368.2) scale(0.88 1)">3:4</text>
<line x1="121.25" y1="356" x2="121.25" y2="358.4" stroke="#222" stroke-width="0.9" />
<text font-size="7" text-anchor="middle" transform="translate(121.25 368.2) scale(0.88 1)">3:8</text>
<line x1="137" y1="356" x2="137" y2="358.4" stroke="#222" stroke-width="0.9" />
<text font-size="7" text-anchor="middle" transform="translate(137 368.2) scale(0.88 1)">3:16</text>
<text x="88.4" y="378.3" font-size="6.9" text-anchor="middle" textLength="85.6" lengthAdjust="spacingAndGlyphs">&#945;CD19 CAR-T cells:NALM6 ratio</text>
<text x="8.8" y="291" font-size="7.2" text-anchor="middle" transform="rotate(-90 8.8 291)" textLength="53" lengthAdjust="spacingAndGlyphs">Percent lysed cells</text>
<path d="M42.5 233.18 L58.25 234.96 L74 239.72 L89.75 255.16 L105.5 294.36 L121.25 327.63 L137 350.2" stroke="#b49dbd" stroke-width="1.15" fill="none" />
<path d="M42.5 233.18 L58.25 238.53 L74 258.72 L89.75 296.74 L105.5 322.88 L121.25 350.2 L137 350.2" stroke="#865a96" stroke-width="1.35" fill="none" />
<path d="M42.5 240.9 L58.25 262.29 L74 299.12 L89.75 327.03 L105.5 350.2 L121.25 350.2 L137 350.2" stroke="#4a1a5c" stroke-width="1.35" fill="none" />
<circle cx="42.5" cy="233.18" r="2.15" fill="#fff" stroke="#2a2a2a" stroke-width="1" />
<circle cx="58.25" cy="234.96" r="2.15" fill="#fff" stroke="#2a2a2a" stroke-width="1" />
<circle cx="74" cy="239.72" r="2.15" fill="#fff" stroke="#2a2a2a" stroke-width="1" />
<circle cx="89.75" cy="255.16" r="2.15" fill="#fff" stroke="#2a2a2a" stroke-width="1" />
<circle cx="105.5" cy="294.36" r="2.15" fill="#fff" stroke="#2a2a2a" stroke-width="1" />
<circle cx="121.25" cy="327.63" r="2.15" fill="#fff" stroke="#2a2a2a" stroke-width="1" />
<circle cx="137" cy="350.2" r="2.15" fill="#fff" stroke="#2a2a2a" stroke-width="1" />
<circle cx="42.5" cy="233.18" r="2.15" fill="#fff" stroke="#2a2a2a" stroke-width="1" />
<circle cx="58.25" cy="238.53" r="2.15" fill="#fff" stroke="#2a2a2a" stroke-width="1" />
<circle cx="74" cy="258.72" r="2.15" fill="#fff" stroke="#2a2a2a" stroke-width="1" />
<circle cx="89.75" cy="296.74" r="2.15" fill="#fff" stroke="#2a2a2a" stroke-width="1" />
<circle cx="105.5" cy="322.88" r="2.15" fill="#fff" stroke="#2a2a2a" stroke-width="1" />
<circle cx="121.25" cy="350.2" r="2.15" fill="#fff" stroke="#2a2a2a" stroke-width="1" />
<circle cx="137" cy="350.2" r="2.15" fill="#fff" stroke="#2a2a2a" stroke-width="1" />
<circle cx="42.5" cy="240.9" r="2.15" fill="#fff" stroke="#2a2a2a" stroke-width="1" />
<circle cx="58.25" cy="262.29" r="2.15" fill="#fff" stroke="#2a2a2a" stroke-width="1" />
<circle cx="74" cy="299.12" r="2.15" fill="#fff" stroke="#2a2a2a" stroke-width="1" />
<circle cx="89.75" cy="327.03" r="2.15" fill="#fff" stroke="#2a2a2a" stroke-width="1" />
<circle cx="105.5" cy="350.2" r="2.15" fill="#fff" stroke="#2a2a2a" stroke-width="1" />
<circle cx="121.25" cy="350.2" r="2.15" fill="#fff" stroke="#2a2a2a" stroke-width="1" />
<circle cx="137" cy="350.2" r="2.15" fill="#fff" stroke="#2a2a2a" stroke-width="1" />
<line x1="172.2" y1="228.2" x2="172.2" y2="356" stroke="#222" stroke-width="1.2" />
<line x1="169.9" y1="349.7" x2="172.2" y2="349.7" stroke="#222" stroke-width="0.9" />
<text font-size="7.1" text-anchor="end" transform="translate(166.2 352.25) scale(0.91 1)">0</text>
<line x1="169.9" y1="320.2" x2="172.2" y2="320.2" stroke="#222" stroke-width="0.9" />
<text font-size="7.1" text-anchor="end" transform="translate(166.2 322.75) scale(0.91 1)">25</text>
<line x1="169.9" y1="290.7" x2="172.2" y2="290.7" stroke="#222" stroke-width="0.9" />
<text font-size="7.1" text-anchor="end" transform="translate(166.2 293.25) scale(0.91 1)">50</text>
<line x1="169.9" y1="261.2" x2="172.2" y2="261.2" stroke="#222" stroke-width="0.9" />
<text font-size="7.1" text-anchor="end" transform="translate(166.2 263.75) scale(0.91 1)">75</text>
<line x1="169.9" y1="231.7" x2="172.2" y2="231.7" stroke="#222" stroke-width="0.9" />
<text font-size="7.1" text-anchor="end" transform="translate(166.2 234.25) scale(0.91 1)">100</text>
<text x="149.8" y="291" font-size="7.2" text-anchor="middle" transform="rotate(-90 149.8 291)" textLength="50" lengthAdjust="spacingAndGlyphs">Percent lysed cells</text>
<line x1="171.6" y1="355.4" x2="212.2" y2="355.4" stroke="#222" stroke-width="1.2" />
<text font-size="7" text-anchor="middle" transform="translate(192 364.5) scale(0.88 1)">12:1</text>
<line x1="179.3" y1="244.68" x2="179.3" y2="232.88" stroke="#a2a2a2" stroke-width="1.2" />
<line x1="192" y1="278.9" x2="192" y2="234.06" stroke="#a2a2a2" stroke-width="1.2" />
<line x1="204.7" y1="314.3" x2="204.7" y2="236.42" stroke="#a2a2a2" stroke-width="1.2" />
<rect x="174.6" y="235.24" width="9.4" height="4.72" fill="#c1a5cb" stroke="none" stroke-width="0" rx="0" />
<line x1="174.6" y1="237.6" x2="184" y2="237.6" stroke="#2a0a35" stroke-width="0.9" />
<rect x="187.3" y="236.42" width="9.4" height="9.44" fill="#9d72aa" stroke="none" stroke-width="0" rx="0" />
<line x1="187.3" y1="242.32" x2="196.7" y2="242.32" stroke="#2a0a35" stroke-width="0.9" />
<rect x="200" y="247.63" width="9.4" height="29.62" fill="#5b1d6f" stroke="none" stroke-width="0" rx="0" />
<line x1="200" y1="267.1" x2="209.4" y2="267.1" stroke="#2a0a35" stroke-width="0.9" />
<line x1="179.3" y1="232.88" x2="192" y2="234.06" stroke="#111" stroke-width="0.8" stroke-dasharray="1.2 0.8"/>
<line x1="192" y1="234.06" x2="204.7" y2="236.42" stroke="#111" stroke-width="0.8" stroke-dasharray="1.2 0.8"/>
<line x1="179.3" y1="235.24" x2="192" y2="236.42" stroke="#111" stroke-width="0.8" stroke-dasharray="1.2 0.8"/>
<line x1="192" y1="236.42" x2="204.7" y2="242.32" stroke="#111" stroke-width="0.8" stroke-dasharray="1.2 0.8"/>
<line x1="179.3" y1="236.42" x2="192" y2="241.14" stroke="#111" stroke-width="0.8" stroke-dasharray="1.2 0.8"/>
<line x1="192" y1="241.14" x2="204.7" y2="264.74" stroke="#111" stroke-width="0.8" stroke-dasharray="1.2 0.8"/>
<line x1="179.3" y1="237.6" x2="192" y2="243.5" stroke="#111" stroke-width="0.8" stroke-dasharray="1.2 0.8"/>
<line x1="192" y1="243.5" x2="204.7" y2="267.1" stroke="#111" stroke-width="0.8" stroke-dasharray="1.2 0.8"/>
<line x1="179.3" y1="241.14" x2="192" y2="245.86" stroke="#111" stroke-width="0.8" stroke-dasharray="1.2 0.8"/>
<line x1="192" y1="245.86" x2="204.7" y2="277.72" stroke="#111" stroke-width="0.8" stroke-dasharray="1.2 0.8"/>
<line x1="179.3" y1="244.68" x2="192" y2="278.9" stroke="#111" stroke-width="0.8" stroke-dasharray="1.2 0.8"/>
<line x1="192" y1="278.9" x2="204.7" y2="314.3" stroke="#111" stroke-width="0.8" stroke-dasharray="1.2 0.8"/>
<circle cx="179.3" cy="232.88" r="1.7" fill="#fff" stroke="#444" stroke-width="0.6" />
<circle cx="192" cy="234.06" r="1.7" fill="#fff" stroke="#444" stroke-width="0.6" />
<circle cx="204.7" cy="236.42" r="1.7" fill="#fff" stroke="#444" stroke-width="0.6" />
<circle cx="179.3" cy="235.24" r="1.7" fill="#fff" stroke="#444" stroke-width="0.6" />
<circle cx="192" cy="236.42" r="1.7" fill="#fff" stroke="#444" stroke-width="0.6" />
<circle cx="204.7" cy="242.32" r="1.7" fill="#fff" stroke="#444" stroke-width="0.6" />
<circle cx="179.3" cy="236.42" r="1.1" fill="#fff" stroke="none" stroke-width="0" />
<circle cx="192" cy="241.14" r="1.1" fill="#fff" stroke="none" stroke-width="0" />
<circle cx="204.7" cy="264.74" r="1.1" fill="#fff" stroke="none" stroke-width="0" />
<circle cx="179.3" cy="237.6" r="1.1" fill="#fff" stroke="none" stroke-width="0" />
<circle cx="192" cy="243.5" r="1.1" fill="#fff" stroke="none" stroke-width="0" />
<circle cx="204.7" cy="267.1" r="1.1" fill="#fff" stroke="none" stroke-width="0" />
<circle cx="179.3" cy="241.14" r="1.7" fill="#fff" stroke="#444" stroke-width="0.6" />
<circle cx="192" cy="245.86" r="1.7" fill="#fff" stroke="#444" stroke-width="0.6" />
<circle cx="204.7" cy="277.72" r="1.7" fill="#fff" stroke="#444" stroke-width="0.6" />
<circle cx="179.3" cy="244.68" r="1.7" fill="#fff" stroke="#444" stroke-width="0.6" />
<circle cx="192" cy="278.9" r="1.7" fill="#fff" stroke="#444" stroke-width="0.6" />
<circle cx="204.7" cy="314.3" r="1.7" fill="#fff" stroke="#444" stroke-width="0.6" />
<path d="M179.3 227.5 L179.3 225.9 L192 225.9 L192 227.5" stroke="#222" stroke-width="0.9" fill="none" />
<path d="M179.3 213.6 L179.3 212 L204.7 212 L204.7 213.6" stroke="#222" stroke-width="0.9" fill="none" />
<text x="171.5" y="221.2" font-size="6.9" textLength="28.3" lengthAdjust="spacingAndGlyphs"><tspan font-style="italic">P</tspan> = 0.031</text>
<text x="177.6" y="206.9" font-size="6.9" textLength="28.3" lengthAdjust="spacingAndGlyphs"><tspan font-style="italic">P</tspan> = 0.031</text>
<line x1="216.68" y1="355.4" x2="256.48" y2="355.4" stroke="#222" stroke-width="1.2" />
<text font-size="7" text-anchor="middle" transform="translate(236.28 364.5) scale(0.88 1)">6:1</text>
<line x1="223.58" y1="274.18" x2="223.58" y2="234.06" stroke="#a2a2a2" stroke-width="1.2" />
<line x1="236.28" y1="309.58" x2="236.28" y2="236.42" stroke="#a2a2a2" stroke-width="1.2" />
<line x1="248.98" y1="336.72" x2="248.98" y2="243.5" stroke="#a2a2a2" stroke-width="1.2" />
<rect x="218.88" y="237.01" width="9.4" height="4.13" fill="#c1a5cb" stroke="none" stroke-width="0" rx="0" />
<line x1="218.88" y1="238.78" x2="228.28" y2="238.78" stroke="#2a0a35" stroke-width="0.9" />
<rect x="231.58" y="243.5" width="9.4" height="27.14" fill="#9d72aa" stroke="none" stroke-width="0" rx="0" />
<line x1="231.58" y1="260.02" x2="240.98" y2="260.02" stroke="#2a0a35" stroke-width="0.9" />
<rect x="244.28" y="270.64" width="9.4" height="46.61" fill="#5b1d6f" stroke="none" stroke-width="0" rx="0" />
<line x1="244.28" y1="294.83" x2="253.68" y2="294.83" stroke="#2a0a35" stroke-width="0.9" />
<line x1="223.58" y1="234.06" x2="236.28" y2="236.42" stroke="#111" stroke-width="0.8" stroke-dasharray="1.2 0.8"/>
<line x1="236.28" y1="236.42" x2="248.98" y2="243.5" stroke="#111" stroke-width="0.8" stroke-dasharray="1.2 0.8"/>
<line x1="223.58" y1="236.42" x2="236.28" y2="243.5" stroke="#111" stroke-width="0.8" stroke-dasharray="1.2 0.8"/>
<line x1="236.28" y1="243.5" x2="248.98" y2="255.3" stroke="#111" stroke-width="0.8" stroke-dasharray="1.2 0.8"/>
<line x1="223.58" y1="237.6" x2="236.28" y2="252.94" stroke="#111" stroke-width="0.8" stroke-dasharray="1.2 0.8"/>
<line x1="236.28" y1="252.94" x2="248.98" y2="293.06" stroke="#111" stroke-width="0.8" stroke-dasharray="1.2 0.8"/>
<line x1="223.58" y1="239.96" x2="236.28" y2="267.1" stroke="#111" stroke-width="0.8" stroke-dasharray="1.2 0.8"/>
<line x1="236.28" y1="267.1" x2="248.98" y2="296.6" stroke="#111" stroke-width="0.8" stroke-dasharray="1.2 0.8"/>
<line x1="223.58" y1="242.32" x2="236.28" y2="269.46" stroke="#111" stroke-width="0.8" stroke-dasharray="1.2 0.8"/>
<line x1="236.28" y1="269.46" x2="248.98" y2="323.74" stroke="#111" stroke-width="0.8" stroke-dasharray="1.2 0.8"/>
<line x1="223.58" y1="274.18" x2="236.28" y2="309.58" stroke="#111" stroke-width="0.8" stroke-dasharray="1.2 0.8"/>
<line x1="236.28" y1="309.58" x2="248.98" y2="336.72" stroke="#111" stroke-width="0.8" stroke-dasharray="1.2 0.8"/>
<circle cx="223.58" cy="234.06" r="1.7" fill="#fff" stroke="#444" stroke-width="0.6" />
<circle cx="236.28" cy="236.42" r="1.7" fill="#fff" stroke="#444" stroke-width="0.6" />
<circle cx="248.98" cy="243.5" r="1.7" fill="#fff" stroke="#444" stroke-width="0.6" />
<circle cx="223.58" cy="236.42" r="1.7" fill="#fff" stroke="#444" stroke-width="0.6" />
<circle cx="236.28" cy="243.5" r="1.7" fill="#fff" stroke="#444" stroke-width="0.6" />
<circle cx="248.98" cy="255.3" r="1.7" fill="#fff" stroke="#444" stroke-width="0.6" />
<circle cx="223.58" cy="237.6" r="1.1" fill="#fff" stroke="none" stroke-width="0" />
<circle cx="236.28" cy="252.94" r="1.1" fill="#fff" stroke="none" stroke-width="0" />
<circle cx="248.98" cy="293.06" r="1.1" fill="#fff" stroke="none" stroke-width="0" />
<circle cx="223.58" cy="239.96" r="1.1" fill="#fff" stroke="none" stroke-width="0" />
<circle cx="236.28" cy="267.1" r="1.1" fill="#fff" stroke="none" stroke-width="0" />
<circle cx="248.98" cy="296.6" r="1.1" fill="#fff" stroke="none" stroke-width="0" />
<circle cx="223.58" cy="242.32" r="1.7" fill="#fff" stroke="#444" stroke-width="0.6" />
<circle cx="236.28" cy="269.46" r="1.1" fill="#fff" stroke="none" stroke-width="0" />
<circle cx="248.98" cy="323.74" r="1.7" fill="#fff" stroke="#444" stroke-width="0.6" />
<circle cx="223.58" cy="274.18" r="1.7" fill="#fff" stroke="#444" stroke-width="0.6" />
<circle cx="236.28" cy="309.58" r="1.7" fill="#fff" stroke="#444" stroke-width="0.6" />
<circle cx="248.98" cy="336.72" r="1.7" fill="#fff" stroke="#444" stroke-width="0.6" />
<path d="M223.58 227.5 L223.58 225.9 L236.28 225.9 L236.28 227.5" stroke="#222" stroke-width="0.9" fill="none" />
<path d="M223.58 213.6 L223.58 212 L248.98 212 L248.98 213.6" stroke="#222" stroke-width="0.9" fill="none" />
<text x="215.78" y="221.2" font-size="6.9" textLength="28.3" lengthAdjust="spacingAndGlyphs"><tspan font-style="italic">P</tspan> = 0.031</text>
<text x="221.88" y="206.9" font-size="6.9" textLength="28.3" lengthAdjust="spacingAndGlyphs"><tspan font-style="italic">P</tspan> = 0.031</text>
<line x1="260.96" y1="355.4" x2="300.76" y2="355.4" stroke="#222" stroke-width="1.2" />
<text font-size="7" text-anchor="middle" transform="translate(280.56 364.5) scale(0.88 1)">3:1</text>
<line x1="267.86" y1="306.04" x2="267.86" y2="235.83" stroke="#a2a2a2" stroke-width="1.2" />
<line x1="280.56" y1="331.29" x2="280.56" y2="241.73" stroke="#a2a2a2" stroke-width="1.2" />
<line x1="293.26" y1="349.7" x2="293.26" y2="262.85" stroke="#a2a2a2" stroke-width="1.2" />
<rect x="263.16" y="246.33" width="9.4" height="30.92" fill="#c1a5cb" stroke="none" stroke-width="0" rx="0" />
<line x1="263.16" y1="267.1" x2="272.56" y2="267.1" stroke="#2a0a35" stroke-width="0.9" />
<rect x="275.86" y="264.03" width="9.4" height="49.09" fill="#9d72aa" stroke="none" stroke-width="0" rx="0" />
<line x1="275.86" y1="291.41" x2="285.26" y2="291.41" stroke="#2a0a35" stroke-width="0.9" />
<rect x="288.56" y="304.15" width="9.4" height="38" fill="#5b1d6f" stroke="none" stroke-width="0" rx="0" />
<line x1="288.56" y1="324.33" x2="297.96" y2="324.33" stroke="#2a0a35" stroke-width="0.9" />
<line x1="267.86" y1="235.83" x2="280.56" y2="241.73" stroke="#111" stroke-width="0.8" stroke-dasharray="1.2 0.8"/>
<line x1="280.56" y1="241.73" x2="293.26" y2="262.85" stroke="#111" stroke-width="0.8" stroke-dasharray="1.2 0.8"/>
<line x1="267.86" y1="239.96" x2="280.56" y2="277.72" stroke="#111" stroke-width="0.8" stroke-dasharray="1.2 0.8"/>
<line x1="280.56" y1="277.72" x2="293.26" y2="299.43" stroke="#111" stroke-width="0.8" stroke-dasharray="1.2 0.8"/>
<line x1="267.86" y1="262.38" x2="280.56" y2="296.6" stroke="#111" stroke-width="0.8" stroke-dasharray="1.2 0.8"/>
<line x1="280.56" y1="296.6" x2="293.26" y2="319.02" stroke="#111" stroke-width="0.8" stroke-dasharray="1.2 0.8"/>
<line x1="267.86" y1="273" x2="280.56" y2="304.86" stroke="#111" stroke-width="0.8" stroke-dasharray="1.2 0.8"/>
<line x1="280.56" y1="304.86" x2="293.26" y2="330.35" stroke="#111" stroke-width="0.8" stroke-dasharray="1.2 0.8"/>
<line x1="267.86" y1="276.54" x2="280.56" y2="316.07" stroke="#111" stroke-width="0.8" stroke-dasharray="1.2 0.8"/>
<line x1="280.56" y1="316.07" x2="293.26" y2="347.1" stroke="#111" stroke-width="0.8" stroke-dasharray="1.2 0.8"/>
<line x1="267.86" y1="306.04" x2="280.56" y2="331.29" stroke="#111" stroke-width="0.8" stroke-dasharray="1.2 0.8"/>
<line x1="280.56" y1="331.29" x2="293.26" y2="349.7" stroke="#111" stroke-width="0.8" stroke-dasharray="1.2 0.8"/>
<circle cx="267.86" cy="235.83" r="1.7" fill="#fff" stroke="#444" stroke-width="0.6" />
<circle cx="280.56" cy="241.73" r="1.7" fill="#fff" stroke="#444" stroke-width="0.6" />
<circle cx="293.26" cy="262.85" r="1.7" fill="#fff" stroke="#444" stroke-width="0.6" />
<circle cx="267.86" cy="239.96" r="1.7" fill="#fff" stroke="#444" stroke-width="0.6" />
<circle cx="280.56" cy="277.72" r="1.1" fill="#fff" stroke="none" stroke-width="0" />
<circle cx="293.26" cy="299.43" r="1.7" fill="#fff" stroke="#444" stroke-width="0.6" />
<circle cx="267.86" cy="262.38" r="1.1" fill="#fff" stroke="none" stroke-width="0" />
<circle cx="280.56" cy="296.6" r="1.1" fill="#fff" stroke="none" stroke-width="0" />
<circle cx="293.26" cy="319.02" r="1.1" fill="#fff" stroke="none" stroke-width="0" />
<circle cx="267.86" cy="273" r="1.1" fill="#fff" stroke="none" stroke-width="0" />
<circle cx="280.56" cy="304.86" r="1.1" fill="#fff" stroke="none" stroke-width="0" />
<circle cx="293.26" cy="330.35" r="1.1" fill="#fff" stroke="none" stroke-width="0" />
<circle cx="267.86" cy="276.54" r="1.1" fill="#fff" stroke="none" stroke-width="0" />
<circle cx="280.56" cy="316.07" r="1.7" fill="#fff" stroke="#444" stroke-width="0.6" />
<circle cx="293.26" cy="347.1" r="1.7" fill="#fff" stroke="#444" stroke-width="0.6" />
<circle cx="267.86" cy="306.04" r="1.7" fill="#fff" stroke="#444" stroke-width="0.6" />
<circle cx="280.56" cy="331.29" r="1.7" fill="#fff" stroke="#444" stroke-width="0.6" />
<circle cx="293.26" cy="349.7" r="1.7" fill="#fff" stroke="#444" stroke-width="0.6" />
<path d="M267.86 227.5 L267.86 225.9 L280.56 225.9 L280.56 227.5" stroke="#222" stroke-width="0.9" fill="none" />
<path d="M267.86 213.6 L267.86 212 L293.26 212 L293.26 213.6" stroke="#222" stroke-width="0.9" fill="none" />
<text x="260.06" y="221.2" font-size="6.9" textLength="28.3" lengthAdjust="spacingAndGlyphs"><tspan font-style="italic">P</tspan> = 0.062</text>
<text x="266.16" y="206.9" font-size="6.9" textLength="28.3" lengthAdjust="spacingAndGlyphs"><tspan font-style="italic">P</tspan> = 0.031</text>
<line x1="305.24" y1="355.4" x2="345.04" y2="355.4" stroke="#222" stroke-width="1.2" />
<text font-size="7" text-anchor="middle" transform="translate(324.84 364.5) scale(0.88 1)">3:2</text>
<line x1="312.14" y1="329.64" x2="312.14" y2="239.25" stroke="#a2a2a2" stroke-width="1.2" />
<line x1="324.84" y1="349.7" x2="324.84" y2="264.74" stroke="#a2a2a2" stroke-width="1.2" />
<line x1="337.54" y1="349.7" x2="337.54" y2="327.28" stroke="#a2a2a2" stroke-width="1.2" />
<rect x="307.44" y="266.75" width="9.4" height="51.09" fill="#c1a5cb" stroke="none" stroke-width="0" rx="0" />
<line x1="307.44" y1="305.69" x2="316.84" y2="305.69" stroke="#2a0a35" stroke-width="0.9" />
<rect x="320.14" y="303.68" width="9.4" height="28.67" fill="#9d72aa" stroke="none" stroke-width="0" rx="0" />
<line x1="320.14" y1="324.45" x2="329.54" y2="324.45" stroke="#2a0a35" stroke-width="0.9" />
<rect x="332.84" y="349.11" width="9.4" height="0.59" fill="#5b1d6f" stroke="none" stroke-width="0" rx="0" />
<line x1="332.84" y1="349.7" x2="342.24" y2="349.7" stroke="#2a0a35" stroke-width="0.9" />
<line x1="312.14" y1="239.25" x2="324.84" y2="264.74" stroke="#111" stroke-width="0.8" stroke-dasharray="1.2 0.8"/>
<line x1="324.84" y1="264.74" x2="337.54" y2="327.28" stroke="#111" stroke-width="0.8" stroke-dasharray="1.2 0.8"/>
<line x1="312.14" y1="255.3" x2="324.84" y2="322.56" stroke="#111" stroke-width="0.8" stroke-dasharray="1.2 0.8"/>
<line x1="324.84" y1="322.56" x2="337.54" y2="349.7" stroke="#111" stroke-width="0.8" stroke-dasharray="1.2 0.8"/>
<line x1="312.14" y1="300.14" x2="324.84" y2="327.28" stroke="#111" stroke-width="0.8" stroke-dasharray="1.2 0.8"/>
<line x1="324.84" y1="327.28" x2="337.54" y2="349.7" stroke="#111" stroke-width="0.8" stroke-dasharray="1.2 0.8"/>
<line x1="312.14" y1="312.65" x2="324.84" y2="334.36" stroke="#111" stroke-width="0.8" stroke-dasharray="1.2 0.8"/>
<line x1="324.84" y1="334.36" x2="337.54" y2="349.7" stroke="#111" stroke-width="0.8" stroke-dasharray="1.2 0.8"/>
<line x1="312.14" y1="321.14" x2="324.84" y2="348.99" stroke="#111" stroke-width="0.8" stroke-dasharray="1.2 0.8"/>
<line x1="324.84" y1="348.99" x2="337.54" y2="349.7" stroke="#111" stroke-width="0.8" stroke-dasharray="1.2 0.8"/>
<line x1="312.14" y1="329.64" x2="324.84" y2="349.7" stroke="#111" stroke-width="0.8" stroke-dasharray="1.2 0.8"/>
<line x1="324.84" y1="349.7" x2="337.54" y2="349.7" stroke="#111" stroke-width="0.8" stroke-dasharray="1.2 0.8"/>
<circle cx="312.14" cy="239.25" r="1.7" fill="#fff" stroke="#444" stroke-width="0.6" />
<circle cx="324.84" cy="264.74" r="1.7" fill="#fff" stroke="#444" stroke-width="0.6" />
<circle cx="337.54" cy="327.28" r="1.7" fill="#fff" stroke="#444" stroke-width="0.6" />
<circle cx="312.14" cy="255.3" r="1.7" fill="#fff" stroke="#444" stroke-width="0.6" />
<circle cx="324.84" cy="322.56" r="1.1" fill="#fff" stroke="none" stroke-width="0" />
<circle cx="337.54" cy="349.7" r="1.7" fill="#fff" stroke="#444" stroke-width="0.6" />
<circle cx="312.14" cy="300.14" r="1.1" fill="#fff" stroke="none" stroke-width="0" />
<circle cx="324.84" cy="327.28" r="1.1" fill="#fff" stroke="none" stroke-width="0" />
<circle cx="337.54" cy="349.7" r="1.7" fill="#fff" stroke="#444" stroke-width="0.6" />
<circle cx="312.14" cy="312.65" r="1.1" fill="#fff" stroke="none" stroke-width="0" />
<circle cx="324.84" cy="334.36" r="1.7" fill="#fff" stroke="#444" stroke-width="0.6" />
<circle cx="337.54" cy="349.7" r="1.7" fill="#fff" stroke="#444" stroke-width="0.6" />
<circle cx="312.14" cy="321.14" r="1.7" fill="#fff" stroke="#444" stroke-width="0.6" />
<circle cx="324.84" cy="348.99" r="1.7" fill="#fff" stroke="#444" stroke-width="0.6" />
<circle cx="337.54" cy="349.7" r="1.7" fill="#fff" stroke="#444" stroke-width="0.6" />
<circle cx="312.14" cy="329.64" r="1.7" fill="#fff" stroke="#444" stroke-width="0.6" />
<circle cx="324.84" cy="349.7" r="1.7" fill="#fff" stroke="#444" stroke-width="0.6" />
<circle cx="337.54" cy="349.7" r="1.7" fill="#fff" stroke="#444" stroke-width="0.6" />
<path d="M312.14 227.5 L312.14 225.9 L324.84 225.9 L324.84 227.5" stroke="#222" stroke-width="0.9" fill="none" />
<path d="M312.14 213.6 L312.14 212 L337.54 212 L337.54 213.6" stroke="#222" stroke-width="0.9" fill="none" />
<text x="304.34" y="221.2" font-size="6.9" textLength="28.3" lengthAdjust="spacingAndGlyphs"><tspan font-style="italic">P</tspan> = 0.031</text>
<text x="310.44" y="206.9" font-size="6.9" textLength="28.3" lengthAdjust="spacingAndGlyphs"><tspan font-style="italic">P</tspan> = 0.031</text>
<line x1="349.52" y1="355.4" x2="389.32" y2="355.4" stroke="#222" stroke-width="1.2" />
<text font-size="7" text-anchor="middle" transform="translate(369.12 364.5) scale(0.88 1)">3:4</text>
<line x1="356.42" y1="349.7" x2="356.42" y2="294.95" stroke="#a2a2a2" stroke-width="1.2" />
<line x1="369.12" y1="349.7" x2="369.12" y2="323.74" stroke="#a2a2a2" stroke-width="1.2" />
<rect x="351.72" y="334.95" width="9.4" height="13.81" fill="#c1a5cb" stroke="none" stroke-width="0" rx="0" />
<line x1="351.72" y1="345.81" x2="361.12" y2="345.81" stroke="#2a0a35" stroke-width="0.9" />
<rect x="364.42" y="330.47" width="9.4" height="19.23" fill="#9d72aa" stroke="none" stroke-width="0" rx="0" />
<line x1="364.42" y1="342.03" x2="373.82" y2="342.03" stroke="#2a0a35" stroke-width="0.9" />
<line x1="356.42" y1="294.95" x2="369.12" y2="323.74" stroke="#111" stroke-width="0.8" stroke-dasharray="1.2 0.8"/>
<line x1="369.12" y1="323.74" x2="381.82" y2="349.7" stroke="#111" stroke-width="0.8" stroke-dasharray="1.2 0.8"/>
<line x1="356.42" y1="332" x2="369.12" y2="330.82" stroke="#111" stroke-width="0.8" stroke-dasharray="1.2 0.8"/>
<line x1="369.12" y1="330.82" x2="381.82" y2="349.7" stroke="#111" stroke-width="0.8" stroke-dasharray="1.2 0.8"/>
<line x1="356.42" y1="342.97" x2="369.12" y2="342.97" stroke="#111" stroke-width="0.8" stroke-dasharray="1.2 0.8"/>
<line x1="369.12" y1="342.97" x2="381.82" y2="349.7" stroke="#111" stroke-width="0.8" stroke-dasharray="1.2 0.8"/>
<line x1="356.42" y1="349.7" x2="369.12" y2="349.7" stroke="#111" stroke-width="0.8" stroke-dasharray="1.2 0.8"/>
<line x1="369.12" y1="349.7" x2="381.82" y2="349.7" stroke="#111" stroke-width="0.8" stroke-dasharray="1.2 0.8"/>
<circle cx="356.42" cy="294.95" r="1.7" fill="#fff" stroke="#444" stroke-width="0.6" />
<circle cx="369.12" cy="323.74" r="1.7" fill="#fff" stroke="#444" stroke-width="0.6" />
<circle cx="381.82" cy="349.7" r="1.7" fill="#fff" stroke="#444" stroke-width="0.6" />
<circle cx="356.42" cy="332" r="1.7" fill="#fff" stroke="#444" stroke-width="0.6" />
<circle cx="369.12" cy="330.82" r="1.1" fill="#fff" stroke="none" stroke-width="0" />
<circle cx="381.82" cy="349.7" r="1.7" fill="#fff" stroke="#444" stroke-width="0.6" />
<circle cx="356.42" cy="342.97" r="1.1" fill="#fff" stroke="none" stroke-width="0" />
<circle cx="369.12" cy="342.97" r="1.1" fill="#fff" stroke="none" stroke-width="0" />
<circle cx="381.82" cy="349.7" r="1.7" fill="#fff" stroke="#444" stroke-width="0.6" />
<circle cx="356.42" cy="349.7" r="1.7" fill="#fff" stroke="#444" stroke-width="0.6" />
<circle cx="369.12" cy="349.7" r="1.7" fill="#fff" stroke="#444" stroke-width="0.6" />
<circle cx="381.82" cy="349.7" r="1.7" fill="#fff" stroke="#444" stroke-width="0.6" />
<path d="M356.42 288.3 L356.42 286.7 L369.12 286.7 L369.12 288.3" stroke="#222" stroke-width="0.9" fill="none" />
<path d="M356.42 274.3 L356.42 272.7 L381.82 272.7 L381.82 274.3" stroke="#222" stroke-width="0.9" fill="none" />
<text x="348.62" y="282" font-size="6.9" textLength="28.3" lengthAdjust="spacingAndGlyphs"><tspan font-style="italic">P</tspan> = 0.181</text>
<text x="354.72" y="267.1" font-size="6.9" textLength="28.3" lengthAdjust="spacingAndGlyphs"><tspan font-style="italic">P</tspan> = 0.181</text>
<line x1="393.8" y1="355.4" x2="433.6" y2="355.4" stroke="#222" stroke-width="1.2" />
<text font-size="7" text-anchor="middle" transform="translate(413.4 364.5) scale(0.88 1)">3:8</text>
<line x1="400.7" y1="349.7" x2="400.7" y2="328.46" stroke="#a2a2a2" stroke-width="1.2" />
<line x1="400.7" y1="328.46" x2="413.4" y2="349.7" stroke="#111" stroke-width="0.8" stroke-dasharray="1.2 0.8"/>
<line x1="413.4" y1="349.7" x2="426.1" y2="349.7" stroke="#111" stroke-width="0.8" stroke-dasharray="1.2 0.8"/>
<line x1="400.7" y1="349.7" x2="413.4" y2="349.7" stroke="#111" stroke-width="0.8" stroke-dasharray="1.2 0.8"/>
<line x1="413.4" y1="349.7" x2="426.1" y2="349.7" stroke="#111" stroke-width="0.8" stroke-dasharray="1.2 0.8"/>
<circle cx="400.7" cy="328.46" r="1.7" fill="#fff" stroke="#444" stroke-width="0.6" />
<circle cx="413.4" cy="349.7" r="1.7" fill="#fff" stroke="#444" stroke-width="0.6" />
<circle cx="426.1" cy="349.7" r="1.7" fill="#fff" stroke="#444" stroke-width="0.6" />
<circle cx="400.7" cy="349.7" r="1.7" fill="#fff" stroke="#444" stroke-width="0.6" />
<circle cx="413.4" cy="349.7" r="1.7" fill="#fff" stroke="#444" stroke-width="0.6" />
<circle cx="426.1" cy="349.7" r="1.7" fill="#fff" stroke="#444" stroke-width="0.6" />
<line x1="438.08" y1="355.4" x2="477.88" y2="355.4" stroke="#222" stroke-width="1.2" />
<text font-size="7" text-anchor="middle" transform="translate(457.68 364.5) scale(0.88 1)">3:16</text>
<line x1="444.98" y1="349.7" x2="457.68" y2="349.7" stroke="#111" stroke-width="0.8" stroke-dasharray="1.2 0.8"/>
<line x1="457.68" y1="349.7" x2="470.38" y2="349.7" stroke="#111" stroke-width="0.8" stroke-dasharray="1.2 0.8"/>
<circle cx="444.98" cy="349.7" r="1.7" fill="#fff" stroke="#444" stroke-width="0.6" />
<circle cx="457.68" cy="349.7" r="1.7" fill="#fff" stroke="#444" stroke-width="0.6" />
<circle cx="470.38" cy="349.7" r="1.7" fill="#fff" stroke="#444" stroke-width="0.6" />
<text x="324.8" y="375.4" font-size="6.9" text-anchor="middle" textLength="86.5" lengthAdjust="spacingAndGlyphs">&#945;CD19 CAR-T cells:NALM6 ratio</text>
<rect x="425.6" y="312.1" width="6.3" height="5.8" fill="#c1a5cb" stroke="none" stroke-width="0" rx="0" />
<text x="434.8" y="317.5" font-size="7" textLength="16.4" lengthAdjust="spacingAndGlyphs">CTRL</text>
<rect x="425.6" y="324" width="6.3" height="5.8" fill="#9d72aa" stroke="none" stroke-width="0" rx="0" />
<text x="434.8" y="329.4" font-size="7" textLength="43.7" lengthAdjust="spacingAndGlyphs">AZM 10mg.L<tspan dy="-2.4" font-size="3.8">-1</tspan></text>
<rect x="425.6" y="335.2" width="6.3" height="5.8" fill="#5b1d6f" stroke="none" stroke-width="0" rx="0" />
<text x="434.8" y="340.6" font-size="7" textLength="43.7" lengthAdjust="spacingAndGlyphs">AZM 20mg.L<tspan dy="-2.4" font-size="3.8">-1</tspan></text>
<text font-size="12" font-weight="bold" fill="#111" stroke="#111" transform="translate(1.8 402.4) scale(0.95 1)" style="stroke-width:0.45px">C</text>
<path d="M130.4 479.1 L130.4 425 Q130.4 421.9 127.3 421.9 L15.5 421.9 Q12.4 421.9 12.4 425 L12.4 649 Q12.4 652.2 15.5 652.2 L127.3 652.2 Q130.4 652.2 130.4 649 L130.4 498.4 L86 498.4 Q80.5 498.4 80.5 492.9 L80.5 484.6 Q80.5 479.1 86 479.1 Z" stroke="#333" stroke-width="0.95" fill="none" stroke-dasharray="3.2 2.1"/>
<rect x="18.1" y="439.6" width="30.6" height="35" fill="#c4c4c4" stroke="none" stroke-width="0" rx="2" />
<text x="33.6" y="433.5" font-size="6.6" text-anchor="middle" fill="#4a4a4a" stroke="#4a4a4a" textLength="24.3" lengthAdjust="spacingAndGlyphs">Glucose</text>
<line x1="33.1" y1="435.8" x2="33.1" y2="454" stroke="#222" stroke-width="0.9" />
<path d="M33.1 458 L31.32 453.8 L34.88 453.8 Z" stroke="#222" stroke-width="0.3" fill="#222" />
<text x="50" y="445.6" font-size="6.6" font-weight="bold" fill="#111" stroke="#111" textLength="39.5" lengthAdjust="spacingAndGlyphs">GLYCOLYSIS</text>
<text x="33.5" y="463.4" font-size="6.6" text-anchor="middle" fill="#4a4a4a" stroke="#4a4a4a" textLength="25.4" lengthAdjust="spacingAndGlyphs">Pyruvate</text>
<line x1="49.5" y1="461.4" x2="59.5" y2="461.4" stroke="#222" stroke-width="0.9" />
<path d="M63 461.4 L58.8 463.19 L58.8 459.61 Z" stroke="#222" stroke-width="0.3" fill="#222" />
<text x="67" y="463.4" font-size="6.6" fill="#4a4a4a" stroke="#4a4a4a" textLength="11.8" lengthAdjust="spacingAndGlyphs">ATP</text>
<line x1="33.6" y1="466" x2="33.6" y2="477.5" stroke="#222" stroke-width="0.9" />
<path d="M33.6 481.5 L31.82 477.3 L35.38 477.3 Z" stroke="#222" stroke-width="0.3" fill="#222" />
<text x="33.4" y="489.4" font-size="6.6" text-anchor="middle" fill="#4a4a4a" stroke="#4a4a4a" textLength="34.2" lengthAdjust="spacingAndGlyphs">Acetyl-CoA</text>
<path d="M49.8 461.4 Q53.5 461.6 54.5 468 Q56.5 486.5 75.5 487.9" stroke="#222" stroke-width="0.9" fill="none" />
<path d="M79.6 487.9 L75.4 489.69 L75.4 486.11 Z" stroke="#222" stroke-width="0.3" fill="#222" />
<text x="108.5" y="468.3" font-size="6.6" text-anchor="middle" fill="#4a4a4a" stroke="#4a4a4a" font-style="italic" textLength="38" lengthAdjust="spacingAndGlyphs">extra-cellular</text>
<text x="108.75" y="476.3" font-size="6.6" text-anchor="middle" fill="#4a4a4a" stroke="#4a4a4a" font-style="italic" textLength="35" lengthAdjust="spacingAndGlyphs">acidification</text>
<text x="85.8" y="490.9" font-size="6.6" font-weight="bold" fill="#111" stroke="#111" textLength="39.8" lengthAdjust="spacingAndGlyphs">Lactate + H<tspan dy="-2.6" font-size="4">+</tspan></text>
<line x1="33.3" y1="492.3" x2="33.3" y2="516.6" stroke="#222" stroke-width="0.9" />
<path d="M59.58 498.12 A29.1 29.1 0 1 1 53.81 498.9" stroke="#111" stroke-width="1.3" fill="none" />
<path d="M58 498 L65.78 495.69 L65.38 501.37 Z" stroke="#111" stroke-width="0.3" fill="#111" />
<text x="60.6" y="525.6" font-size="6.7" text-anchor="middle" fill="#4a4a4a" stroke="#4a4a4a" textLength="13.5" lengthAdjust="spacingAndGlyphs">TCA</text>
<text x="60.5" y="532.8" font-size="6.7" text-anchor="middle" fill="#4a4a4a" stroke="#4a4a4a" textLength="14.4" lengthAdjust="spacingAndGlyphs">cycle</text>
<path d="M36.9 544.8 Q29.5 553 29.4 569" stroke="#222" stroke-width="0.9" fill="none" />
<line x1="53.8" y1="556.2" x2="53.8" y2="568.8" stroke="#222" stroke-width="0.9" />
<text x="29" y="575.6" font-size="6.7" text-anchor="middle" fill="#4a4a4a" stroke="#4a4a4a" textLength="19.6" lengthAdjust="spacingAndGlyphs">NADH</text>
<text x="43" y="575.6" font-size="6.7" fill="#4a4a4a" stroke="#4a4a4a" textLength="19" lengthAdjust="spacingAndGlyphs">FADH<tspan dy="1.8" font-size="4.4">2</tspan></text>
<text x="85" y="575.6" font-size="6.7" fill="#4a4a4a" stroke="#4a4a4a">O<tspan dy="1.8" font-size="4.4">2</tspan></text>
<rect x="18.3" y="582" width="103.2" height="48.2" fill="#c8c8c8" stroke="none" stroke-width="0" rx="2.2" />
<rect x="18.3" y="591" width="103.2" height="8.4" fill="#7c7c7c" stroke="none" stroke-width="0" rx="0" />
<line x1="18.3" y1="591.9" x2="121.5" y2="591.9" stroke="#f0f0f0" stroke-width="1" stroke-dasharray="0.8 0.6"/>
<line x1="18.3" y1="598.6" x2="121.5" y2="598.6" stroke="#f0f0f0" stroke-width="1" stroke-dasharray="0.8 0.6"/>
<path d="M22.3 587.3 Q22.3 585.6 24.0 585.6 L27.0 585.6 Q28.7 585.6 28.7 587.3 L28.7 594.5 L35.1 594.5 Q36.8 594.5 36.8 596.2 L36.8 601.7 Q36.8 603.4 35.1 603.4 L24.0 603.4 Q22.3 603.4 22.3 601.7 Z" stroke="#1a1a1a" stroke-width="0.95" fill="#fff" />
<text x="29.8" y="601.4" font-size="6" text-anchor="middle" fill="#666" stroke="#666">I</text>
<rect x="45.4" y="593.9" width="11.6" height="11" fill="#fff" stroke="#1a1a1a" stroke-width="0.95" rx="2" />
<text x="51.2" y="601.7" font-size="6" text-anchor="middle" fill="#666" stroke="#666">II</text>
<rect x="63" y="585.7" width="14.5" height="18.1" fill="#fff" stroke="#1a1a1a" stroke-width="0.95" rx="2.4" />
<text x="70.3" y="597" font-size="6" text-anchor="middle" fill="#666" stroke="#666">III</text>
<rect x="82.6" y="585.7" width="14.7" height="18.1" fill="#fff" stroke="#1a1a1a" stroke-width="0.95" rx="2.4" />
<text x="90" y="597" font-size="6" text-anchor="middle" fill="#666" stroke="#666">IV</text>
<line x1="110.8" y1="617.9" x2="110.8" y2="555" stroke="#222" stroke-width="0.9" />
<path d="M103.6 589 Q103.6 586.2 105.2 585.2 Q104.0 583.4 104.0 580.6 Q104.2 574.0 110.7 574.0 Q117.2 574.0 117.4 580.6 Q117.4 583.4 116.1 585.2 Q117.7 586.2 117.7 589 L117.7 601.4 Q117.7 603.8 115.3 603.8 L106.0 603.8 Q103.6 603.8 103.6 601.4 Z" stroke="#1a1a1a" stroke-width="0.95" fill="#fff" />
<text x="110.8" y="597" font-size="6" text-anchor="middle" fill="#666" stroke="#666">V</text>
<line x1="29.6" y1="579.8" x2="29.6" y2="594.5" stroke="#222" stroke-width="0.85" />
<line x1="53.1" y1="578.5" x2="53.1" y2="590" stroke="#222" stroke-width="0.85" />
<path d="M53.1 593.6 L51.21 589.4 L54.99 589.4 Z" stroke="#222" stroke-width="0.3" fill="#222" />
<line x1="72.4" y1="579" x2="72.4" y2="585.7" stroke="#222" stroke-width="0.85" />
<line x1="89.3" y1="579" x2="89.3" y2="585.7" stroke="#222" stroke-width="0.85" />
<line x1="29.8" y1="603.4" x2="29.8" y2="617" stroke="#222" stroke-width="0.9" />
<path d="M29.8 620.6 L27.82 616.2 L31.78 616.2 Z" stroke="#222" stroke-width="0.3" fill="#222" />
<line x1="72.4" y1="603.4" x2="72.4" y2="617" stroke="#222" stroke-width="0.9" />
<path d="M72.4 620.6 L70.42 616.2 L74.38 616.2 Z" stroke="#222" stroke-width="0.3" fill="#222" />
<line x1="89.3" y1="603.4" x2="89.3" y2="617" stroke="#222" stroke-width="0.9" />
<path d="M89.3 620.6 L87.32 616.2 L91.28 616.2 Z" stroke="#222" stroke-width="0.3" fill="#222" />
<text x="29.8" y="627.8" font-size="6" text-anchor="middle" fill="#4a4a4a" stroke="#4a4a4a">H<tspan dy="-2.4" font-size="3.8">+</tspan></text>
<text x="72.4" y="627.8" font-size="6" text-anchor="middle" fill="#4a4a4a" stroke="#4a4a4a">H<tspan dy="-2.4" font-size="3.8">+</tspan></text>
<text x="89.3" y="627.8" font-size="6" text-anchor="middle" fill="#4a4a4a" stroke="#4a4a4a">H<tspan dy="-2.4" font-size="3.8">+</tspan></text>
<text x="110.8" y="627.8" font-size="6" text-anchor="middle" fill="#4a4a4a" stroke="#4a4a4a">H<tspan dy="-2.4" font-size="3.8">+</tspan></text>
<line x1="110.8" y1="574" x2="110.8" y2="555" stroke="#222" stroke-width="0.9" />
<path d="M110.8 551 L112.78 555.4 L108.82 555.4 Z" stroke="#222" stroke-width="0.3" fill="#222" />
<text x="111.4" y="548.3" font-size="5.8" text-anchor="middle" fill="#4a4a4a" stroke="#4a4a4a">H<tspan dy="-2.4" font-size="3.8">+</tspan></text>
<text x="100.9" y="562.8" font-size="6.4" text-anchor="middle" fill="#4a4a4a" stroke="#4a4a4a" textLength="12.7" lengthAdjust="spacingAndGlyphs">ADP</text>
<text x="119.7" y="562.8" font-size="6.4" text-anchor="middle" fill="#4a4a4a" stroke="#4a4a4a" textLength="11.2" lengthAdjust="spacingAndGlyphs">ATP</text>
<path d="M102.3 565.3 Q103.5 572.0 110.8 572.0 Q117.0 572.0 118.8 567.5" stroke="#222" stroke-width="0.9" fill="none" />
<path d="M120.4 564 L120.34 568.39 L117.08 566.86 Z" stroke="#222" stroke-width="0.3" fill="#222" />
<line x1="39" y1="601.2" x2="39" y2="603.8" stroke="#333" stroke-width="0.8" />
<line x1="60.4" y1="601.2" x2="60.4" y2="603.8" stroke="#333" stroke-width="0.8" />
<path d="M40.8 604.0 Q40.8 606.6 43.4 606.6 L89.3 606.6" stroke="#333" stroke-width="0.85" fill="none" stroke-dasharray="1.8 1.1"/>
<path d="M72.4 605.2 L73.6 606.6 L72.4 608.0 L71.2 606.6 Z" stroke="#111" stroke-width="0.3" fill="#111" />
<path d="M89.3 605.2 L90.5 606.6 L89.3 608.0 L88.1 606.6 Z" stroke="#111" stroke-width="0.3" fill="#111" />
<text x="40.8" y="613.5" font-size="6.3" text-anchor="middle" fill="#4a4a4a" stroke="#4a4a4a">e<tspan dy="-2.4" font-size="3.8">&#8722;</tspan></text>
<text x="59.8" y="613.5" font-size="6.3" text-anchor="middle" fill="#4a4a4a" stroke="#4a4a4a">Q</text>
<text x="80.6" y="614.4" font-size="6.3" text-anchor="middle" fill="#4a4a4a" stroke="#4a4a4a" textLength="15" lengthAdjust="spacingAndGlyphs">CytC</text>
<text x="121.9" y="638.5" font-size="7" text-anchor="end" font-weight="bold" fill="#111" stroke="#111" textLength="30" lengthAdjust="spacingAndGlyphs">OXPHOS</text>
<text x="121.9" y="646.1" font-size="6.9" text-anchor="end" fill="#4a4a4a" stroke="#4a4a4a" font-style="italic" textLength="63.4" lengthAdjust="spacingAndGlyphs">oxygen consumption</text>
<text x="211.5" y="402.5" font-size="7.1" textLength="53.1" lengthAdjust="spacingAndGlyphs">CD4<tspan dy="-2.6" font-size="4">+</tspan><tspan dy="2.6"> sorted cells</tspan></text>
<text x="411.5" y="402.5" font-size="7.1" textLength="53.1" lengthAdjust="spacingAndGlyphs">CD8<tspan dy="-2.6" font-size="4">+</tspan><tspan dy="2.6"> sorted cells</tspan></text>
<line x1="165.4" y1="406.9" x2="312.5" y2="406.9" stroke="#222" stroke-width="1.2" />
<line x1="364" y1="406.9" x2="512.5" y2="406.9" stroke="#222" stroke-width="1.2" />
<line x1="161.9" y1="415.2" x2="172.3" y2="415.2" stroke="#c8101c" stroke-width="0.9" />
<circle cx="167.1" cy="415.2" r="1.35" fill="#c8101c" stroke="#c8101c" stroke-width="0.6" />
<text x="175.8" y="417.5" font-size="7" textLength="15.4" lengthAdjust="spacingAndGlyphs">CTRL</text>
<line x1="200.5" y1="415.2" x2="210.5" y2="415.2" stroke="#5fae4a" stroke-width="0.9" />
<circle cx="205.5" cy="415.2" r="1.35" fill="#fff" stroke="#5fae4a" stroke-width="0.6" />
<text x="213.4" y="417.5" font-size="7" textLength="43.1" lengthAdjust="spacingAndGlyphs">Non-activated</text>
<line x1="161.9" y1="424.3" x2="172.3" y2="424.3" stroke="#d8404a" stroke-width="0.9" />
<circle cx="167.1" cy="424.3" r="1.35" fill="#fff" stroke="#d8404a" stroke-width="0.6" />
<text x="175.8" y="427" font-size="7" textLength="43.8" lengthAdjust="spacingAndGlyphs">AZM 10mg.L<tspan dy="-2.6" font-size="4">-1</tspan></text>
<line x1="361.7" y1="415.2" x2="372.1" y2="415.2" stroke="#2a5fb0" stroke-width="0.9" />
<circle cx="366.9" cy="415.2" r="1.35" fill="#2a5fb0" stroke="#2a5fb0" stroke-width="0.6" />
<text x="375.6" y="417.5" font-size="7" textLength="15.4" lengthAdjust="spacingAndGlyphs">CTRL</text>
<line x1="400.3" y1="415.2" x2="410.3" y2="415.2" stroke="#5fae4a" stroke-width="0.9" />
<circle cx="405.3" cy="415.2" r="1.35" fill="#fff" stroke="#5fae4a" stroke-width="0.6" />
<text x="413.2" y="417.5" font-size="7" textLength="43.1" lengthAdjust="spacingAndGlyphs">Non-activated</text>
<line x1="361.7" y1="424.3" x2="372.1" y2="424.3" stroke="#4f86cc" stroke-width="0.9" />
<circle cx="366.9" cy="424.3" r="1.35" fill="#fff" stroke="#4f86cc" stroke-width="0.6" />
<text x="375.6" y="427" font-size="7" textLength="43.8" lengthAdjust="spacingAndGlyphs">AZM 10mg.L<tspan dy="-2.6" font-size="4">-1</tspan></text>
<line x1="164.6" y1="441.5" x2="164.6" y2="515.7" stroke="#222" stroke-width="1.4" />
<line x1="163.9" y1="515" x2="237.1" y2="515" stroke="#222" stroke-width="1.4" />
<line x1="161.6" y1="446" x2="164.6" y2="446" stroke="#222" stroke-width="1" />
<text font-size="7.1" text-anchor="end" transform="translate(158.3 448.55) scale(0.93 1)">30</text>
<line x1="161.6" y1="470.4" x2="164.6" y2="470.4" stroke="#222" stroke-width="1" />
<text font-size="7.1" text-anchor="end" transform="translate(158.3 472.95) scale(0.93 1)">20</text>
<line x1="161.6" y1="494.8" x2="164.6" y2="494.8" stroke="#222" stroke-width="1" />
<text font-size="7.1" text-anchor="end" transform="translate(158.3 497.35) scale(0.93 1)">10</text>
<line x1="167.9" y1="515" x2="167.9" y2="517.5" stroke="#222" stroke-width="1" />
<text font-size="7.1" text-anchor="middle" transform="translate(167.9 527.3) scale(0.93 1)">0</text>
<line x1="185.2" y1="515" x2="185.2" y2="517.5" stroke="#222" stroke-width="1" />
<text font-size="7.1" text-anchor="middle" transform="translate(185.2 527.3) scale(0.93 1)">30</text>
<line x1="202.5" y1="515" x2="202.5" y2="517.5" stroke="#222" stroke-width="1" />
<text font-size="7.1" text-anchor="middle" transform="translate(202.5 527.3) scale(0.93 1)">60</text>
<line x1="219.8" y1="515" x2="219.8" y2="517.5" stroke="#222" stroke-width="1" />
<text font-size="7.1" text-anchor="middle" transform="translate(219.8 527.3) scale(0.93 1)">90</text>
<text x="201.9" y="539.3" font-size="7.3" text-anchor="middle" textLength="42.3" lengthAdjust="spacingAndGlyphs">Time (minutes)</text>
<text x="145.4" y="478" font-size="7.3" text-anchor="middle" transform="rotate(-90 145.4 478)" textLength="45.5" lengthAdjust="spacingAndGlyphs">ECAR (mpH/min)</text>
<line x1="176.5" y1="441.5" x2="176.5" y2="515" stroke="#333" stroke-width="0.8" stroke-dasharray="0.8 0.8"/>
<line x1="216.5" y1="441.5" x2="216.5" y2="515" stroke="#333" stroke-width="0.8" stroke-dasharray="0.8 0.8"/>
<path d="M167.88 510.77 L171.73 511.15 L175.58 510.77 L180 506.54 L183.85 506.92 L187.69 507.31 L191.54 506.92 L195.38 506.15 L199.23 505.96 L203.46 505.38 L207.31 504.62 L211.54 504.04 L215.38 505 L222.69 505.96 L226.54 507.88 L230.38 508.85 L234.62 509.81" stroke="#5fae4a" stroke-width="0.95" fill="none" />
<path d="M167.88 510.77 L171.73 511.15 L175.58 510.77 L180 504.04 L183.85 495.38 L187.69 491.15 L191.54 486.73 L195.38 484.23 L199.23 482.31 L203.46 480.38 L207.31 479.04 L211.54 477.69 L215.38 476.54 L222.69 503.08 L226.54 504.04 L230.38 505 L234.62 505.38" stroke="#d8404a" stroke-width="0.95" fill="none" />
<path d="M167.88 509.81 L171.73 510.38 L175.58 509.81 L180 496.35 L183.85 476.15 L187.69 466.54 L191.54 460.38 L195.38 456.54 L199.23 452.69 L203.46 450.19 L207.31 448.27 L211.54 445.77 L215.38 444.42 L222.69 500.19 L226.54 501.54 L230.38 502.69 L234.62 503.46" stroke="#c8101c" stroke-width="0.95" fill="none" />
<circle cx="167.88" cy="510.77" r="1.5" fill="#fff" stroke="#5fae4a" stroke-width="0.7" />
<circle cx="171.73" cy="511.15" r="1.5" fill="#fff" stroke="#5fae4a" stroke-width="0.7" />
<circle cx="175.58" cy="510.77" r="1.5" fill="#fff" stroke="#5fae4a" stroke-width="0.7" />
<circle cx="180" cy="506.54" r="1.5" fill="#fff" stroke="#5fae4a" stroke-width="0.7" />
<circle cx="183.85" cy="506.92" r="1.5" fill="#fff" stroke="#5fae4a" stroke-width="0.7" />
<circle cx="187.69" cy="507.31" r="1.5" fill="#fff" stroke="#5fae4a" stroke-width="0.7" />
<circle cx="191.54" cy="506.92" r="1.5" fill="#fff" stroke="#5fae4a" stroke-width="0.7" />
<circle cx="195.38" cy="506.15" r="1.5" fill="#fff" stroke="#5fae4a" stroke-width="0.7" />
<circle cx="199.23" cy="505.96" r="1.5" fill="#fff" stroke="#5fae4a" stroke-width="0.7" />
<circle cx="203.46" cy="505.38" r="1.5" fill="#fff" stroke="#5fae4a" stroke-width="0.7" />
<circle cx="207.31" cy="504.62" r="1.5" fill="#fff" stroke="#5fae4a" stroke-width="0.7" />
<circle cx="211.54" cy="504.04" r="1.5" fill="#fff" stroke="#5fae4a" stroke-width="0.7" />
<circle cx="215.38" cy="505" r="1.5" fill="#fff" stroke="#5fae4a" stroke-width="0.7" />
<circle cx="222.69" cy="505.96" r="1.5" fill="#fff" stroke="#5fae4a" stroke-width="0.7" />
<circle cx="226.54" cy="507.88" r="1.5" fill="#fff" stroke="#5fae4a" stroke-width="0.7" />
<circle cx="230.38" cy="508.85" r="1.5" fill="#fff" stroke="#5fae4a" stroke-width="0.7" />
<circle cx="234.62" cy="509.81" r="1.5" fill="#fff" stroke="#5fae4a" stroke-width="0.7" />
<circle cx="167.88" cy="510.77" r="1.5" fill="#fff" stroke="#d8404a" stroke-width="0.7" />
<circle cx="171.73" cy="511.15" r="1.5" fill="#fff" stroke="#d8404a" stroke-width="0.7" />
<circle cx="175.58" cy="510.77" r="1.5" fill="#fff" stroke="#d8404a" stroke-width="0.7" />
<circle cx="180" cy="504.04" r="1.5" fill="#fff" stroke="#d8404a" stroke-width="0.7" />
<circle cx="183.85" cy="495.38" r="1.5" fill="#fff" stroke="#d8404a" stroke-width="0.7" />
<circle cx="187.69" cy="491.15" r="1.5" fill="#fff" stroke="#d8404a" stroke-width="0.7" />
<circle cx="191.54" cy="486.73" r="1.5" fill="#fff" stroke="#d8404a" stroke-width="0.7" />
<circle cx="195.38" cy="484.23" r="1.5" fill="#fff" stroke="#d8404a" stroke-width="0.7" />
<circle cx="199.23" cy="482.31" r="1.5" fill="#fff" stroke="#d8404a" stroke-width="0.7" />
<circle cx="203.46" cy="480.38" r="1.5" fill="#fff" stroke="#d8404a" stroke-width="0.7" />
<circle cx="207.31" cy="479.04" r="1.5" fill="#fff" stroke="#d8404a" stroke-width="0.7" />
<circle cx="211.54" cy="477.69" r="1.5" fill="#fff" stroke="#d8404a" stroke-width="0.7" />
<circle cx="215.38" cy="476.54" r="1.5" fill="#fff" stroke="#d8404a" stroke-width="0.7" />
<circle cx="222.69" cy="503.08" r="1.5" fill="#fff" stroke="#d8404a" stroke-width="0.7" />
<circle cx="226.54" cy="504.04" r="1.5" fill="#fff" stroke="#d8404a" stroke-width="0.7" />
<circle cx="230.38" cy="505" r="1.5" fill="#fff" stroke="#d8404a" stroke-width="0.7" />
<circle cx="234.62" cy="505.38" r="1.5" fill="#fff" stroke="#d8404a" stroke-width="0.7" />
<circle cx="167.88" cy="509.81" r="1.5" fill="#c8101c" stroke="#c8101c" stroke-width="0.7" />
<circle cx="171.73" cy="510.38" r="1.5" fill="#c8101c" stroke="#c8101c" stroke-width="0.7" />
<circle cx="175.58" cy="509.81" r="1.5" fill="#c8101c" stroke="#c8101c" stroke-width="0.7" />
<circle cx="180" cy="496.35" r="1.5" fill="#c8101c" stroke="#c8101c" stroke-width="0.7" />
<circle cx="183.85" cy="476.15" r="1.5" fill="#c8101c" stroke="#c8101c" stroke-width="0.7" />
<circle cx="187.69" cy="466.54" r="1.5" fill="#c8101c" stroke="#c8101c" stroke-width="0.7" />
<circle cx="191.54" cy="460.38" r="1.5" fill="#c8101c" stroke="#c8101c" stroke-width="0.7" />
<circle cx="195.38" cy="456.54" r="1.5" fill="#c8101c" stroke="#c8101c" stroke-width="0.7" />
<circle cx="199.23" cy="452.69" r="1.5" fill="#c8101c" stroke="#c8101c" stroke-width="0.7" />
<circle cx="203.46" cy="450.19" r="1.5" fill="#c8101c" stroke="#c8101c" stroke-width="0.7" />
<circle cx="207.31" cy="448.27" r="1.5" fill="#c8101c" stroke="#c8101c" stroke-width="0.7" />
<circle cx="211.54" cy="445.77" r="1.5" fill="#c8101c" stroke="#c8101c" stroke-width="0.7" />
<circle cx="215.38" cy="444.42" r="1.5" fill="#c8101c" stroke="#c8101c" stroke-width="0.7" />
<circle cx="222.69" cy="500.19" r="1.5" fill="#c8101c" stroke="#c8101c" stroke-width="0.7" />
<circle cx="226.54" cy="501.54" r="1.5" fill="#c8101c" stroke="#c8101c" stroke-width="0.7" />
<circle cx="230.38" cy="502.69" r="1.5" fill="#c8101c" stroke="#c8101c" stroke-width="0.7" />
<circle cx="234.62" cy="503.46" r="1.5" fill="#c8101c" stroke="#c8101c" stroke-width="0.7" />
<text x="155.7" y="437.6" font-size="7" textLength="42" lengthAdjust="spacingAndGlyphs">&#945;CD3-&#945;CD28</text>
<text x="208" y="437.6" font-size="7" textLength="16.2" lengthAdjust="spacingAndGlyphs">2-DG</text>
<line x1="164.6" y1="574.4" x2="164.6" y2="648.8" stroke="#222" stroke-width="1.4" />
<line x1="163.9" y1="648.1" x2="237.1" y2="648.1" stroke="#222" stroke-width="1.4" />
<line x1="161.6" y1="599.4" x2="164.6" y2="599.4" stroke="#222" stroke-width="1" />
<text font-size="7.1" text-anchor="end" transform="translate(158.3 601.95) scale(0.93 1)">50</text>
<line x1="161.6" y1="625.4" x2="164.6" y2="625.4" stroke="#222" stroke-width="1" />
<text font-size="7.1" text-anchor="end" transform="translate(158.3 627.95) scale(0.93 1)">40</text>
<line x1="167.9" y1="648.1" x2="167.9" y2="650.6" stroke="#222" stroke-width="1" />
<text font-size="7.1" text-anchor="middle" transform="translate(167.9 659.7) scale(0.93 1)">0</text>
<line x1="185.2" y1="648.1" x2="185.2" y2="650.6" stroke="#222" stroke-width="1" />
<text font-size="7.1" text-anchor="middle" transform="translate(185.2 659.7) scale(0.93 1)">30</text>
<line x1="202.5" y1="648.1" x2="202.5" y2="650.6" stroke="#222" stroke-width="1" />
<text font-size="7.1" text-anchor="middle" transform="translate(202.5 659.7) scale(0.93 1)">60</text>
<line x1="219.8" y1="648.1" x2="219.8" y2="650.6" stroke="#222" stroke-width="1" />
<text font-size="7.1" text-anchor="middle" transform="translate(219.8 659.7) scale(0.93 1)">90</text>
<text x="201.9" y="671.2" font-size="7.3" text-anchor="middle" textLength="42.3" lengthAdjust="spacingAndGlyphs">Time (minutes)</text>
<text x="145.4" y="611" font-size="7.3" text-anchor="middle" transform="rotate(-90 145.4 611)" textLength="45.5" lengthAdjust="spacingAndGlyphs">OCR (pmol/min)</text>
<line x1="176.5" y1="574.4" x2="176.5" y2="648.1" stroke="#333" stroke-width="0.8" stroke-dasharray="0.8 0.8"/>
<line x1="216.5" y1="574.4" x2="216.5" y2="648.1" stroke="#333" stroke-width="0.8" stroke-dasharray="0.8 0.8"/>
<path d="M180 627.31 L183.85 626.35 L187.69 627.69 L191.54 628.27 L195.38 628.85 L199.23 627.31 L203.46 625.38 L207.31 626.92 L211.54 629.23 L215.38 626.35 L222.69 591.15 L226.54 598.46 L230.38 600.77 L234.62 605.77" stroke="#5fae4a" stroke-width="0.95" fill="none" />
<path d="M167.88 633.08 L171.73 638.85 L175.58 644.23 L180 617.69 L183.85 607.12 L187.69 605.77 L191.54 606.73 L195.38 608.08 L199.23 607.12 L203.46 606.15 L207.31 608.08 L211.54 607.12 L215.38 607.69 L222.69 577.69 L226.54 585.96 L230.38 593.08 L234.62 600" stroke="#d8404a" stroke-width="0.95" fill="none" />
<path d="M167.88 627.69 L171.73 636.92 L175.58 642.31 L180 600.38 L183.85 595.58 L187.69 596.92 L191.54 599.42 L195.38 601.35 L199.23 600 L203.46 599.81 L207.31 601.35 L211.54 601.35 L215.38 599.42 L222.69 587.31 L226.54 588.85 L230.38 593.65 L234.62 598.08" stroke="#c8101c" stroke-width="0.95" fill="none" />
<circle cx="180" cy="627.31" r="1.5" fill="#fff" stroke="#5fae4a" stroke-width="0.7" />
<circle cx="183.85" cy="626.35" r="1.5" fill="#fff" stroke="#5fae4a" stroke-width="0.7" />
<circle cx="187.69" cy="627.69" r="1.5" fill="#fff" stroke="#5fae4a" stroke-width="0.7" />
<circle cx="191.54" cy="628.27" r="1.5" fill="#fff" stroke="#5fae4a" stroke-width="0.7" />
<circle cx="195.38" cy="628.85" r="1.5" fill="#fff" stroke="#5fae4a" stroke-width="0.7" />
<circle cx="199.23" cy="627.31" r="1.5" fill="#fff" stroke="#5fae4a" stroke-width="0.7" />
<circle cx="203.46" cy="625.38" r="1.5" fill="#fff" stroke="#5fae4a" stroke-width="0.7" />
<circle cx="207.31" cy="626.92" r="1.5" fill="#fff" stroke="#5fae4a" stroke-width="0.7" />
<circle cx="211.54" cy="629.23" r="1.5" fill="#fff" stroke="#5fae4a" stroke-width="0.7" />
<circle cx="215.38" cy="626.35" r="1.5" fill="#fff" stroke="#5fae4a" stroke-width="0.7" />
<circle cx="222.69" cy="591.15" r="1.5" fill="#fff" stroke="#5fae4a" stroke-width="0.7" />
<circle cx="226.54" cy="598.46" r="1.5" fill="#fff" stroke="#5fae4a" stroke-width="0.7" />
<circle cx="230.38" cy="600.77" r="1.5" fill="#fff" stroke="#5fae4a" stroke-width="0.7" />
<circle cx="234.62" cy="605.77" r="1.5" fill="#fff" stroke="#5fae4a" stroke-width="0.7" />
<circle cx="167.88" cy="633.08" r="1.5" fill="#fff" stroke="#d8404a" stroke-width="0.7" />
<circle cx="171.73" cy="638.85" r="1.5" fill="#fff" stroke="#d8404a" stroke-width="0.7" />
<circle cx="175.58" cy="644.23" r="1.5" fill="#fff" stroke="#d8404a" stroke-width="0.7" />
<circle cx="180" cy="617.69" r="1.5" fill="#fff" stroke="#d8404a" stroke-width="0.7" />
<circle cx="183.85" cy="607.12" r="1.5" fill="#fff" stroke="#d8404a" stroke-width="0.7" />
<circle cx="187.69" cy="605.77" r="1.5" fill="#fff" stroke="#d8404a" stroke-width="0.7" />
<circle cx="191.54" cy="606.73" r="1.5" fill="#fff" stroke="#d8404a" stroke-width="0.7" />
<circle cx="195.38" cy="608.08" r="1.5" fill="#fff" stroke="#d8404a" stroke-width="0.7" />
<circle cx="199.23" cy="607.12" r="1.5" fill="#fff" stroke="#d8404a" stroke-width="0.7" />
<circle cx="203.46" cy="606.15" r="1.5" fill="#fff" stroke="#d8404a" stroke-width="0.7" />
<circle cx="207.31" cy="608.08" r="1.5" fill="#fff" stroke="#d8404a" stroke-width="0.7" />
<circle cx="211.54" cy="607.12" r="1.5" fill="#fff" stroke="#d8404a" stroke-width="0.7" />
<circle cx="215.38" cy="607.69" r="1.5" fill="#fff" stroke="#d8404a" stroke-width="0.7" />
<circle cx="222.69" cy="577.69" r="1.5" fill="#fff" stroke="#d8404a" stroke-width="0.7" />
<circle cx="226.54" cy="585.96" r="1.5" fill="#fff" stroke="#d8404a" stroke-width="0.7" />
<circle cx="230.38" cy="593.08" r="1.5" fill="#fff" stroke="#d8404a" stroke-width="0.7" />
<circle cx="234.62" cy="600" r="1.5" fill="#fff" stroke="#d8404a" stroke-width="0.7" />
<circle cx="167.88" cy="627.69" r="1.5" fill="#c8101c" stroke="#c8101c" stroke-width="0.7" />
<circle cx="171.73" cy="636.92" r="1.5" fill="#c8101c" stroke="#c8101c" stroke-width="0.7" />
<circle cx="175.58" cy="642.31" r="1.5" fill="#c8101c" stroke="#c8101c" stroke-width="0.7" />
<circle cx="180" cy="600.38" r="1.5" fill="#c8101c" stroke="#c8101c" stroke-width="0.7" />
<circle cx="183.85" cy="595.58" r="1.5" fill="#c8101c" stroke="#c8101c" stroke-width="0.7" />
<circle cx="187.69" cy="596.92" r="1.5" fill="#c8101c" stroke="#c8101c" stroke-width="0.7" />
<circle cx="191.54" cy="599.42" r="1.5" fill="#c8101c" stroke="#c8101c" stroke-width="0.7" />
<circle cx="195.38" cy="601.35" r="1.5" fill="#c8101c" stroke="#c8101c" stroke-width="0.7" />
<circle cx="199.23" cy="600" r="1.5" fill="#c8101c" stroke="#c8101c" stroke-width="0.7" />
<circle cx="203.46" cy="599.81" r="1.5" fill="#c8101c" stroke="#c8101c" stroke-width="0.7" />
<circle cx="207.31" cy="601.35" r="1.5" fill="#c8101c" stroke="#c8101c" stroke-width="0.7" />
<circle cx="211.54" cy="601.35" r="1.5" fill="#c8101c" stroke="#c8101c" stroke-width="0.7" />
<circle cx="215.38" cy="599.42" r="1.5" fill="#c8101c" stroke="#c8101c" stroke-width="0.7" />
<circle cx="222.69" cy="587.31" r="1.5" fill="#c8101c" stroke="#c8101c" stroke-width="0.7" />
<circle cx="226.54" cy="588.85" r="1.5" fill="#c8101c" stroke="#c8101c" stroke-width="0.7" />
<circle cx="230.38" cy="593.65" r="1.5" fill="#c8101c" stroke="#c8101c" stroke-width="0.7" />
<circle cx="234.62" cy="598.08" r="1.5" fill="#c8101c" stroke="#c8101c" stroke-width="0.7" />
<text x="155.7" y="570.8" font-size="7" textLength="42" lengthAdjust="spacingAndGlyphs">&#945;CD3-&#945;CD28</text>
<text x="208" y="570.8" font-size="7" textLength="16.2" lengthAdjust="spacingAndGlyphs">2-DG</text>
<line x1="364.6" y1="440.6" x2="364.6" y2="514.9" stroke="#222" stroke-width="1.4" />
<line x1="363.9" y1="514.2" x2="436.2" y2="514.2" stroke="#222" stroke-width="1.4" />
<line x1="361.6" y1="465" x2="364.6" y2="465" stroke="#222" stroke-width="1" />
<text font-size="7.1" text-anchor="end" transform="translate(358.3 467.55) scale(0.93 1)">20</text>
<line x1="361.6" y1="493.5" x2="364.6" y2="493.5" stroke="#222" stroke-width="1" />
<text font-size="7.1" text-anchor="end" transform="translate(358.3 496.05) scale(0.93 1)">10</text>
<line x1="367.9" y1="514.2" x2="367.9" y2="516.7" stroke="#222" stroke-width="1" />
<text font-size="7.1" text-anchor="middle" transform="translate(367.9 527.3) scale(0.93 1)">0</text>
<line x1="385.2" y1="514.2" x2="385.2" y2="516.7" stroke="#222" stroke-width="1" />
<text font-size="7.1" text-anchor="middle" transform="translate(385.2 527.3) scale(0.93 1)">30</text>
<line x1="402.5" y1="514.2" x2="402.5" y2="516.7" stroke="#222" stroke-width="1" />
<text font-size="7.1" text-anchor="middle" transform="translate(402.5 527.3) scale(0.93 1)">60</text>
<line x1="419.8" y1="514.2" x2="419.8" y2="516.7" stroke="#222" stroke-width="1" />
<text font-size="7.1" text-anchor="middle" transform="translate(419.8 527.3) scale(0.93 1)">90</text>
<text x="401.9" y="539.3" font-size="7.3" text-anchor="middle" textLength="42.3" lengthAdjust="spacingAndGlyphs">Time (minutes)</text>
<text x="345.4" y="478" font-size="7.3" text-anchor="middle" transform="rotate(-90 345.4 478)" textLength="45.5" lengthAdjust="spacingAndGlyphs">ECAR (mpH/min)</text>
<line x1="376.2" y1="440.6" x2="376.2" y2="514.2" stroke="#333" stroke-width="0.8" stroke-dasharray="0.8 0.8"/>
<line x1="415.4" y1="440.6" x2="415.4" y2="514.2" stroke="#333" stroke-width="0.8" stroke-dasharray="0.8 0.8"/>
<path d="M367.31 510.77 L371.15 510.77 L375.58 510.38 L380 510.38 L383.85 510.77 L387.69 510.77 L391.54 511.15 L395.38 510.77 L399.23 510.77 L403.08 510.38 L407.31 509.81 L411.54 508.85 L415.38 506.92 L422.31 507.88 L426.15 509.81 L430.38 510.38 L434.23 510.38" stroke="#5fae4a" stroke-width="0.95" fill="none" />
<path d="M367.31 508.85 L371.15 509.23 L375.58 508.46 L380 503.08 L383.85 497.31 L387.69 491.15 L391.54 482.31 L395.38 475.77 L399.23 471.35 L403.08 468.08 L407.31 466.15 L411.54 465 L415.38 466.54 L422.31 496.35 L426.15 497.31 L430.38 498.27 L434.23 500.19" stroke="#4f86cc" stroke-width="0.95" fill="none" />
<path d="M367.31 507.88 L371.15 508.85 L375.58 507.88 L380 502.69 L383.85 491.54 L387.69 477.12 L391.54 464.62 L395.38 455 L399.23 450.19 L403.08 447.31 L407.31 445 L411.54 444.04 L415.38 444.04 L422.31 492.5 L426.15 494.42 L430.38 495.77 L434.23 496.92" stroke="#2a5fb0" stroke-width="0.95" fill="none" />
<circle cx="367.31" cy="510.77" r="1.5" fill="#fff" stroke="#5fae4a" stroke-width="0.7" />
<circle cx="371.15" cy="510.77" r="1.5" fill="#fff" stroke="#5fae4a" stroke-width="0.7" />
<circle cx="375.58" cy="510.38" r="1.5" fill="#fff" stroke="#5fae4a" stroke-width="0.7" />
<circle cx="380" cy="510.38" r="1.5" fill="#fff" stroke="#5fae4a" stroke-width="0.7" />
<circle cx="383.85" cy="510.77" r="1.5" fill="#fff" stroke="#5fae4a" stroke-width="0.7" />
<circle cx="387.69" cy="510.77" r="1.5" fill="#fff" stroke="#5fae4a" stroke-width="0.7" />
<circle cx="391.54" cy="511.15" r="1.5" fill="#fff" stroke="#5fae4a" stroke-width="0.7" />
<circle cx="395.38" cy="510.77" r="1.5" fill="#fff" stroke="#5fae4a" stroke-width="0.7" />
<circle cx="399.23" cy="510.77" r="1.5" fill="#fff" stroke="#5fae4a" stroke-width="0.7" />
<circle cx="403.08" cy="510.38" r="1.5" fill="#fff" stroke="#5fae4a" stroke-width="0.7" />
<circle cx="407.31" cy="509.81" r="1.5" fill="#fff" stroke="#5fae4a" stroke-width="0.7" />
<circle cx="411.54" cy="508.85" r="1.5" fill="#fff" stroke="#5fae4a" stroke-width="0.7" />
<circle cx="415.38" cy="506.92" r="1.5" fill="#fff" stroke="#5fae4a" stroke-width="0.7" />
<circle cx="422.31" cy="507.88" r="1.5" fill="#fff" stroke="#5fae4a" stroke-width="0.7" />
<circle cx="426.15" cy="509.81" r="1.5" fill="#fff" stroke="#5fae4a" stroke-width="0.7" />
<circle cx="430.38" cy="510.38" r="1.5" fill="#fff" stroke="#5fae4a" stroke-width="0.7" />
<circle cx="434.23" cy="510.38" r="1.5" fill="#fff" stroke="#5fae4a" stroke-width="0.7" />
<circle cx="367.31" cy="508.85" r="1.5" fill="#fff" stroke="#4f86cc" stroke-width="0.7" />
<circle cx="371.15" cy="509.23" r="1.5" fill="#fff" stroke="#4f86cc" stroke-width="0.7" />
<circle cx="375.58" cy="508.46" r="1.5" fill="#fff" stroke="#4f86cc" stroke-width="0.7" />
<circle cx="380" cy="503.08" r="1.5" fill="#fff" stroke="#4f86cc" stroke-width="0.7" />
<circle cx="383.85" cy="497.31" r="1.5" fill="#fff" stroke="#4f86cc" stroke-width="0.7" />
<circle cx="387.69" cy="491.15" r="1.5" fill="#fff" stroke="#4f86cc" stroke-width="0.7" />
<circle cx="391.54" cy="482.31" r="1.5" fill="#fff" stroke="#4f86cc" stroke-width="0.7" />
<circle cx="395.38" cy="475.77" r="1.5" fill="#fff" stroke="#4f86cc" stroke-width="0.7" />
<circle cx="399.23" cy="471.35" r="1.5" fill="#fff" stroke="#4f86cc" stroke-width="0.7" />
<circle cx="403.08" cy="468.08" r="1.5" fill="#fff" stroke="#4f86cc" stroke-width="0.7" />
<circle cx="407.31" cy="466.15" r="1.5" fill="#fff" stroke="#4f86cc" stroke-width="0.7" />
<circle cx="411.54" cy="465" r="1.5" fill="#fff" stroke="#4f86cc" stroke-width="0.7" />
<circle cx="415.38" cy="466.54" r="1.5" fill="#fff" stroke="#4f86cc" stroke-width="0.7" />
<circle cx="422.31" cy="496.35" r="1.5" fill="#fff" stroke="#4f86cc" stroke-width="0.7" />
<circle cx="426.15" cy="497.31" r="1.5" fill="#fff" stroke="#4f86cc" stroke-width="0.7" />
<circle cx="430.38" cy="498.27" r="1.5" fill="#fff" stroke="#4f86cc" stroke-width="0.7" />
<circle cx="434.23" cy="500.19" r="1.5" fill="#fff" stroke="#4f86cc" stroke-width="0.7" />
<circle cx="367.31" cy="507.88" r="1.5" fill="#2a5fb0" stroke="#2a5fb0" stroke-width="0.7" />
<circle cx="371.15" cy="508.85" r="1.5" fill="#2a5fb0" stroke="#2a5fb0" stroke-width="0.7" />
<circle cx="375.58" cy="507.88" r="1.5" fill="#2a5fb0" stroke="#2a5fb0" stroke-width="0.7" />
<circle cx="380" cy="502.69" r="1.5" fill="#2a5fb0" stroke="#2a5fb0" stroke-width="0.7" />
<circle cx="383.85" cy="491.54" r="1.5" fill="#2a5fb0" stroke="#2a5fb0" stroke-width="0.7" />
<circle cx="387.69" cy="477.12" r="1.5" fill="#2a5fb0" stroke="#2a5fb0" stroke-width="0.7" />
<circle cx="391.54" cy="464.62" r="1.5" fill="#2a5fb0" stroke="#2a5fb0" stroke-width="0.7" />
<circle cx="395.38" cy="455" r="1.5" fill="#2a5fb0" stroke="#2a5fb0" stroke-width="0.7" />
<circle cx="399.23" cy="450.19" r="1.5" fill="#2a5fb0" stroke="#2a5fb0" stroke-width="0.7" />
<circle cx="403.08" cy="447.31" r="1.5" fill="#2a5fb0" stroke="#2a5fb0" stroke-width="0.7" />
<circle cx="407.31" cy="445" r="1.5" fill="#2a5fb0" stroke="#2a5fb0" stroke-width="0.7" />
<circle cx="411.54" cy="444.04" r="1.5" fill="#2a5fb0" stroke="#2a5fb0" stroke-width="0.7" />
<circle cx="415.38" cy="444.04" r="1.5" fill="#2a5fb0" stroke="#2a5fb0" stroke-width="0.7" />
<circle cx="422.31" cy="492.5" r="1.5" fill="#2a5fb0" stroke="#2a5fb0" stroke-width="0.7" />
<circle cx="426.15" cy="494.42" r="1.5" fill="#2a5fb0" stroke="#2a5fb0" stroke-width="0.7" />
<circle cx="430.38" cy="495.77" r="1.5" fill="#2a5fb0" stroke="#2a5fb0" stroke-width="0.7" />
<circle cx="434.23" cy="496.92" r="1.5" fill="#2a5fb0" stroke="#2a5fb0" stroke-width="0.7" />
<text x="355.7" y="437.6" font-size="7" textLength="42" lengthAdjust="spacingAndGlyphs">&#945;CD3-&#945;CD28</text>
<text x="408" y="437.6" font-size="7" textLength="16.2" lengthAdjust="spacingAndGlyphs">2-DG</text>
<line x1="364.6" y1="574.4" x2="364.6" y2="649.5" stroke="#222" stroke-width="1.4" />
<line x1="363.9" y1="648.8" x2="436.2" y2="648.8" stroke="#222" stroke-width="1.4" />
<line x1="361.6" y1="582.1" x2="364.6" y2="582.1" stroke="#222" stroke-width="1" />
<text font-size="7.1" text-anchor="end" transform="translate(358.3 584.65) scale(0.93 1)">60</text>
<line x1="361.6" y1="602.7" x2="364.6" y2="602.7" stroke="#222" stroke-width="1" />
<text font-size="7.1" text-anchor="end" transform="translate(358.3 605.25) scale(0.93 1)">50</text>
<line x1="361.6" y1="623.5" x2="364.6" y2="623.5" stroke="#222" stroke-width="1" />
<text font-size="7.1" text-anchor="end" transform="translate(358.3 626.05) scale(0.93 1)">40</text>
<line x1="361.6" y1="644" x2="364.6" y2="644" stroke="#222" stroke-width="1" />
<text font-size="7.1" text-anchor="end" transform="translate(358.3 646.55) scale(0.93 1)">30</text>
<line x1="367.9" y1="648.8" x2="367.9" y2="651.3" stroke="#222" stroke-width="1" />
<text font-size="7.1" text-anchor="middle" transform="translate(367.9 659.7) scale(0.93 1)">0</text>
<line x1="385.2" y1="648.8" x2="385.2" y2="651.3" stroke="#222" stroke-width="1" />
<text font-size="7.1" text-anchor="middle" transform="translate(385.2 659.7) scale(0.93 1)">30</text>
<line x1="402.5" y1="648.8" x2="402.5" y2="651.3" stroke="#222" stroke-width="1" />
<text font-size="7.1" text-anchor="middle" transform="translate(402.5 659.7) scale(0.93 1)">60</text>
<line x1="419.8" y1="648.8" x2="419.8" y2="651.3" stroke="#222" stroke-width="1" />
<text font-size="7.1" text-anchor="middle" transform="translate(419.8 659.7) scale(0.93 1)">90</text>
<text x="401.9" y="671.2" font-size="7.3" text-anchor="middle" textLength="42.3" lengthAdjust="spacingAndGlyphs">Time (minutes)</text>
<text x="345.4" y="611" font-size="7.3" text-anchor="middle" transform="rotate(-90 345.4 611)" textLength="45.5" lengthAdjust="spacingAndGlyphs">OCR (pmol/min)</text>
<line x1="376.2" y1="574.4" x2="376.2" y2="648.8" stroke="#333" stroke-width="0.8" stroke-dasharray="0.8 0.8"/>
<line x1="415.4" y1="574.4" x2="415.4" y2="648.8" stroke="#333" stroke-width="0.8" stroke-dasharray="0.8 0.8"/>
<path d="M367.88 637.31 L371.73 640.77 L376.15 643.65 L380 641.73 L383.85 641.73 L387.69 643.65 L391.54 641.15 L395.38 640.77 L399.23 641.73 L403.08 641.15 L407.31 641.73 L411.54 640.77 L415.38 638.85 L422.69 619.23 L426.54 621.92 L430.38 626.35 L434.62 629.23" stroke="#5fae4a" stroke-width="0.95" fill="none" />
<path d="M367.88 634.04 L371.73 637.88 L376.15 638.85 L380 631.54 L383.85 622.5 L387.69 616.15 L391.54 614.23 L395.38 611.92 L399.23 612.31 L403.08 611.54 L407.31 612.88 L411.54 613.46 L415.38 611.92 L422.69 576.92 L426.54 581.54 L430.38 588.85 L434.62 600.77" stroke="#4f86cc" stroke-width="0.95" fill="none" />
<path d="M367.88 626.35 L371.73 632.69 L376.15 634.04 L380 628.27 L383.85 621.15 L387.69 616.15 L391.54 614.81 L395.38 613.85 L399.23 613.46 L403.08 612.88 L407.31 615.38 L411.54 615.38 L415.38 614.81 L422.69 579.62 L426.54 580.19 L430.38 587.31 L434.62 594.23" stroke="#2a5fb0" stroke-width="0.95" fill="none" />
<circle cx="367.88" cy="637.31" r="1.5" fill="#fff" stroke="#5fae4a" stroke-width="0.7" />
<circle cx="371.73" cy="640.77" r="1.5" fill="#fff" stroke="#5fae4a" stroke-width="0.7" />
<circle cx="376.15" cy="643.65" r="1.5" fill="#fff" stroke="#5fae4a" stroke-width="0.7" />
<circle cx="380" cy="641.73" r="1.5" fill="#fff" stroke="#5fae4a" stroke-width="0.7" />
<circle cx="383.85" cy="641.73" r="1.5" fill="#fff" stroke="#5fae4a" stroke-width="0.7" />
<circle cx="387.69" cy="643.65" r="1.5" fill="#fff" stroke="#5fae4a" stroke-width="0.7" />
<circle cx="391.54" cy="641.15" r="1.5" fill="#fff" stroke="#5fae4a" stroke-width="0.7" />
<circle cx="395.38" cy="640.77" r="1.5" fill="#fff" stroke="#5fae4a" stroke-width="0.7" />
<circle cx="399.23" cy="641.73" r="1.5" fill="#fff" stroke="#5fae4a" stroke-width="0.7" />
<circle cx="403.08" cy="641.15" r="1.5" fill="#fff" stroke="#5fae4a" stroke-width="0.7" />
<circle cx="407.31" cy="641.73" r="1.5" fill="#fff" stroke="#5fae4a" stroke-width="0.7" />
<circle cx="411.54" cy="640.77" r="1.5" fill="#fff" stroke="#5fae4a" stroke-width="0.7" />
<circle cx="415.38" cy="638.85" r="1.5" fill="#fff" stroke="#5fae4a" stroke-width="0.7" />
<circle cx="422.69" cy="619.23" r="1.5" fill="#fff" stroke="#5fae4a" stroke-width="0.7" />
<circle cx="426.54" cy="621.92" r="1.5" fill="#fff" stroke="#5fae4a" stroke-width="0.7" />
<circle cx="430.38" cy="626.35" r="1.5" fill="#fff" stroke="#5fae4a" stroke-width="0.7" />
<circle cx="434.62" cy="629.23" r="1.5" fill="#fff" stroke="#5fae4a" stroke-width="0.7" />
<circle cx="367.88" cy="634.04" r="1.5" fill="#fff" stroke="#4f86cc" stroke-width="0.7" />
<circle cx="371.73" cy="637.88" r="1.5" fill="#fff" stroke="#4f86cc" stroke-width="0.7" />
<circle cx="376.15" cy="638.85" r="1.5" fill="#fff" stroke="#4f86cc" stroke-width="0.7" />
<circle cx="380" cy="631.54" r="1.5" fill="#fff" stroke="#4f86cc" stroke-width="0.7" />
<circle cx="383.85" cy="622.5" r="1.5" fill="#fff" stroke="#4f86cc" stroke-width="0.7" />
<circle cx="387.69" cy="616.15" r="1.5" fill="#fff" stroke="#4f86cc" stroke-width="0.7" />
<circle cx="391.54" cy="614.23" r="1.5" fill="#fff" stroke="#4f86cc" stroke-width="0.7" />
<circle cx="395.38" cy="611.92" r="1.5" fill="#fff" stroke="#4f86cc" stroke-width="0.7" />
<circle cx="399.23" cy="612.31" r="1.5" fill="#fff" stroke="#4f86cc" stroke-width="0.7" />
<circle cx="403.08" cy="611.54" r="1.5" fill="#fff" stroke="#4f86cc" stroke-width="0.7" />
<circle cx="407.31" cy="612.88" r="1.5" fill="#fff" stroke="#4f86cc" stroke-width="0.7" />
<circle cx="411.54" cy="613.46" r="1.5" fill="#fff" stroke="#4f86cc" stroke-width="0.7" />
<circle cx="415.38" cy="611.92" r="1.5" fill="#fff" stroke="#4f86cc" stroke-width="0.7" />
<circle cx="422.69" cy="576.92" r="1.5" fill="#fff" stroke="#4f86cc" stroke-width="0.7" />
<circle cx="426.54" cy="581.54" r="1.5" fill="#fff" stroke="#4f86cc" stroke-width="0.7" />
<circle cx="430.38" cy="588.85" r="1.5" fill="#fff" stroke="#4f86cc" stroke-width="0.7" />
<circle cx="434.62" cy="600.77" r="1.5" fill="#fff" stroke="#4f86cc" stroke-width="0.7" />
<circle cx="367.88" cy="626.35" r="1.5" fill="#2a5fb0" stroke="#2a5fb0" stroke-width="0.7" />
<circle cx="371.73" cy="632.69" r="1.5" fill="#2a5fb0" stroke="#2a5fb0" stroke-width="0.7" />
<circle cx="376.15" cy="634.04" r="1.5" fill="#2a5fb0" stroke="#2a5fb0" stroke-width="0.7" />
<circle cx="380" cy="628.27" r="1.5" fill="#2a5fb0" stroke="#2a5fb0" stroke-width="0.7" />
<circle cx="383.85" cy="621.15" r="1.5" fill="#2a5fb0" stroke="#2a5fb0" stroke-width="0.7" />
<circle cx="387.69" cy="616.15" r="1.5" fill="#2a5fb0" stroke="#2a5fb0" stroke-width="0.7" />
<circle cx="391.54" cy="614.81" r="1.5" fill="#2a5fb0" stroke="#2a5fb0" stroke-width="0.7" />
<circle cx="395.38" cy="613.85" r="1.5" fill="#2a5fb0" stroke="#2a5fb0" stroke-width="0.7" />
<circle cx="399.23" cy="613.46" r="1.5" fill="#2a5fb0" stroke="#2a5fb0" stroke-width="0.7" />
<circle cx="403.08" cy="612.88" r="1.5" fill="#2a5fb0" stroke="#2a5fb0" stroke-width="0.7" />
<circle cx="407.31" cy="615.38" r="1.5" fill="#2a5fb0" stroke="#2a5fb0" stroke-width="0.7" />
<circle cx="411.54" cy="615.38" r="1.5" fill="#2a5fb0" stroke="#2a5fb0" stroke-width="0.7" />
<circle cx="415.38" cy="614.81" r="1.5" fill="#2a5fb0" stroke="#2a5fb0" stroke-width="0.7" />
<circle cx="422.69" cy="579.62" r="1.5" fill="#2a5fb0" stroke="#2a5fb0" stroke-width="0.7" />
<circle cx="426.54" cy="580.19" r="1.5" fill="#2a5fb0" stroke="#2a5fb0" stroke-width="0.7" />
<circle cx="430.38" cy="587.31" r="1.5" fill="#2a5fb0" stroke="#2a5fb0" stroke-width="0.7" />
<circle cx="434.62" cy="594.23" r="1.5" fill="#2a5fb0" stroke="#2a5fb0" stroke-width="0.7" />
<text x="355.7" y="570.8" font-size="7" textLength="42" lengthAdjust="spacingAndGlyphs">&#945;CD3-&#945;CD28</text>
<text x="408" y="570.8" font-size="7" textLength="16.2" lengthAdjust="spacingAndGlyphs">2-DG</text>
<line x1="281.3" y1="440.9" x2="281.3" y2="515.5" stroke="#222" stroke-width="1.4" />
<line x1="280.6" y1="514.8" x2="318.7" y2="514.8" stroke="#222" stroke-width="1.4" />
<line x1="278.3" y1="450" x2="281.3" y2="450" stroke="#222" stroke-width="1" />
<text font-size="7.1" text-anchor="end" transform="translate(276.1 452.55) scale(0.93 1)">7.0</text>
<line x1="278.3" y1="467" x2="281.3" y2="467" stroke="#222" stroke-width="1" />
<text font-size="7.1" text-anchor="end" transform="translate(276.1 469.55) scale(0.93 1)">6.0</text>
<line x1="278.3" y1="483.9" x2="281.3" y2="483.9" stroke="#222" stroke-width="1" />
<text font-size="7.1" text-anchor="end" transform="translate(276.1 486.45) scale(0.93 1)">5.0</text>
<line x1="278.3" y1="501" x2="281.3" y2="501" stroke="#222" stroke-width="1" />
<text font-size="7.1" text-anchor="end" transform="translate(276.1 503.55) scale(0.93 1)">4.0</text>
<line x1="292.7" y1="514.8" x2="292.7" y2="517.3" stroke="#222" stroke-width="1" />
<line x1="311.7" y1="514.8" x2="311.7" y2="517.3" stroke="#222" stroke-width="1" />
<text x="251.9" y="478.8" font-size="7.3" text-anchor="middle" transform="rotate(-90 251.9 478.8)" textLength="14.8" lengthAdjust="spacingAndGlyphs">ECAR</text>
<text x="260.1" y="478.8" font-size="7.3" text-anchor="middle" transform="rotate(-90 260.1 478.8)" textLength="57" lengthAdjust="spacingAndGlyphs">(fold from baseline)</text>
<line x1="292.7" y1="444.3" x2="292.7" y2="500.6" stroke="#555" stroke-width="1.2" />
<line x1="311.7" y1="481.6" x2="311.7" y2="512.9" stroke="#555" stroke-width="1.2" />
<rect x="286.05" y="472.1" width="13.3" height="13.9" fill="#d0141e" stroke="none" stroke-width="0" rx="0" />
<line x1="286.05" y1="481" x2="299.35" y2="481" stroke="#222" stroke-width="1" />
<rect x="305.05" y="492" width="13.3" height="17.1" fill="#d0141e" stroke="none" stroke-width="0" rx="0" />
<line x1="305.05" y1="502.8" x2="318.35" y2="502.8" stroke="#222" stroke-width="1" />
<line x1="292.7" y1="444.3" x2="311.7" y2="481.6" stroke="#222" stroke-width="0.8" stroke-dasharray="1.1 0.9"/>
<line x1="292.7" y1="465.1" x2="311.7" y2="498.1" stroke="#222" stroke-width="0.8" stroke-dasharray="1.1 0.9"/>
<line x1="292.7" y1="476.9" x2="311.7" y2="490.5" stroke="#222" stroke-width="0.8" stroke-dasharray="1.1 0.9"/>
<line x1="292.7" y1="481" x2="311.7" y2="507.2" stroke="#222" stroke-width="0.8" stroke-dasharray="1.1 0.9"/>
<line x1="292.7" y1="486.3" x2="311.7" y2="510.6" stroke="#222" stroke-width="0.8" stroke-dasharray="1.1 0.9"/>
<line x1="292.7" y1="500.6" x2="311.7" y2="512.9" stroke="#222" stroke-width="0.8" stroke-dasharray="1.1 0.9"/>
<circle cx="292.7" cy="444.3" r="1.4" fill="#fff" stroke="#333" stroke-width="0.7" />
<circle cx="311.7" cy="481.6" r="1.4" fill="#fff" stroke="#333" stroke-width="0.7" />
<circle cx="292.7" cy="465.1" r="1.4" fill="#fff" stroke="#333" stroke-width="0.7" />
<circle cx="311.7" cy="498.1" r="1" fill="#fff" stroke="none" stroke-width="0" />
<circle cx="292.7" cy="476.9" r="1" fill="#fff" stroke="none" stroke-width="0" />
<circle cx="311.7" cy="490.5" r="1.4" fill="#fff" stroke="#333" stroke-width="0.7" />
<circle cx="292.7" cy="481" r="1" fill="#fff" stroke="none" stroke-width="0" />
<circle cx="311.7" cy="507.2" r="1" fill="#fff" stroke="none" stroke-width="0" />
<circle cx="292.7" cy="486.3" r="1.4" fill="#fff" stroke="#333" stroke-width="0.7" />
<circle cx="311.7" cy="510.6" r="1.4" fill="#fff" stroke="#333" stroke-width="0.7" />
<circle cx="292.7" cy="500.6" r="1.4" fill="#fff" stroke="#333" stroke-width="0.7" />
<circle cx="311.7" cy="512.9" r="1.4" fill="#fff" stroke="#333" stroke-width="0.7" />
<path d="M292.7 441.1 L292.7 439.5 L311.7 439.5 L311.7 441.1" stroke="#222" stroke-width="0.9" fill="none" />
<text x="287.4" y="434.8" font-size="6.9" textLength="28.8" lengthAdjust="spacingAndGlyphs">P = 0.014</text>
<text x="294.7" y="524.8" font-size="7" text-anchor="end" transform="rotate(-45 294.7 524.8)" textLength="15.5" lengthAdjust="spacingAndGlyphs">CTRL</text>
<text x="312.3" y="524.8" font-size="7" text-anchor="end" transform="rotate(-45 312.3 524.8)" textLength="13.2" lengthAdjust="spacingAndGlyphs">AZM</text>
<text x="316.7" y="533" font-size="7" text-anchor="end" transform="rotate(-45 316.7 533)" textLength="24" lengthAdjust="spacingAndGlyphs">10mg.L<tspan dy="-2.4" font-size="4">-1</tspan></text>
<line x1="281.3" y1="574" x2="281.3" y2="648.6" stroke="#222" stroke-width="1.4" />
<line x1="280.6" y1="647.9" x2="318.7" y2="647.9" stroke="#222" stroke-width="1.4" />
<line x1="278.3" y1="574" x2="281.3" y2="574" stroke="#222" stroke-width="1" />
<text font-size="7.1" text-anchor="end" transform="translate(276.1 576.55) scale(0.93 1)">2.5</text>
<line x1="278.3" y1="592.9" x2="281.3" y2="592.9" stroke="#222" stroke-width="1" />
<text font-size="7.1" text-anchor="end" transform="translate(276.1 595.45) scale(0.93 1)">2.2</text>
<line x1="278.3" y1="611.5" x2="281.3" y2="611.5" stroke="#222" stroke-width="1" />
<text font-size="7.1" text-anchor="end" transform="translate(276.1 614.05) scale(0.93 1)">2.0</text>
<line x1="278.3" y1="630.5" x2="281.3" y2="630.5" stroke="#222" stroke-width="1" />
<text font-size="7.1" text-anchor="end" transform="translate(276.1 633.05) scale(0.93 1)">1.8</text>
<line x1="292.7" y1="647.9" x2="292.7" y2="650.4" stroke="#222" stroke-width="1" />
<line x1="311.7" y1="647.9" x2="311.7" y2="650.4" stroke="#222" stroke-width="1" />
<text x="251.9" y="611" font-size="7.3" text-anchor="middle" transform="rotate(-90 251.9 611)" textLength="12.5" lengthAdjust="spacingAndGlyphs">OCR</text>
<text x="260.1" y="611" font-size="7.3" text-anchor="middle" transform="rotate(-90 260.1 611)" textLength="57" lengthAdjust="spacingAndGlyphs">(fold from baseline)</text>
<line x1="292.7" y1="576.8" x2="292.7" y2="644.1" stroke="#555" stroke-width="1.2" />
<line x1="311.7" y1="585.7" x2="311.7" y2="640.7" stroke="#555" stroke-width="1.2" />
<rect x="286.05" y="600.1" width="13.3" height="39.3" fill="#d0141e" stroke="none" stroke-width="0" rx="0" />
<line x1="286.05" y1="626.7" x2="299.35" y2="626.7" stroke="#222" stroke-width="1" />
<rect x="305.05" y="615.3" width="13.3" height="17" fill="#d0141e" stroke="none" stroke-width="0" rx="0" />
<line x1="305.05" y1="625.5" x2="318.35" y2="625.5" stroke="#222" stroke-width="1" />
<line x1="292.7" y1="576.8" x2="311.7" y2="585.7" stroke="#222" stroke-width="0.8" stroke-dasharray="1.1 0.9"/>
<line x1="292.7" y1="593.9" x2="311.7" y2="611.5" stroke="#222" stroke-width="0.8" stroke-dasharray="1.1 0.9"/>
<line x1="292.7" y1="618.5" x2="311.7" y2="625.1" stroke="#222" stroke-width="0.8" stroke-dasharray="1.1 0.9"/>
<line x1="292.7" y1="635" x2="311.7" y2="627.6" stroke="#222" stroke-width="0.8" stroke-dasharray="1.1 0.9"/>
<line x1="292.7" y1="644.1" x2="311.7" y2="634.6" stroke="#222" stroke-width="0.8" stroke-dasharray="1.1 0.9"/>
<line x1="292.7" y1="641.3" x2="311.7" y2="640.7" stroke="#222" stroke-width="0.8" stroke-dasharray="1.1 0.9"/>
<circle cx="292.7" cy="576.8" r="1.4" fill="#fff" stroke="#333" stroke-width="0.7" />
<circle cx="311.7" cy="585.7" r="1.4" fill="#fff" stroke="#333" stroke-width="0.7" />
<circle cx="292.7" cy="593.9" r="1.4" fill="#fff" stroke="#333" stroke-width="0.7" />
<circle cx="311.7" cy="611.5" r="1.4" fill="#fff" stroke="#333" stroke-width="0.7" />
<circle cx="292.7" cy="618.5" r="1" fill="#fff" stroke="none" stroke-width="0" />
<circle cx="311.7" cy="625.1" r="1" fill="#fff" stroke="none" stroke-width="0" />
<circle cx="292.7" cy="635" r="1" fill="#fff" stroke="none" stroke-width="0" />
<circle cx="311.7" cy="627.6" r="1" fill="#fff" stroke="none" stroke-width="0" />
<circle cx="292.7" cy="644.1" r="1.4" fill="#fff" stroke="#333" stroke-width="0.7" />
<circle cx="311.7" cy="634.6" r="1.4" fill="#fff" stroke="#333" stroke-width="0.7" />
<circle cx="292.7" cy="641.3" r="1.4" fill="#fff" stroke="#333" stroke-width="0.7" />
<circle cx="311.7" cy="640.7" r="1.4" fill="#fff" stroke="#333" stroke-width="0.7" />
<path d="M292.7 574.6 L292.7 573 L311.7 573 L311.7 574.6" stroke="#222" stroke-width="0.9" fill="none" />
<text x="287.4" y="569.8" font-size="6.9" textLength="28.8" lengthAdjust="spacingAndGlyphs">P = 0.014</text>
<text x="294.7" y="657.9" font-size="7" text-anchor="end" transform="rotate(-45 294.7 657.9)" textLength="15.5" lengthAdjust="spacingAndGlyphs">CTRL</text>
<text x="312.3" y="657.9" font-size="7" text-anchor="end" transform="rotate(-45 312.3 657.9)" textLength="13.2" lengthAdjust="spacingAndGlyphs">AZM</text>
<text x="316.7" y="666.1" font-size="7" text-anchor="end" transform="rotate(-45 316.7 666.1)" textLength="24" lengthAdjust="spacingAndGlyphs">10mg.L<tspan dy="-2.4" font-size="4">-1</tspan></text>
<line x1="479.4" y1="439.9" x2="479.4" y2="514.5" stroke="#222" stroke-width="1.4" />
<line x1="478.7" y1="513.8" x2="518.7" y2="513.8" stroke="#222" stroke-width="1.4" />
<line x1="476.4" y1="455.5" x2="479.4" y2="455.5" stroke="#222" stroke-width="1" />
<text font-size="7.1" text-anchor="end" transform="translate(474.2 458.05) scale(0.93 1)">5.0</text>
<line x1="476.4" y1="476.5" x2="479.4" y2="476.5" stroke="#222" stroke-width="1" />
<text font-size="7.1" text-anchor="end" transform="translate(474.2 479.05) scale(0.93 1)">4.0</text>
<line x1="476.4" y1="497.7" x2="479.4" y2="497.7" stroke="#222" stroke-width="1" />
<text font-size="7.1" text-anchor="end" transform="translate(474.2 500.25) scale(0.93 1)">3.0</text>
<line x1="490.8" y1="513.8" x2="490.8" y2="516.3" stroke="#222" stroke-width="1" />
<line x1="509.8" y1="513.8" x2="509.8" y2="516.3" stroke="#222" stroke-width="1" />
<text x="450" y="478.8" font-size="7.3" text-anchor="middle" transform="rotate(-90 450 478.8)" textLength="14.8" lengthAdjust="spacingAndGlyphs">ECAR</text>
<text x="458.2" y="478.8" font-size="7.3" text-anchor="middle" transform="rotate(-90 458.2 478.8)" textLength="57" lengthAdjust="spacingAndGlyphs">(fold from baseline)</text>
<line x1="490.8" y1="443.7" x2="490.8" y2="504.9" stroke="#555" stroke-width="1.2" />
<line x1="509.8" y1="465.5" x2="509.8" y2="511.4" stroke="#555" stroke-width="1.2" />
<rect x="484.15" y="453.2" width="13.3" height="25.6" fill="#2e6cbf" stroke="none" stroke-width="0" rx="0" />
<line x1="484.15" y1="463.2" x2="497.45" y2="463.2" stroke="#222" stroke-width="1" />
<rect x="503.15" y="468.3" width="13.3" height="18.4" fill="#2e6cbf" stroke="none" stroke-width="0" rx="0" />
<line x1="503.15" y1="477.8" x2="516.45" y2="477.8" stroke="#222" stroke-width="1" />
<line x1="490.8" y1="443.7" x2="509.8" y2="465.5" stroke="#222" stroke-width="0.8" stroke-dasharray="1.1 0.9"/>
<line x1="490.8" y1="450.7" x2="509.8" y2="476.5" stroke="#222" stroke-width="0.8" stroke-dasharray="1.1 0.9"/>
<line x1="490.8" y1="458.9" x2="509.8" y2="479.1" stroke="#222" stroke-width="0.8" stroke-dasharray="1.1 0.9"/>
<line x1="490.8" y1="468.3" x2="509.8" y2="479.1" stroke="#222" stroke-width="0.8" stroke-dasharray="1.1 0.9"/>
<line x1="490.8" y1="481.6" x2="509.8" y2="489.8" stroke="#222" stroke-width="0.8" stroke-dasharray="1.1 0.9"/>
<line x1="490.8" y1="504.9" x2="509.8" y2="511.4" stroke="#222" stroke-width="0.8" stroke-dasharray="1.1 0.9"/>
<circle cx="490.8" cy="443.7" r="1.4" fill="#fff" stroke="#333" stroke-width="0.7" />
<circle cx="509.8" cy="465.5" r="1.4" fill="#fff" stroke="#333" stroke-width="0.7" />
<circle cx="490.8" cy="450.7" r="1.4" fill="#fff" stroke="#333" stroke-width="0.7" />
<circle cx="509.8" cy="476.5" r="1" fill="#fff" stroke="none" stroke-width="0" />
<circle cx="490.8" cy="458.9" r="1" fill="#fff" stroke="none" stroke-width="0" />
<circle cx="509.8" cy="479.1" r="1" fill="#fff" stroke="none" stroke-width="0" />
<circle cx="490.8" cy="468.3" r="1" fill="#fff" stroke="none" stroke-width="0" />
<circle cx="509.8" cy="479.1" r="1" fill="#fff" stroke="none" stroke-width="0" />
<circle cx="490.8" cy="481.6" r="1.4" fill="#fff" stroke="#333" stroke-width="0.7" />
<circle cx="509.8" cy="489.8" r="1.4" fill="#fff" stroke="#333" stroke-width="0.7" />
<circle cx="490.8" cy="504.9" r="1.4" fill="#fff" stroke="#333" stroke-width="0.7" />
<circle cx="509.8" cy="511.4" r="1.4" fill="#fff" stroke="#333" stroke-width="0.7" />
<path d="M490.8 441.1 L490.8 439.5 L509.8 439.5 L509.8 441.1" stroke="#222" stroke-width="0.9" fill="none" />
<text x="485.5" y="434.8" font-size="6.9" textLength="28.8" lengthAdjust="spacingAndGlyphs"><tspan font-style="italic">P</tspan> = 0.014</text>
<text x="491.2" y="524.8" font-size="7" text-anchor="end" transform="rotate(-45 491.2 524.8)" textLength="15.5" lengthAdjust="spacingAndGlyphs">CTRL</text>
<text x="508.8" y="524.8" font-size="7" text-anchor="end" transform="rotate(-45 508.8 524.8)" textLength="13.2" lengthAdjust="spacingAndGlyphs">AZM</text>
<text x="513.2" y="533" font-size="7" text-anchor="end" transform="rotate(-45 513.2 533)" textLength="24" lengthAdjust="spacingAndGlyphs">10mg.L<tspan dy="-2.4" font-size="4">-1</tspan></text>
<line x1="479.4" y1="573.4" x2="479.4" y2="648.2" stroke="#222" stroke-width="1.4" />
<line x1="478.7" y1="647.5" x2="518.7" y2="647.5" stroke="#222" stroke-width="1.4" />
<line x1="476.4" y1="576.4" x2="479.4" y2="576.4" stroke="#222" stroke-width="1" />
<text font-size="7.1" text-anchor="end" transform="translate(474.2 578.95) scale(0.93 1)">2.0</text>
<line x1="476.4" y1="597.1" x2="479.4" y2="597.1" stroke="#222" stroke-width="1" />
<text font-size="7.1" text-anchor="end" transform="translate(474.2 599.65) scale(0.93 1)">1.8</text>
<line x1="476.4" y1="617.6" x2="479.4" y2="617.6" stroke="#222" stroke-width="1" />
<text font-size="7.1" text-anchor="end" transform="translate(474.2 620.15) scale(0.93 1)">1.6</text>
<line x1="476.4" y1="638.4" x2="479.4" y2="638.4" stroke="#222" stroke-width="1" />
<text font-size="7.1" text-anchor="end" transform="translate(474.2 640.95) scale(0.93 1)">1.4</text>
<line x1="490.8" y1="647.5" x2="490.8" y2="650" stroke="#222" stroke-width="1" />
<line x1="509.8" y1="647.5" x2="509.8" y2="650" stroke="#222" stroke-width="1" />
<text x="450" y="611" font-size="7.3" text-anchor="middle" transform="rotate(-90 450 611)" textLength="12.5" lengthAdjust="spacingAndGlyphs">OCR</text>
<text x="458.2" y="611" font-size="7.3" text-anchor="middle" transform="rotate(-90 458.2 611)" textLength="57" lengthAdjust="spacingAndGlyphs">(fold from baseline)</text>
<line x1="490.8" y1="602.4" x2="490.8" y2="622.3" stroke="#555" stroke-width="1.2" />
<line x1="509.8" y1="576.2" x2="509.8" y2="643.7" stroke="#555" stroke-width="1.2" />
<rect x="484.15" y="603.9" width="13.3" height="12.7" fill="#2e6cbf" stroke="none" stroke-width="0" rx="0" />
<line x1="484.15" y1="607.7" x2="497.45" y2="607.7" stroke="#222" stroke-width="1" />
<rect x="503.15" y="592" width="13.3" height="25.6" fill="#2e6cbf" stroke="none" stroke-width="0" rx="0" />
<line x1="503.15" y1="612.8" x2="516.45" y2="612.8" stroke="#222" stroke-width="1" />
<line x1="490.8" y1="602.4" x2="509.8" y2="576.2" stroke="#222" stroke-width="0.8" stroke-dasharray="1.1 0.9"/>
<line x1="490.8" y1="604.7" x2="509.8" y2="585" stroke="#222" stroke-width="0.8" stroke-dasharray="1.1 0.9"/>
<line x1="490.8" y1="610.4" x2="509.8" y2="611.5" stroke="#222" stroke-width="0.8" stroke-dasharray="1.1 0.9"/>
<line x1="490.8" y1="619.1" x2="509.8" y2="618.5" stroke="#222" stroke-width="0.8" stroke-dasharray="1.1 0.9"/>
<line x1="490.8" y1="622.3" x2="509.8" y2="643.7" stroke="#222" stroke-width="0.8" stroke-dasharray="1.1 0.9"/>
<circle cx="490.8" cy="602.4" r="1.4" fill="#fff" stroke="#333" stroke-width="0.7" />
<circle cx="509.8" cy="576.2" r="1.4" fill="#fff" stroke="#333" stroke-width="0.7" />
<circle cx="490.8" cy="604.7" r="1.4" fill="#fff" stroke="#333" stroke-width="0.7" />
<circle cx="509.8" cy="585" r="1.4" fill="#fff" stroke="#333" stroke-width="0.7" />
<circle cx="490.8" cy="610.4" r="1" fill="#fff" stroke="none" stroke-width="0" />
<circle cx="509.8" cy="611.5" r="1" fill="#fff" stroke="none" stroke-width="0" />
<circle cx="490.8" cy="619.1" r="1.4" fill="#fff" stroke="#333" stroke-width="0.7" />
<circle cx="509.8" cy="618.5" r="1.4" fill="#fff" stroke="#333" stroke-width="0.7" />
<circle cx="490.8" cy="622.3" r="1.4" fill="#fff" stroke="#333" stroke-width="0.7" />
<circle cx="509.8" cy="643.7" r="1.4" fill="#fff" stroke="#333" stroke-width="0.7" />
<path d="M490.8 574 L490.8 572.4 L509.8 572.4 L509.8 574" stroke="#222" stroke-width="0.9" fill="none" />
<text x="485.5" y="566.4" font-size="6.9" textLength="28.8" lengthAdjust="spacingAndGlyphs"><tspan font-style="italic">P</tspan> = 0.999</text>
<text x="491.2" y="658.5" font-size="7" text-anchor="end" transform="rotate(-45 491.2 658.5)" textLength="15.5" lengthAdjust="spacingAndGlyphs">CTRL</text>
<text x="508.8" y="658.5" font-size="7" text-anchor="end" transform="rotate(-45 508.8 658.5)" textLength="13.2" lengthAdjust="spacingAndGlyphs">AZM</text>
<text x="513.2" y="666.7" font-size="7" text-anchor="end" transform="rotate(-45 513.2 666.7)" textLength="24" lengthAdjust="spacingAndGlyphs">10mg.L<tspan dy="-2.4" font-size="4">-1</tspan></text>
</svg>
</body></html>
